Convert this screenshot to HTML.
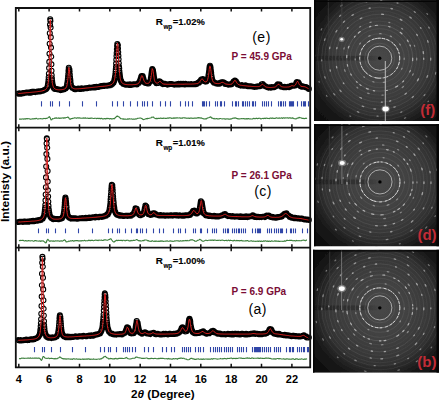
<!DOCTYPE html><html><head><meta charset="utf-8"><style>html,body{margin:0;padding:0;background:#fff;}svg{display:block;}text{font-family:"Liberation Sans",sans-serif;}</style></head><body>
<svg width="440" height="401" viewBox="0 0 440 401">
<rect width="440" height="401" fill="#fff"/>
<path d="M15.8 93.6a2.5 2.5 0 1 0 5.0 0a2.5 2.5 0 1 0 -5.0 0M16.9 93.2a2.5 2.5 0 1 0 5.0 0a2.5 2.5 0 1 0 -5.0 0M18.1 93.7a2.5 2.5 0 1 0 5.0 0a2.5 2.5 0 1 0 -5.0 0M19.2 93.6a2.5 2.5 0 1 0 5.0 0a2.5 2.5 0 1 0 -5.0 0M20.4 93.1a2.5 2.5 0 1 0 5.0 0a2.5 2.5 0 1 0 -5.0 0M21.5 93.1a2.5 2.5 0 1 0 5.0 0a2.5 2.5 0 1 0 -5.0 0M22.6 92.7a2.5 2.5 0 1 0 5.0 0a2.5 2.5 0 1 0 -5.0 0M23.8 92.6a2.5 2.5 0 1 0 5.0 0a2.5 2.5 0 1 0 -5.0 0M24.9 92.5a2.5 2.5 0 1 0 5.0 0a2.5 2.5 0 1 0 -5.0 0M26.1 92.7a2.5 2.5 0 1 0 5.0 0a2.5 2.5 0 1 0 -5.0 0M27.2 92.2a2.5 2.5 0 1 0 5.0 0a2.5 2.5 0 1 0 -5.0 0M28.3 92.7a2.5 2.5 0 1 0 5.0 0a2.5 2.5 0 1 0 -5.0 0M29.5 91.9a2.5 2.5 0 1 0 5.0 0a2.5 2.5 0 1 0 -5.0 0M30.6 91.9a2.5 2.5 0 1 0 5.0 0a2.5 2.5 0 1 0 -5.0 0M31.8 91.7a2.5 2.5 0 1 0 5.0 0a2.5 2.5 0 1 0 -5.0 0M32.9 92.1a2.5 2.5 0 1 0 5.0 0a2.5 2.5 0 1 0 -5.0 0M34.0 91.7a2.5 2.5 0 1 0 5.0 0a2.5 2.5 0 1 0 -5.0 0M35.2 91.6a2.5 2.5 0 1 0 5.0 0a2.5 2.5 0 1 0 -5.0 0M36.3 91.3a2.5 2.5 0 1 0 5.0 0a2.5 2.5 0 1 0 -5.0 0M37.5 91.4a2.5 2.5 0 1 0 5.0 0a2.5 2.5 0 1 0 -5.0 0M38.6 91.1a2.5 2.5 0 1 0 5.0 0a2.5 2.5 0 1 0 -5.0 0M39.7 90.7a2.5 2.5 0 1 0 5.0 0a2.5 2.5 0 1 0 -5.0 0M40.9 90.6a2.5 2.5 0 1 0 5.0 0a2.5 2.5 0 1 0 -5.0 0M41.8 90.1a2.5 2.5 0 1 0 5.0 0a2.5 2.5 0 1 0 -5.0 0M42.8 89.5a2.5 2.5 0 1 0 5.0 0a2.5 2.5 0 1 0 -5.0 0M43.7 89.2a2.5 2.5 0 1 0 5.0 0a2.5 2.5 0 1 0 -5.0 0M44.5 88.0a2.5 2.5 0 1 0 5.0 0a2.5 2.5 0 1 0 -5.0 0M45.1 86.5a2.5 2.5 0 1 0 5.0 0a2.5 2.5 0 1 0 -5.0 0M45.4 85.1a2.5 2.5 0 1 0 5.0 0a2.5 2.5 0 1 0 -5.0 0M45.6 83.5a2.5 2.5 0 1 0 5.0 0a2.5 2.5 0 1 0 -5.0 0M45.8 82.0a2.5 2.5 0 1 0 5.0 0a2.5 2.5 0 1 0 -5.0 0M46.0 80.0a2.5 2.5 0 1 0 5.0 0a2.5 2.5 0 1 0 -5.0 0M46.2 77.3a2.5 2.5 0 1 0 5.0 0a2.5 2.5 0 1 0 -5.0 0M46.4 73.7a2.5 2.5 0 1 0 5.0 0a2.5 2.5 0 1 0 -5.0 0M46.6 68.1a2.5 2.5 0 1 0 5.0 0a2.5 2.5 0 1 0 -5.0 0M46.8 61.9a2.5 2.5 0 1 0 5.0 0a2.5 2.5 0 1 0 -5.0 0M47.0 53.7a2.5 2.5 0 1 0 5.0 0a2.5 2.5 0 1 0 -5.0 0M47.2 43.8a2.5 2.5 0 1 0 5.0 0a2.5 2.5 0 1 0 -5.0 0M47.3 33.2a2.5 2.5 0 1 0 5.0 0a2.5 2.5 0 1 0 -5.0 0M47.5 24.7a2.5 2.5 0 1 0 5.0 0a2.5 2.5 0 1 0 -5.0 0M47.7 19.2a2.5 2.5 0 1 0 5.0 0a2.5 2.5 0 1 0 -5.0 0M47.9 20.9a2.5 2.5 0 1 0 5.0 0a2.5 2.5 0 1 0 -5.0 0M48.1 27.5a2.5 2.5 0 1 0 5.0 0a2.5 2.5 0 1 0 -5.0 0M48.3 37.2a2.5 2.5 0 1 0 5.0 0a2.5 2.5 0 1 0 -5.0 0M48.5 47.6a2.5 2.5 0 1 0 5.0 0a2.5 2.5 0 1 0 -5.0 0M48.7 56.7a2.5 2.5 0 1 0 5.0 0a2.5 2.5 0 1 0 -5.0 0M48.9 64.3a2.5 2.5 0 1 0 5.0 0a2.5 2.5 0 1 0 -5.0 0M49.0 70.7a2.5 2.5 0 1 0 5.0 0a2.5 2.5 0 1 0 -5.0 0M49.2 75.2a2.5 2.5 0 1 0 5.0 0a2.5 2.5 0 1 0 -5.0 0M49.4 78.2a2.5 2.5 0 1 0 5.0 0a2.5 2.5 0 1 0 -5.0 0M49.6 80.8a2.5 2.5 0 1 0 5.0 0a2.5 2.5 0 1 0 -5.0 0M49.8 82.5a2.5 2.5 0 1 0 5.0 0a2.5 2.5 0 1 0 -5.0 0M50.0 83.8a2.5 2.5 0 1 0 5.0 0a2.5 2.5 0 1 0 -5.0 0M50.2 85.1a2.5 2.5 0 1 0 5.0 0a2.5 2.5 0 1 0 -5.0 0M50.6 86.1a2.5 2.5 0 1 0 5.0 0a2.5 2.5 0 1 0 -5.0 0M51.0 87.4a2.5 2.5 0 1 0 5.0 0a2.5 2.5 0 1 0 -5.0 0M51.5 88.2a2.5 2.5 0 1 0 5.0 0a2.5 2.5 0 1 0 -5.0 0M52.3 88.9a2.5 2.5 0 1 0 5.0 0a2.5 2.5 0 1 0 -5.0 0M53.2 88.9a2.5 2.5 0 1 0 5.0 0a2.5 2.5 0 1 0 -5.0 0M54.4 89.3a2.5 2.5 0 1 0 5.0 0a2.5 2.5 0 1 0 -5.0 0M55.5 89.4a2.5 2.5 0 1 0 5.0 0a2.5 2.5 0 1 0 -5.0 0M56.7 89.6a2.5 2.5 0 1 0 5.0 0a2.5 2.5 0 1 0 -5.0 0M57.8 90.1a2.5 2.5 0 1 0 5.0 0a2.5 2.5 0 1 0 -5.0 0M58.9 90.0a2.5 2.5 0 1 0 5.0 0a2.5 2.5 0 1 0 -5.0 0M60.1 89.8a2.5 2.5 0 1 0 5.0 0a2.5 2.5 0 1 0 -5.0 0M61.2 89.0a2.5 2.5 0 1 0 5.0 0a2.5 2.5 0 1 0 -5.0 0M62.2 89.1a2.5 2.5 0 1 0 5.0 0a2.5 2.5 0 1 0 -5.0 0M63.1 88.5a2.5 2.5 0 1 0 5.0 0a2.5 2.5 0 1 0 -5.0 0M63.9 87.5a2.5 2.5 0 1 0 5.0 0a2.5 2.5 0 1 0 -5.0 0M64.2 86.5a2.5 2.5 0 1 0 5.0 0a2.5 2.5 0 1 0 -5.0 0M64.6 84.4a2.5 2.5 0 1 0 5.0 0a2.5 2.5 0 1 0 -5.0 0M64.8 83.3a2.5 2.5 0 1 0 5.0 0a2.5 2.5 0 1 0 -5.0 0M65.0 82.4a2.5 2.5 0 1 0 5.0 0a2.5 2.5 0 1 0 -5.0 0M65.2 80.7a2.5 2.5 0 1 0 5.0 0a2.5 2.5 0 1 0 -5.0 0M65.4 78.9a2.5 2.5 0 1 0 5.0 0a2.5 2.5 0 1 0 -5.0 0M65.6 76.2a2.5 2.5 0 1 0 5.0 0a2.5 2.5 0 1 0 -5.0 0M65.8 74.1a2.5 2.5 0 1 0 5.0 0a2.5 2.5 0 1 0 -5.0 0M66.0 71.0a2.5 2.5 0 1 0 5.0 0a2.5 2.5 0 1 0 -5.0 0M66.2 69.4a2.5 2.5 0 1 0 5.0 0a2.5 2.5 0 1 0 -5.0 0M66.3 67.8a2.5 2.5 0 1 0 5.0 0a2.5 2.5 0 1 0 -5.0 0M66.9 69.5a2.5 2.5 0 1 0 5.0 0a2.5 2.5 0 1 0 -5.0 0M67.1 71.6a2.5 2.5 0 1 0 5.0 0a2.5 2.5 0 1 0 -5.0 0M67.3 74.5a2.5 2.5 0 1 0 5.0 0a2.5 2.5 0 1 0 -5.0 0M67.5 77.1a2.5 2.5 0 1 0 5.0 0a2.5 2.5 0 1 0 -5.0 0M67.7 79.0a2.5 2.5 0 1 0 5.0 0a2.5 2.5 0 1 0 -5.0 0M67.9 80.6a2.5 2.5 0 1 0 5.0 0a2.5 2.5 0 1 0 -5.0 0M68.0 82.3a2.5 2.5 0 1 0 5.0 0a2.5 2.5 0 1 0 -5.0 0M68.2 84.0a2.5 2.5 0 1 0 5.0 0a2.5 2.5 0 1 0 -5.0 0M68.4 84.5a2.5 2.5 0 1 0 5.0 0a2.5 2.5 0 1 0 -5.0 0M68.8 86.5a2.5 2.5 0 1 0 5.0 0a2.5 2.5 0 1 0 -5.0 0M69.4 87.2a2.5 2.5 0 1 0 5.0 0a2.5 2.5 0 1 0 -5.0 0M70.1 87.9a2.5 2.5 0 1 0 5.0 0a2.5 2.5 0 1 0 -5.0 0M71.1 88.2a2.5 2.5 0 1 0 5.0 0a2.5 2.5 0 1 0 -5.0 0M72.2 89.2a2.5 2.5 0 1 0 5.0 0a2.5 2.5 0 1 0 -5.0 0M73.4 89.2a2.5 2.5 0 1 0 5.0 0a2.5 2.5 0 1 0 -5.0 0M74.5 88.7a2.5 2.5 0 1 0 5.0 0a2.5 2.5 0 1 0 -5.0 0M75.7 88.5a2.5 2.5 0 1 0 5.0 0a2.5 2.5 0 1 0 -5.0 0M76.8 88.9a2.5 2.5 0 1 0 5.0 0a2.5 2.5 0 1 0 -5.0 0M77.9 89.0a2.5 2.5 0 1 0 5.0 0a2.5 2.5 0 1 0 -5.0 0M79.1 88.2a2.5 2.5 0 1 0 5.0 0a2.5 2.5 0 1 0 -5.0 0M80.2 88.6a2.5 2.5 0 1 0 5.0 0a2.5 2.5 0 1 0 -5.0 0M81.3 88.6a2.5 2.5 0 1 0 5.0 0a2.5 2.5 0 1 0 -5.0 0M82.5 88.2a2.5 2.5 0 1 0 5.0 0a2.5 2.5 0 1 0 -5.0 0M83.6 88.2a2.5 2.5 0 1 0 5.0 0a2.5 2.5 0 1 0 -5.0 0M84.8 88.2a2.5 2.5 0 1 0 5.0 0a2.5 2.5 0 1 0 -5.0 0M85.9 87.7a2.5 2.5 0 1 0 5.0 0a2.5 2.5 0 1 0 -5.0 0M87.0 87.6a2.5 2.5 0 1 0 5.0 0a2.5 2.5 0 1 0 -5.0 0M88.2 87.8a2.5 2.5 0 1 0 5.0 0a2.5 2.5 0 1 0 -5.0 0M89.3 87.5a2.5 2.5 0 1 0 5.0 0a2.5 2.5 0 1 0 -5.0 0M90.5 87.4a2.5 2.5 0 1 0 5.0 0a2.5 2.5 0 1 0 -5.0 0M91.6 87.1a2.5 2.5 0 1 0 5.0 0a2.5 2.5 0 1 0 -5.0 0M92.8 87.5a2.5 2.5 0 1 0 5.0 0a2.5 2.5 0 1 0 -5.0 0M93.9 86.8a2.5 2.5 0 1 0 5.0 0a2.5 2.5 0 1 0 -5.0 0M95.0 87.0a2.5 2.5 0 1 0 5.0 0a2.5 2.5 0 1 0 -5.0 0M96.2 87.0a2.5 2.5 0 1 0 5.0 0a2.5 2.5 0 1 0 -5.0 0M97.3 86.5a2.5 2.5 0 1 0 5.0 0a2.5 2.5 0 1 0 -5.0 0M98.5 86.1a2.5 2.5 0 1 0 5.0 0a2.5 2.5 0 1 0 -5.0 0M99.6 86.1a2.5 2.5 0 1 0 5.0 0a2.5 2.5 0 1 0 -5.0 0M100.7 85.9a2.5 2.5 0 1 0 5.0 0a2.5 2.5 0 1 0 -5.0 0M101.9 85.9a2.5 2.5 0 1 0 5.0 0a2.5 2.5 0 1 0 -5.0 0M103.0 85.7a2.5 2.5 0 1 0 5.0 0a2.5 2.5 0 1 0 -5.0 0M104.1 85.8a2.5 2.5 0 1 0 5.0 0a2.5 2.5 0 1 0 -5.0 0M105.3 85.6a2.5 2.5 0 1 0 5.0 0a2.5 2.5 0 1 0 -5.0 0M106.4 85.4a2.5 2.5 0 1 0 5.0 0a2.5 2.5 0 1 0 -5.0 0M107.6 85.3a2.5 2.5 0 1 0 5.0 0a2.5 2.5 0 1 0 -5.0 0M108.5 84.9a2.5 2.5 0 1 0 5.0 0a2.5 2.5 0 1 0 -5.0 0M109.5 84.3a2.5 2.5 0 1 0 5.0 0a2.5 2.5 0 1 0 -5.0 0M110.2 83.4a2.5 2.5 0 1 0 5.0 0a2.5 2.5 0 1 0 -5.0 0M111.0 82.7a2.5 2.5 0 1 0 5.0 0a2.5 2.5 0 1 0 -5.0 0M111.6 81.3a2.5 2.5 0 1 0 5.0 0a2.5 2.5 0 1 0 -5.0 0M111.9 79.7a2.5 2.5 0 1 0 5.0 0a2.5 2.5 0 1 0 -5.0 0M112.3 78.3a2.5 2.5 0 1 0 5.0 0a2.5 2.5 0 1 0 -5.0 0M112.5 76.9a2.5 2.5 0 1 0 5.0 0a2.5 2.5 0 1 0 -5.0 0M112.7 75.8a2.5 2.5 0 1 0 5.0 0a2.5 2.5 0 1 0 -5.0 0M112.9 74.1a2.5 2.5 0 1 0 5.0 0a2.5 2.5 0 1 0 -5.0 0M113.1 71.7a2.5 2.5 0 1 0 5.0 0a2.5 2.5 0 1 0 -5.0 0M113.3 69.4a2.5 2.5 0 1 0 5.0 0a2.5 2.5 0 1 0 -5.0 0M113.5 66.7a2.5 2.5 0 1 0 5.0 0a2.5 2.5 0 1 0 -5.0 0M113.6 63.5a2.5 2.5 0 1 0 5.0 0a2.5 2.5 0 1 0 -5.0 0M113.8 59.8a2.5 2.5 0 1 0 5.0 0a2.5 2.5 0 1 0 -5.0 0M114.0 56.1a2.5 2.5 0 1 0 5.0 0a2.5 2.5 0 1 0 -5.0 0M114.2 53.1a2.5 2.5 0 1 0 5.0 0a2.5 2.5 0 1 0 -5.0 0M114.4 49.3a2.5 2.5 0 1 0 5.0 0a2.5 2.5 0 1 0 -5.0 0M114.6 45.9a2.5 2.5 0 1 0 5.0 0a2.5 2.5 0 1 0 -5.0 0M114.8 44.0a2.5 2.5 0 1 0 5.0 0a2.5 2.5 0 1 0 -5.0 0M115.4 45.2a2.5 2.5 0 1 0 5.0 0a2.5 2.5 0 1 0 -5.0 0M115.5 48.5a2.5 2.5 0 1 0 5.0 0a2.5 2.5 0 1 0 -5.0 0M115.7 52.2a2.5 2.5 0 1 0 5.0 0a2.5 2.5 0 1 0 -5.0 0M115.9 55.8a2.5 2.5 0 1 0 5.0 0a2.5 2.5 0 1 0 -5.0 0M116.1 59.3a2.5 2.5 0 1 0 5.0 0a2.5 2.5 0 1 0 -5.0 0M116.3 63.2a2.5 2.5 0 1 0 5.0 0a2.5 2.5 0 1 0 -5.0 0M116.5 66.3a2.5 2.5 0 1 0 5.0 0a2.5 2.5 0 1 0 -5.0 0M116.7 68.4a2.5 2.5 0 1 0 5.0 0a2.5 2.5 0 1 0 -5.0 0M116.9 71.1a2.5 2.5 0 1 0 5.0 0a2.5 2.5 0 1 0 -5.0 0M117.1 73.2a2.5 2.5 0 1 0 5.0 0a2.5 2.5 0 1 0 -5.0 0M117.3 74.9a2.5 2.5 0 1 0 5.0 0a2.5 2.5 0 1 0 -5.0 0M117.5 76.6a2.5 2.5 0 1 0 5.0 0a2.5 2.5 0 1 0 -5.0 0M117.6 77.4a2.5 2.5 0 1 0 5.0 0a2.5 2.5 0 1 0 -5.0 0M117.8 78.9a2.5 2.5 0 1 0 5.0 0a2.5 2.5 0 1 0 -5.0 0M118.2 80.5a2.5 2.5 0 1 0 5.0 0a2.5 2.5 0 1 0 -5.0 0M118.6 80.9a2.5 2.5 0 1 0 5.0 0a2.5 2.5 0 1 0 -5.0 0M119.2 82.5a2.5 2.5 0 1 0 5.0 0a2.5 2.5 0 1 0 -5.0 0M119.9 83.0a2.5 2.5 0 1 0 5.0 0a2.5 2.5 0 1 0 -5.0 0M120.9 83.9a2.5 2.5 0 1 0 5.0 0a2.5 2.5 0 1 0 -5.0 0M121.8 84.3a2.5 2.5 0 1 0 5.0 0a2.5 2.5 0 1 0 -5.0 0M123.0 84.8a2.5 2.5 0 1 0 5.0 0a2.5 2.5 0 1 0 -5.0 0M124.1 84.8a2.5 2.5 0 1 0 5.0 0a2.5 2.5 0 1 0 -5.0 0M125.2 84.5a2.5 2.5 0 1 0 5.0 0a2.5 2.5 0 1 0 -5.0 0M126.4 84.9a2.5 2.5 0 1 0 5.0 0a2.5 2.5 0 1 0 -5.0 0M127.5 84.4a2.5 2.5 0 1 0 5.0 0a2.5 2.5 0 1 0 -5.0 0M128.7 84.9a2.5 2.5 0 1 0 5.0 0a2.5 2.5 0 1 0 -5.0 0M129.8 84.6a2.5 2.5 0 1 0 5.0 0a2.5 2.5 0 1 0 -5.0 0M130.9 84.4a2.5 2.5 0 1 0 5.0 0a2.5 2.5 0 1 0 -5.0 0M132.1 84.3a2.5 2.5 0 1 0 5.0 0a2.5 2.5 0 1 0 -5.0 0M133.2 84.2a2.5 2.5 0 1 0 5.0 0a2.5 2.5 0 1 0 -5.0 0M134.4 84.4a2.5 2.5 0 1 0 5.0 0a2.5 2.5 0 1 0 -5.0 0M135.3 83.5a2.5 2.5 0 1 0 5.0 0a2.5 2.5 0 1 0 -5.0 0M136.3 82.9a2.5 2.5 0 1 0 5.0 0a2.5 2.5 0 1 0 -5.0 0M137.0 81.8a2.5 2.5 0 1 0 5.0 0a2.5 2.5 0 1 0 -5.0 0M137.6 80.4a2.5 2.5 0 1 0 5.0 0a2.5 2.5 0 1 0 -5.0 0M138.0 79.7a2.5 2.5 0 1 0 5.0 0a2.5 2.5 0 1 0 -5.0 0M138.3 78.2a2.5 2.5 0 1 0 5.0 0a2.5 2.5 0 1 0 -5.0 0M138.7 76.9a2.5 2.5 0 1 0 5.0 0a2.5 2.5 0 1 0 -5.0 0M139.1 76.0a2.5 2.5 0 1 0 5.0 0a2.5 2.5 0 1 0 -5.0 0M140.1 76.0a2.5 2.5 0 1 0 5.0 0a2.5 2.5 0 1 0 -5.0 0M140.4 76.9a2.5 2.5 0 1 0 5.0 0a2.5 2.5 0 1 0 -5.0 0M140.8 78.4a2.5 2.5 0 1 0 5.0 0a2.5 2.5 0 1 0 -5.0 0M141.2 79.9a2.5 2.5 0 1 0 5.0 0a2.5 2.5 0 1 0 -5.0 0M141.6 81.1a2.5 2.5 0 1 0 5.0 0a2.5 2.5 0 1 0 -5.0 0M142.2 82.4a2.5 2.5 0 1 0 5.0 0a2.5 2.5 0 1 0 -5.0 0M142.9 82.9a2.5 2.5 0 1 0 5.0 0a2.5 2.5 0 1 0 -5.0 0M143.9 83.1a2.5 2.5 0 1 0 5.0 0a2.5 2.5 0 1 0 -5.0 0M145.0 83.5a2.5 2.5 0 1 0 5.0 0a2.5 2.5 0 1 0 -5.0 0M146.1 83.4a2.5 2.5 0 1 0 5.0 0a2.5 2.5 0 1 0 -5.0 0M147.1 82.1a2.5 2.5 0 1 0 5.0 0a2.5 2.5 0 1 0 -5.0 0M147.7 81.5a2.5 2.5 0 1 0 5.0 0a2.5 2.5 0 1 0 -5.0 0M148.0 80.2a2.5 2.5 0 1 0 5.0 0a2.5 2.5 0 1 0 -5.0 0M148.4 78.1a2.5 2.5 0 1 0 5.0 0a2.5 2.5 0 1 0 -5.0 0M148.6 76.9a2.5 2.5 0 1 0 5.0 0a2.5 2.5 0 1 0 -5.0 0M148.8 75.3a2.5 2.5 0 1 0 5.0 0a2.5 2.5 0 1 0 -5.0 0M149.0 73.8a2.5 2.5 0 1 0 5.0 0a2.5 2.5 0 1 0 -5.0 0M149.2 72.2a2.5 2.5 0 1 0 5.0 0a2.5 2.5 0 1 0 -5.0 0M149.4 71.1a2.5 2.5 0 1 0 5.0 0a2.5 2.5 0 1 0 -5.0 0M149.6 69.9a2.5 2.5 0 1 0 5.0 0a2.5 2.5 0 1 0 -5.0 0M149.8 69.0a2.5 2.5 0 1 0 5.0 0a2.5 2.5 0 1 0 -5.0 0M150.5 70.2a2.5 2.5 0 1 0 5.0 0a2.5 2.5 0 1 0 -5.0 0M150.7 72.0a2.5 2.5 0 1 0 5.0 0a2.5 2.5 0 1 0 -5.0 0M150.9 73.1a2.5 2.5 0 1 0 5.0 0a2.5 2.5 0 1 0 -5.0 0M151.1 74.4a2.5 2.5 0 1 0 5.0 0a2.5 2.5 0 1 0 -5.0 0M151.3 75.7a2.5 2.5 0 1 0 5.0 0a2.5 2.5 0 1 0 -5.0 0M151.5 77.2a2.5 2.5 0 1 0 5.0 0a2.5 2.5 0 1 0 -5.0 0M151.7 78.4a2.5 2.5 0 1 0 5.0 0a2.5 2.5 0 1 0 -5.0 0M152.0 80.5a2.5 2.5 0 1 0 5.0 0a2.5 2.5 0 1 0 -5.0 0M152.4 81.1a2.5 2.5 0 1 0 5.0 0a2.5 2.5 0 1 0 -5.0 0M153.0 82.1a2.5 2.5 0 1 0 5.0 0a2.5 2.5 0 1 0 -5.0 0M153.9 83.2a2.5 2.5 0 1 0 5.0 0a2.5 2.5 0 1 0 -5.0 0M155.1 83.0a2.5 2.5 0 1 0 5.0 0a2.5 2.5 0 1 0 -5.0 0M156.0 82.6a2.5 2.5 0 1 0 5.0 0a2.5 2.5 0 1 0 -5.0 0M156.8 81.4a2.5 2.5 0 1 0 5.0 0a2.5 2.5 0 1 0 -5.0 0M157.7 81.6a2.5 2.5 0 1 0 5.0 0a2.5 2.5 0 1 0 -5.0 0M158.5 82.5a2.5 2.5 0 1 0 5.0 0a2.5 2.5 0 1 0 -5.0 0M159.2 83.3a2.5 2.5 0 1 0 5.0 0a2.5 2.5 0 1 0 -5.0 0M160.2 84.1a2.5 2.5 0 1 0 5.0 0a2.5 2.5 0 1 0 -5.0 0M161.3 83.9a2.5 2.5 0 1 0 5.0 0a2.5 2.5 0 1 0 -5.0 0M162.5 83.8a2.5 2.5 0 1 0 5.0 0a2.5 2.5 0 1 0 -5.0 0M163.6 84.1a2.5 2.5 0 1 0 5.0 0a2.5 2.5 0 1 0 -5.0 0M164.8 84.6a2.5 2.5 0 1 0 5.0 0a2.5 2.5 0 1 0 -5.0 0M165.9 84.3a2.5 2.5 0 1 0 5.0 0a2.5 2.5 0 1 0 -5.0 0M167.0 84.1a2.5 2.5 0 1 0 5.0 0a2.5 2.5 0 1 0 -5.0 0M168.2 84.0a2.5 2.5 0 1 0 5.0 0a2.5 2.5 0 1 0 -5.0 0M169.3 84.0a2.5 2.5 0 1 0 5.0 0a2.5 2.5 0 1 0 -5.0 0M170.5 84.2a2.5 2.5 0 1 0 5.0 0a2.5 2.5 0 1 0 -5.0 0M171.6 84.6a2.5 2.5 0 1 0 5.0 0a2.5 2.5 0 1 0 -5.0 0M172.7 84.5a2.5 2.5 0 1 0 5.0 0a2.5 2.5 0 1 0 -5.0 0M173.9 84.4a2.5 2.5 0 1 0 5.0 0a2.5 2.5 0 1 0 -5.0 0M175.0 84.4a2.5 2.5 0 1 0 5.0 0a2.5 2.5 0 1 0 -5.0 0M176.2 83.9a2.5 2.5 0 1 0 5.0 0a2.5 2.5 0 1 0 -5.0 0M177.3 84.4a2.5 2.5 0 1 0 5.0 0a2.5 2.5 0 1 0 -5.0 0M178.4 83.9a2.5 2.5 0 1 0 5.0 0a2.5 2.5 0 1 0 -5.0 0M179.6 84.2a2.5 2.5 0 1 0 5.0 0a2.5 2.5 0 1 0 -5.0 0M180.7 83.8a2.5 2.5 0 1 0 5.0 0a2.5 2.5 0 1 0 -5.0 0M181.9 84.5a2.5 2.5 0 1 0 5.0 0a2.5 2.5 0 1 0 -5.0 0M183.0 83.8a2.5 2.5 0 1 0 5.0 0a2.5 2.5 0 1 0 -5.0 0M184.1 84.2a2.5 2.5 0 1 0 5.0 0a2.5 2.5 0 1 0 -5.0 0M185.3 84.3a2.5 2.5 0 1 0 5.0 0a2.5 2.5 0 1 0 -5.0 0M186.4 84.2a2.5 2.5 0 1 0 5.0 0a2.5 2.5 0 1 0 -5.0 0M187.6 84.2a2.5 2.5 0 1 0 5.0 0a2.5 2.5 0 1 0 -5.0 0M188.7 84.0a2.5 2.5 0 1 0 5.0 0a2.5 2.5 0 1 0 -5.0 0M189.8 84.3a2.5 2.5 0 1 0 5.0 0a2.5 2.5 0 1 0 -5.0 0M191.0 84.3a2.5 2.5 0 1 0 5.0 0a2.5 2.5 0 1 0 -5.0 0M192.1 84.0a2.5 2.5 0 1 0 5.0 0a2.5 2.5 0 1 0 -5.0 0M193.3 84.2a2.5 2.5 0 1 0 5.0 0a2.5 2.5 0 1 0 -5.0 0M194.4 83.9a2.5 2.5 0 1 0 5.0 0a2.5 2.5 0 1 0 -5.0 0M195.5 82.9a2.5 2.5 0 1 0 5.0 0a2.5 2.5 0 1 0 -5.0 0M196.5 82.8a2.5 2.5 0 1 0 5.0 0a2.5 2.5 0 1 0 -5.0 0M197.2 81.5a2.5 2.5 0 1 0 5.0 0a2.5 2.5 0 1 0 -5.0 0M198.0 80.9a2.5 2.5 0 1 0 5.0 0a2.5 2.5 0 1 0 -5.0 0M198.6 79.7a2.5 2.5 0 1 0 5.0 0a2.5 2.5 0 1 0 -5.0 0M199.3 79.2a2.5 2.5 0 1 0 5.0 0a2.5 2.5 0 1 0 -5.0 0M200.3 79.1a2.5 2.5 0 1 0 5.0 0a2.5 2.5 0 1 0 -5.0 0M201.1 80.9a2.5 2.5 0 1 0 5.0 0a2.5 2.5 0 1 0 -5.0 0M201.8 81.0a2.5 2.5 0 1 0 5.0 0a2.5 2.5 0 1 0 -5.0 0M202.8 81.6a2.5 2.5 0 1 0 5.0 0a2.5 2.5 0 1 0 -5.0 0M203.9 81.4a2.5 2.5 0 1 0 5.0 0a2.5 2.5 0 1 0 -5.0 0M204.7 80.5a2.5 2.5 0 1 0 5.0 0a2.5 2.5 0 1 0 -5.0 0M205.2 79.7a2.5 2.5 0 1 0 5.0 0a2.5 2.5 0 1 0 -5.0 0M205.6 78.0a2.5 2.5 0 1 0 5.0 0a2.5 2.5 0 1 0 -5.0 0M205.8 77.0a2.5 2.5 0 1 0 5.0 0a2.5 2.5 0 1 0 -5.0 0M206.0 75.3a2.5 2.5 0 1 0 5.0 0a2.5 2.5 0 1 0 -5.0 0M206.2 74.3a2.5 2.5 0 1 0 5.0 0a2.5 2.5 0 1 0 -5.0 0M206.4 72.9a2.5 2.5 0 1 0 5.0 0a2.5 2.5 0 1 0 -5.0 0M206.6 71.3a2.5 2.5 0 1 0 5.0 0a2.5 2.5 0 1 0 -5.0 0M206.8 69.3a2.5 2.5 0 1 0 5.0 0a2.5 2.5 0 1 0 -5.0 0M206.9 68.4a2.5 2.5 0 1 0 5.0 0a2.5 2.5 0 1 0 -5.0 0M207.1 66.9a2.5 2.5 0 1 0 5.0 0a2.5 2.5 0 1 0 -5.0 0M207.5 65.8a2.5 2.5 0 1 0 5.0 0a2.5 2.5 0 1 0 -5.0 0M207.9 66.7a2.5 2.5 0 1 0 5.0 0a2.5 2.5 0 1 0 -5.0 0M208.1 68.1a2.5 2.5 0 1 0 5.0 0a2.5 2.5 0 1 0 -5.0 0M208.3 70.0a2.5 2.5 0 1 0 5.0 0a2.5 2.5 0 1 0 -5.0 0M208.5 71.4a2.5 2.5 0 1 0 5.0 0a2.5 2.5 0 1 0 -5.0 0M208.7 73.0a2.5 2.5 0 1 0 5.0 0a2.5 2.5 0 1 0 -5.0 0M208.8 74.8a2.5 2.5 0 1 0 5.0 0a2.5 2.5 0 1 0 -5.0 0M209.0 75.7a2.5 2.5 0 1 0 5.0 0a2.5 2.5 0 1 0 -5.0 0M209.2 77.3a2.5 2.5 0 1 0 5.0 0a2.5 2.5 0 1 0 -5.0 0M209.4 77.7a2.5 2.5 0 1 0 5.0 0a2.5 2.5 0 1 0 -5.0 0M209.8 79.7a2.5 2.5 0 1 0 5.0 0a2.5 2.5 0 1 0 -5.0 0M210.2 81.0a2.5 2.5 0 1 0 5.0 0a2.5 2.5 0 1 0 -5.0 0M210.7 81.5a2.5 2.5 0 1 0 5.0 0a2.5 2.5 0 1 0 -5.0 0M211.5 82.8a2.5 2.5 0 1 0 5.0 0a2.5 2.5 0 1 0 -5.0 0M212.5 82.9a2.5 2.5 0 1 0 5.0 0a2.5 2.5 0 1 0 -5.0 0M213.6 83.5a2.5 2.5 0 1 0 5.0 0a2.5 2.5 0 1 0 -5.0 0M214.7 83.7a2.5 2.5 0 1 0 5.0 0a2.5 2.5 0 1 0 -5.0 0M215.9 83.3a2.5 2.5 0 1 0 5.0 0a2.5 2.5 0 1 0 -5.0 0M217.0 83.8a2.5 2.5 0 1 0 5.0 0a2.5 2.5 0 1 0 -5.0 0M218.0 82.9a2.5 2.5 0 1 0 5.0 0a2.5 2.5 0 1 0 -5.0 0M218.9 82.3a2.5 2.5 0 1 0 5.0 0a2.5 2.5 0 1 0 -5.0 0M219.9 82.2a2.5 2.5 0 1 0 5.0 0a2.5 2.5 0 1 0 -5.0 0M220.8 82.2a2.5 2.5 0 1 0 5.0 0a2.5 2.5 0 1 0 -5.0 0M221.8 82.9a2.5 2.5 0 1 0 5.0 0a2.5 2.5 0 1 0 -5.0 0M222.7 84.0a2.5 2.5 0 1 0 5.0 0a2.5 2.5 0 1 0 -5.0 0M223.7 83.7a2.5 2.5 0 1 0 5.0 0a2.5 2.5 0 1 0 -5.0 0M224.8 84.3a2.5 2.5 0 1 0 5.0 0a2.5 2.5 0 1 0 -5.0 0M225.9 84.7a2.5 2.5 0 1 0 5.0 0a2.5 2.5 0 1 0 -5.0 0M227.1 84.3a2.5 2.5 0 1 0 5.0 0a2.5 2.5 0 1 0 -5.0 0M228.2 84.5a2.5 2.5 0 1 0 5.0 0a2.5 2.5 0 1 0 -5.0 0M229.4 84.1a2.5 2.5 0 1 0 5.0 0a2.5 2.5 0 1 0 -5.0 0M230.3 82.8a2.5 2.5 0 1 0 5.0 0a2.5 2.5 0 1 0 -5.0 0M231.1 81.6a2.5 2.5 0 1 0 5.0 0a2.5 2.5 0 1 0 -5.0 0M231.6 81.2a2.5 2.5 0 1 0 5.0 0a2.5 2.5 0 1 0 -5.0 0M232.4 80.5a2.5 2.5 0 1 0 5.0 0a2.5 2.5 0 1 0 -5.0 0M233.4 81.4a2.5 2.5 0 1 0 5.0 0a2.5 2.5 0 1 0 -5.0 0M233.9 82.3a2.5 2.5 0 1 0 5.0 0a2.5 2.5 0 1 0 -5.0 0M234.5 83.1a2.5 2.5 0 1 0 5.0 0a2.5 2.5 0 1 0 -5.0 0M235.2 84.4a2.5 2.5 0 1 0 5.0 0a2.5 2.5 0 1 0 -5.0 0M236.2 84.8a2.5 2.5 0 1 0 5.0 0a2.5 2.5 0 1 0 -5.0 0M237.2 85.2a2.5 2.5 0 1 0 5.0 0a2.5 2.5 0 1 0 -5.0 0M238.3 85.6a2.5 2.5 0 1 0 5.0 0a2.5 2.5 0 1 0 -5.0 0M239.4 85.1a2.5 2.5 0 1 0 5.0 0a2.5 2.5 0 1 0 -5.0 0M240.6 85.8a2.5 2.5 0 1 0 5.0 0a2.5 2.5 0 1 0 -5.0 0M241.7 85.8a2.5 2.5 0 1 0 5.0 0a2.5 2.5 0 1 0 -5.0 0M242.9 85.4a2.5 2.5 0 1 0 5.0 0a2.5 2.5 0 1 0 -5.0 0M244.0 85.7a2.5 2.5 0 1 0 5.0 0a2.5 2.5 0 1 0 -5.0 0M245.1 86.2a2.5 2.5 0 1 0 5.0 0a2.5 2.5 0 1 0 -5.0 0M246.3 86.2a2.5 2.5 0 1 0 5.0 0a2.5 2.5 0 1 0 -5.0 0M247.4 86.3a2.5 2.5 0 1 0 5.0 0a2.5 2.5 0 1 0 -5.0 0M248.6 86.2a2.5 2.5 0 1 0 5.0 0a2.5 2.5 0 1 0 -5.0 0M249.7 86.5a2.5 2.5 0 1 0 5.0 0a2.5 2.5 0 1 0 -5.0 0M250.8 86.8a2.5 2.5 0 1 0 5.0 0a2.5 2.5 0 1 0 -5.0 0M252.0 87.0a2.5 2.5 0 1 0 5.0 0a2.5 2.5 0 1 0 -5.0 0M253.1 86.7a2.5 2.5 0 1 0 5.0 0a2.5 2.5 0 1 0 -5.0 0M254.2 86.8a2.5 2.5 0 1 0 5.0 0a2.5 2.5 0 1 0 -5.0 0M255.4 86.3a2.5 2.5 0 1 0 5.0 0a2.5 2.5 0 1 0 -5.0 0M256.5 86.2a2.5 2.5 0 1 0 5.0 0a2.5 2.5 0 1 0 -5.0 0M257.5 86.2a2.5 2.5 0 1 0 5.0 0a2.5 2.5 0 1 0 -5.0 0M258.4 85.7a2.5 2.5 0 1 0 5.0 0a2.5 2.5 0 1 0 -5.0 0M259.2 84.4a2.5 2.5 0 1 0 5.0 0a2.5 2.5 0 1 0 -5.0 0M260.1 84.0a2.5 2.5 0 1 0 5.0 0a2.5 2.5 0 1 0 -5.0 0M261.1 85.1a2.5 2.5 0 1 0 5.0 0a2.5 2.5 0 1 0 -5.0 0M261.9 85.8a2.5 2.5 0 1 0 5.0 0a2.5 2.5 0 1 0 -5.0 0M262.8 86.3a2.5 2.5 0 1 0 5.0 0a2.5 2.5 0 1 0 -5.0 0M263.8 86.7a2.5 2.5 0 1 0 5.0 0a2.5 2.5 0 1 0 -5.0 0M264.9 87.2a2.5 2.5 0 1 0 5.0 0a2.5 2.5 0 1 0 -5.0 0M266.0 87.6a2.5 2.5 0 1 0 5.0 0a2.5 2.5 0 1 0 -5.0 0M267.2 87.2a2.5 2.5 0 1 0 5.0 0a2.5 2.5 0 1 0 -5.0 0M268.3 87.8a2.5 2.5 0 1 0 5.0 0a2.5 2.5 0 1 0 -5.0 0M269.4 87.1a2.5 2.5 0 1 0 5.0 0a2.5 2.5 0 1 0 -5.0 0M270.6 87.2a2.5 2.5 0 1 0 5.0 0a2.5 2.5 0 1 0 -5.0 0M271.7 87.3a2.5 2.5 0 1 0 5.0 0a2.5 2.5 0 1 0 -5.0 0M272.9 86.5a2.5 2.5 0 1 0 5.0 0a2.5 2.5 0 1 0 -5.0 0M273.8 86.1a2.5 2.5 0 1 0 5.0 0a2.5 2.5 0 1 0 -5.0 0M274.6 85.2a2.5 2.5 0 1 0 5.0 0a2.5 2.5 0 1 0 -5.0 0M275.3 84.3a2.5 2.5 0 1 0 5.0 0a2.5 2.5 0 1 0 -5.0 0M276.3 84.5a2.5 2.5 0 1 0 5.0 0a2.5 2.5 0 1 0 -5.0 0M277.1 84.6a2.5 2.5 0 1 0 5.0 0a2.5 2.5 0 1 0 -5.0 0M277.8 86.0a2.5 2.5 0 1 0 5.0 0a2.5 2.5 0 1 0 -5.0 0M278.8 86.8a2.5 2.5 0 1 0 5.0 0a2.5 2.5 0 1 0 -5.0 0M279.7 86.7a2.5 2.5 0 1 0 5.0 0a2.5 2.5 0 1 0 -5.0 0M280.9 87.3a2.5 2.5 0 1 0 5.0 0a2.5 2.5 0 1 0 -5.0 0M282.0 86.9a2.5 2.5 0 1 0 5.0 0a2.5 2.5 0 1 0 -5.0 0M283.1 87.3a2.5 2.5 0 1 0 5.0 0a2.5 2.5 0 1 0 -5.0 0M284.3 87.1a2.5 2.5 0 1 0 5.0 0a2.5 2.5 0 1 0 -5.0 0M285.4 86.9a2.5 2.5 0 1 0 5.0 0a2.5 2.5 0 1 0 -5.0 0M286.6 87.2a2.5 2.5 0 1 0 5.0 0a2.5 2.5 0 1 0 -5.0 0M287.7 86.7a2.5 2.5 0 1 0 5.0 0a2.5 2.5 0 1 0 -5.0 0M288.6 85.9a2.5 2.5 0 1 0 5.0 0a2.5 2.5 0 1 0 -5.0 0M289.6 85.7a2.5 2.5 0 1 0 5.0 0a2.5 2.5 0 1 0 -5.0 0M290.7 85.7a2.5 2.5 0 1 0 5.0 0a2.5 2.5 0 1 0 -5.0 0M291.9 85.7a2.5 2.5 0 1 0 5.0 0a2.5 2.5 0 1 0 -5.0 0M292.8 85.4a2.5 2.5 0 1 0 5.0 0a2.5 2.5 0 1 0 -5.0 0M293.4 84.5a2.5 2.5 0 1 0 5.0 0a2.5 2.5 0 1 0 -5.0 0M294.0 82.6a2.5 2.5 0 1 0 5.0 0a2.5 2.5 0 1 0 -5.0 0M294.5 82.0a2.5 2.5 0 1 0 5.0 0a2.5 2.5 0 1 0 -5.0 0M295.7 82.2a2.5 2.5 0 1 0 5.0 0a2.5 2.5 0 1 0 -5.0 0M296.2 83.0a2.5 2.5 0 1 0 5.0 0a2.5 2.5 0 1 0 -5.0 0M296.8 84.2a2.5 2.5 0 1 0 5.0 0a2.5 2.5 0 1 0 -5.0 0M297.4 85.3a2.5 2.5 0 1 0 5.0 0a2.5 2.5 0 1 0 -5.0 0M298.1 86.3a2.5 2.5 0 1 0 5.0 0a2.5 2.5 0 1 0 -5.0 0M299.1 86.7a2.5 2.5 0 1 0 5.0 0a2.5 2.5 0 1 0 -5.0 0M300.2 86.4a2.5 2.5 0 1 0 5.0 0a2.5 2.5 0 1 0 -5.0 0M301.4 86.7a2.5 2.5 0 1 0 5.0 0a2.5 2.5 0 1 0 -5.0 0M302.5 87.1a2.5 2.5 0 1 0 5.0 0a2.5 2.5 0 1 0 -5.0 0M303.5 87.1a2.5 2.5 0 1 0 5.0 0a2.5 2.5 0 1 0 -5.0 0M304.4 87.5a2.5 2.5 0 1 0 5.0 0a2.5 2.5 0 1 0 -5.0 0M305.4 88.2a2.5 2.5 0 1 0 5.0 0a2.5 2.5 0 1 0 -5.0 0M306.3 88.9a2.5 2.5 0 1 0 5.0 0a2.5 2.5 0 1 0 -5.0 0" fill="none" stroke="#000" stroke-width="1.1"/>
<polyline points="18.3,93.5 19.2,93.4 20.2,93.4 21.2,93.3 22.1,93.2 23.1,93.1 24.0,93.0 25.0,92.9 25.9,92.8 26.9,92.7 27.8,92.7 28.8,92.6 29.7,92.5 30.6,92.4 31.6,92.3 32.5,92.2 33.5,92.1 34.5,92.0 35.4,91.9 36.4,91.8 37.3,91.7 38.2,91.5 39.2,91.4 40.2,91.3 41.1,91.1 42.0,91.0 43.0,90.7 44.0,90.4 44.7,90.1 45.5,89.7 46.2,89.0 46.8,88.2 47.2,87.4 47.6,86.4 47.9,84.8 48.1,83.6 48.3,82.1 48.5,80.1 48.7,77.3 48.9,73.6 49.1,68.5 49.3,61.9 49.5,53.6 49.7,43.9 49.8,33.6 50.0,24.5 50.2,19.6 50.4,20.9 50.6,27.8 50.8,37.6 51.0,47.8 51.2,57.0 51.4,64.6 51.5,70.5 51.7,75.0 51.9,78.3 52.1,80.7 52.3,82.5 52.5,83.8 52.7,84.8 52.9,85.6 53.3,86.7 53.6,87.5 54.2,88.3 55.0,88.9 55.7,89.3 56.7,89.6 57.6,89.7 58.6,89.8 59.5,89.8 60.5,89.7 61.4,89.7 62.4,89.5 63.3,89.4 64.3,89.1 65.0,88.7 65.8,88.1 66.4,87.2 66.8,86.2 67.1,84.7 67.3,83.6 67.5,82.2 67.7,80.5 67.9,78.6 68.1,76.3 68.3,73.8 68.5,71.3 68.7,69.0 68.8,67.5 69.4,69.6 69.6,72.0 69.8,74.5 70.0,76.9 70.2,79.1 70.4,81.0 70.5,82.5 70.7,83.8 70.9,84.8 71.1,85.6 71.5,86.7 72.1,87.6 72.8,88.2 73.6,88.5 74.5,88.8 75.5,88.9 76.4,88.9 77.4,88.8 78.3,88.8 79.3,88.7 80.2,88.7 81.2,88.6 82.1,88.5 83.1,88.4 84.0,88.3 85.0,88.2 85.9,88.1 86.9,88.0 87.8,87.9 88.8,87.8 89.7,87.7 90.7,87.6 91.6,87.5 92.6,87.4 93.5,87.3 94.5,87.2 95.4,87.1 96.4,87.0 97.3,86.9 98.3,86.7 99.2,86.6 100.2,86.5 101.1,86.4 102.1,86.4 103.0,86.3 104.0,86.2 104.9,86.1 105.9,86.0 106.8,85.9 107.8,85.7 108.7,85.5 109.7,85.3 110.5,85.0 111.2,84.7 112.0,84.2 112.7,83.5 113.3,82.8 113.9,81.8 114.2,80.7 114.6,79.2 114.8,78.2 115.0,77.1 115.2,75.6 115.4,73.9 115.6,71.9 115.8,69.5 116.0,66.7 116.1,63.6 116.3,60.2 116.5,56.5 116.7,52.7 116.9,49.1 117.1,46.0 117.3,43.8 117.5,43.0 117.9,45.4 118.0,48.3 118.2,51.8 118.4,55.6 118.6,59.3 118.8,62.8 119.0,65.9 119.2,68.8 119.4,71.2 119.6,73.3 119.8,75.0 120.0,76.5 120.1,77.7 120.3,78.7 120.5,79.6 120.9,80.8 121.3,81.7 121.8,82.6 122.4,83.2 123.2,83.7 123.9,84.0 124.9,84.3 125.8,84.5 126.8,84.6 127.7,84.7 128.7,84.7 129.6,84.7 130.6,84.7 131.5,84.7 132.5,84.7 133.4,84.6 134.4,84.6 135.3,84.5 136.3,84.3 137.2,84.1 138.0,83.7 138.8,83.1 139.3,82.3 139.7,81.6 140.1,80.7 140.5,79.5 140.8,78.2 141.2,76.8 141.6,75.7 142.6,76.1 142.9,77.3 143.3,78.6 143.7,79.9 144.1,80.9 144.5,81.7 145.0,82.5 145.8,83.1 146.6,83.4 147.5,83.4 148.5,83.2 149.2,82.7 149.8,82.0 150.2,81.1 150.5,79.9 150.7,79.0 150.9,78.1 151.1,76.9 151.3,75.6 151.5,74.1 151.7,72.6 151.9,71.1 152.1,69.7 152.2,68.6 153.0,70.2 153.2,71.6 153.4,73.2 153.6,74.7 153.8,76.1 154.0,77.3 154.2,78.4 154.3,79.3 154.7,80.8 155.1,81.7 155.7,82.5 156.4,83.0 157.4,83.1 158.1,82.8 158.9,82.1 159.5,81.5 160.4,81.4 161.0,82.2 161.6,82.9 162.3,83.5 163.1,83.9 164.0,84.1 165.0,84.2 165.9,84.2 166.9,84.3 167.8,84.3 168.8,84.3 169.7,84.3 170.7,84.3 171.6,84.3 172.6,84.3 173.5,84.3 174.5,84.3 175.4,84.2 176.4,84.2 177.3,84.2 178.3,84.2 179.2,84.2 180.2,84.2 181.1,84.2 182.1,84.2 183.0,84.2 184.0,84.2 184.9,84.1 185.9,84.1 186.8,84.1 187.8,84.1 188.7,84.1 189.7,84.1 190.6,84.1 191.6,84.1 192.5,84.0 193.5,84.0 194.4,83.9 195.4,83.8 196.3,83.7 197.3,83.5 198.0,83.3 198.8,82.8 199.6,82.1 200.1,81.3 200.7,80.4 201.3,79.5 201.8,78.9 202.6,79.2 203.2,80.0 203.7,80.8 204.3,81.4 205.1,81.9 206.0,81.9 206.8,81.4 207.4,80.4 207.7,79.3 208.1,77.7 208.3,76.7 208.5,75.5 208.7,74.2 208.9,72.7 209.1,71.1 209.2,69.5 209.4,68.0 209.6,66.7 209.8,65.9 210.4,66.9 210.6,68.2 210.8,69.7 211.0,71.4 211.2,73.0 211.3,74.5 211.5,75.8 211.7,77.0 211.9,78.0 212.1,78.9 212.5,80.3 212.9,81.2 213.4,82.1 214.2,82.8 215.0,83.1 215.9,83.4 216.9,83.5 217.8,83.6 218.8,83.6 219.7,83.4 220.5,83.1 221.2,82.7 222.0,82.3 222.9,82.4 223.7,82.8 224.5,83.3 225.2,83.8 226.0,84.0 226.9,84.2 227.9,84.3 228.8,84.4 229.8,84.4 230.7,84.3 231.7,84.0 232.4,83.5 233.0,82.8 233.6,82.0 234.1,81.0 234.7,80.3 235.7,80.8 236.2,81.8 236.8,82.8 237.4,83.6 237.9,84.2 238.7,84.6 239.5,84.9 240.4,85.2 241.4,85.3 242.3,85.5 243.3,85.6 244.2,85.7 245.2,85.8 246.1,85.9 247.1,86.0 248.0,86.1 249.0,86.2 249.9,86.2 250.9,86.3 251.8,86.4 252.8,86.5 253.7,86.5 254.7,86.6 255.6,86.6 256.6,86.6 257.5,86.6 258.5,86.6 259.4,86.4 260.2,86.0 260.9,85.4 261.5,84.9 262.3,84.3 263.2,84.7 263.8,85.3 264.4,85.9 265.1,86.5 265.9,86.9 266.8,87.2 267.8,87.3 268.7,87.4 269.7,87.5 270.6,87.5 271.6,87.5 272.5,87.4 273.5,87.3 274.4,87.2 275.4,86.9 276.1,86.4 276.9,85.7 277.5,85.0 278.0,84.3 279.0,84.3 279.6,84.9 280.1,85.6 280.9,86.3 281.6,86.7 282.6,86.9 283.5,87.0 284.5,87.1 285.4,87.1 286.4,87.1 287.3,87.0 288.3,87.0 289.2,86.8 290.2,86.5 290.9,86.1 291.7,85.7 292.7,85.7 293.6,86.0 294.6,85.7 295.3,85.1 295.9,84.1 296.3,83.3 296.7,82.4 297.0,81.7 297.8,81.4 298.4,82.5 298.7,83.4 299.1,84.2 299.7,85.1 300.3,85.7 301.0,86.2 302.0,86.5 302.9,86.6 303.9,86.7 304.8,86.8 305.6,87.1 306.3,87.5 307.1,87.9 307.9,88.3 308.6,88.7" fill="none" stroke="#d8201f" stroke-width="1.0" stroke-linejoin="round"/>
<path d="M41.5 101.3V106.5M50.5 101.3V106.5M52.5 101.3V106.5M59.5 101.3V106.5M69.5 101.3V106.5M82.5 101.3V106.5M96.5 101.3V106.5M112.5 101.3V106.5M117.5 101.3V106.5M123.5 101.3V106.5M130.5 101.3V106.5M137.5 101.3V106.5M142.5 101.3V106.5M144.5 101.3V106.5M147.5 101.3V106.5M152.5 101.3V106.5M160.5 101.3V106.5M165.5 101.3V106.5M170.5 101.3V106.5M180.5 101.3V106.5M185.5 101.3V106.5M188.5 101.3V106.5M192.5 101.3V106.5M202.5 101.3V106.5M203.5 101.3V106.5M204.5 101.3V106.5M206.5 101.3V106.5M209.5 101.3V106.5M215.5 101.3V106.5M217.5 101.3V106.5M220.5 101.3V106.5M221.5 101.3V106.5M224.5 101.3V106.5M232.5 101.3V106.5M235.5 101.3V106.5M236.5 101.3V106.5M238.5 101.3V106.5M242.5 101.3V106.5M243.5 101.3V106.5M245.5 101.3V106.5M247.5 101.3V106.5M249.5 101.3V106.5M252.5 101.3V106.5M253.5 101.3V106.5M255.5 101.3V106.5M262.5 101.3V106.5M264.5 101.3V106.5M266.5 101.3V106.5M268.5 101.3V106.5M271.5 101.3V106.5M278.5 101.3V106.5M280.5 101.3V106.5M281.5 101.3V106.5M283.5 101.3V106.5M285.5 101.3V106.5M289.5 101.3V106.5M290.5 101.3V106.5M291.5 101.3V106.5M292.5 101.3V106.5M293.5 101.3V106.5M297.5 101.3V106.5M301.5 101.3V106.5M303.5 101.3V106.5M304.5 101.3V106.5M305.5 101.3V106.5M308.5 101.3V106.5" stroke="#3046a8" stroke-width="1.1"/>
<polyline points="19.0,119.1 19.8,119.1 20.6,119.0 21.4,119.1 22.2,119.0 23.0,118.9 23.8,119.2 24.6,118.8 25.4,119.1 26.2,118.6 27.0,119.0 27.8,118.5 28.6,118.7 29.4,118.7 30.2,119.2 31.0,119.1 31.8,119.0 32.6,118.7 33.4,119.0 34.2,118.6 35.0,119.0 35.8,118.4 36.6,118.4 37.4,119.0 38.2,118.9 39.0,118.7 39.8,118.7 40.6,118.6 41.4,118.7 42.2,118.9 43.0,118.8 43.8,118.4 44.6,118.5 45.4,118.6 46.2,118.3 47.0,118.3 47.8,117.9 48.6,117.3 49.4,116.7 50.2,117.8 51.0,119.9 51.8,119.8 52.6,118.5 53.4,118.7 54.2,118.5 55.0,117.9 55.8,118.2 56.6,117.9 57.4,118.2 58.2,118.1 59.0,117.9 59.8,118.4 60.6,118.0 61.4,118.1 62.2,118.0 63.0,117.8 63.8,118.3 64.6,117.7 65.4,117.9 66.2,117.5 67.0,117.5 67.8,117.0 68.6,117.5 69.4,118.9 70.2,119.3 71.0,118.6 71.8,118.6 72.6,118.4 73.4,118.3 74.2,117.9 75.0,117.9 75.8,118.0 76.6,118.3 77.4,117.8 78.2,117.8 79.0,118.1 79.8,117.8 80.6,118.2 81.4,118.2 82.2,118.0 83.0,118.2 83.8,117.9 84.6,118.2 85.4,117.9 86.2,118.2 87.0,118.3 87.8,118.1 88.6,118.5 89.4,118.2 90.2,118.4 91.0,118.0 91.8,118.1 92.6,118.3 93.4,118.5 94.2,118.4 95.0,118.2 95.8,118.3 96.6,118.6 97.4,118.3 98.2,118.3 99.0,118.6 99.8,118.3 100.6,118.8 101.4,118.3 102.2,118.8 103.0,118.8 103.8,118.8 104.6,118.5 105.4,119.0 106.2,118.4 107.0,118.7 107.8,118.4 108.6,118.5 109.4,118.9 110.2,118.6 111.0,118.5 111.8,119.1 112.6,118.8 113.4,118.5 114.2,118.8 115.0,118.0 115.8,117.3 116.6,116.4 117.4,116.1 118.2,116.6 119.0,116.8 119.8,117.7 120.6,118.7 121.4,118.7 122.2,118.8 123.0,119.1 123.8,118.9 124.6,119.2 125.4,119.0 126.2,119.2 127.0,119.2 127.8,118.9 128.6,119.1 129.4,118.7 130.2,119.0 131.0,119.0 131.8,118.9 132.6,119.3 133.4,119.1 134.2,119.1 135.0,119.2 135.8,118.8 136.6,119.0 137.4,118.4 138.2,118.3 139.0,118.2 139.8,118.0 140.6,118.0 141.4,118.4 142.2,118.7 143.0,119.5 143.8,119.6 144.6,119.2 145.4,119.0 146.2,118.6 147.0,119.0 147.8,118.3 148.6,118.5 149.4,118.2 150.2,118.0 151.0,118.0 151.8,117.0 152.6,117.2 153.4,117.0 154.2,117.9 155.0,118.3 155.8,118.6 156.6,118.4 157.4,118.6 158.2,118.3 159.0,118.3 159.8,118.5 160.6,118.0 161.4,118.3 162.2,118.3 163.0,118.4 163.8,118.1 164.6,118.2 165.4,118.4 166.2,118.4 167.0,118.3 167.8,117.9 168.6,118.2 169.4,117.8 170.2,117.9 171.0,118.0 171.8,118.4 172.6,118.2 173.4,117.9 174.2,118.4 175.0,117.8 175.8,118.2 176.6,117.9 177.4,117.8 178.2,118.0 179.0,118.0 179.8,117.8 180.6,118.3 181.4,118.1 182.2,118.3 183.0,117.7 183.8,117.8 184.6,117.8 185.4,117.9 186.2,118.3 187.0,118.1 187.8,118.3 188.6,118.1 189.4,118.4 190.2,118.0 191.0,118.1 191.8,118.1 192.6,118.3 193.4,118.3 194.2,118.1 195.0,118.0 195.8,118.1 196.6,118.1 197.4,117.9 198.2,117.6 199.0,117.9 199.8,117.7 200.6,118.1 201.4,117.9 202.2,118.3 203.0,118.6 203.8,119.0 204.6,118.9 205.4,118.7 206.2,119.0 207.0,118.3 207.8,117.9 208.6,117.8 209.4,117.5 210.2,116.9 211.0,117.1 211.8,118.2 212.6,118.1 213.4,118.7 214.2,118.4 215.0,118.9 215.8,118.7 216.6,118.5 217.4,118.9 218.2,118.8 219.0,119.0 219.8,118.5 220.6,118.5 221.4,118.8 222.2,119.0 223.0,118.7 223.8,118.8 224.6,118.8 225.4,119.2 226.2,118.9 227.0,119.0 227.8,118.8 228.6,119.1 229.4,119.0 230.2,119.2 231.0,118.7 231.8,118.9 232.6,118.3 233.4,118.1 234.2,118.3 235.0,117.8 235.8,118.1 236.6,118.4 237.4,118.6 238.2,118.9 239.0,118.7 239.8,119.0 240.6,118.7 241.4,118.6 242.2,118.7 243.0,118.6 243.8,118.5 244.6,118.9 245.4,118.8 246.2,118.9 247.0,118.6 247.8,119.0 248.6,118.6 249.4,119.0 250.2,118.9 251.0,119.0 251.8,119.0 252.6,118.9 253.4,118.4 254.2,118.4 255.0,118.8 255.8,118.4 256.6,118.2 257.4,118.7 258.2,118.3 259.0,118.3 259.8,118.2 260.6,118.8 261.4,118.8 262.2,118.5 263.0,118.4 263.8,118.6 264.6,118.2 265.4,118.6 266.2,118.1 267.0,118.3 267.8,118.3 268.6,118.5 269.4,118.6 270.2,118.1 271.0,118.0 271.8,118.4 272.6,117.9 273.4,118.3 274.2,118.3 275.0,118.5 275.8,118.1 276.6,117.8 277.4,118.1 278.2,118.3 279.0,117.9 279.8,118.1 280.6,118.2 281.4,117.8 282.2,118.4 283.0,117.9 283.8,117.9 284.6,118.1 285.4,117.9 286.2,118.0 287.0,117.9 287.8,117.9 288.6,118.2 289.4,117.8 290.2,117.8 291.0,118.3 291.8,118.1 292.6,117.9 293.4,118.2 294.2,118.7 295.0,118.7 295.8,118.9 296.6,118.6 297.4,118.1 298.2,118.1 299.0,117.3 299.8,117.8 300.6,117.7 301.4,118.0 302.2,118.5 303.0,118.2 303.8,118.6 304.6,118.6 305.4,118.2 306.2,118.5 307.0,118.0" fill="none" stroke="#3d803d" stroke-width="1.15" stroke-linejoin="round"/>
<path d="M15.8 222.0a2.5 2.5 0 1 0 5.0 0a2.5 2.5 0 1 0 -5.0 0M16.9 221.8a2.5 2.5 0 1 0 5.0 0a2.5 2.5 0 1 0 -5.0 0M18.1 221.7a2.5 2.5 0 1 0 5.0 0a2.5 2.5 0 1 0 -5.0 0M19.2 221.7a2.5 2.5 0 1 0 5.0 0a2.5 2.5 0 1 0 -5.0 0M20.4 222.0a2.5 2.5 0 1 0 5.0 0a2.5 2.5 0 1 0 -5.0 0M21.5 221.5a2.5 2.5 0 1 0 5.0 0a2.5 2.5 0 1 0 -5.0 0M22.6 221.6a2.5 2.5 0 1 0 5.0 0a2.5 2.5 0 1 0 -5.0 0M23.8 221.7a2.5 2.5 0 1 0 5.0 0a2.5 2.5 0 1 0 -5.0 0M24.9 221.5a2.5 2.5 0 1 0 5.0 0a2.5 2.5 0 1 0 -5.0 0M26.1 221.8a2.5 2.5 0 1 0 5.0 0a2.5 2.5 0 1 0 -5.0 0M27.2 221.3a2.5 2.5 0 1 0 5.0 0a2.5 2.5 0 1 0 -5.0 0M28.3 221.2a2.5 2.5 0 1 0 5.0 0a2.5 2.5 0 1 0 -5.0 0M29.5 221.3a2.5 2.5 0 1 0 5.0 0a2.5 2.5 0 1 0 -5.0 0M30.6 220.9a2.5 2.5 0 1 0 5.0 0a2.5 2.5 0 1 0 -5.0 0M31.8 221.3a2.5 2.5 0 1 0 5.0 0a2.5 2.5 0 1 0 -5.0 0M32.9 220.8a2.5 2.5 0 1 0 5.0 0a2.5 2.5 0 1 0 -5.0 0M34.0 220.6a2.5 2.5 0 1 0 5.0 0a2.5 2.5 0 1 0 -5.0 0M35.2 220.7a2.5 2.5 0 1 0 5.0 0a2.5 2.5 0 1 0 -5.0 0M36.3 220.1a2.5 2.5 0 1 0 5.0 0a2.5 2.5 0 1 0 -5.0 0M37.5 220.2a2.5 2.5 0 1 0 5.0 0a2.5 2.5 0 1 0 -5.0 0M38.4 219.9a2.5 2.5 0 1 0 5.0 0a2.5 2.5 0 1 0 -5.0 0M39.4 219.0a2.5 2.5 0 1 0 5.0 0a2.5 2.5 0 1 0 -5.0 0M40.1 218.7a2.5 2.5 0 1 0 5.0 0a2.5 2.5 0 1 0 -5.0 0M40.9 217.3a2.5 2.5 0 1 0 5.0 0a2.5 2.5 0 1 0 -5.0 0M41.5 216.0a2.5 2.5 0 1 0 5.0 0a2.5 2.5 0 1 0 -5.0 0M41.8 214.3a2.5 2.5 0 1 0 5.0 0a2.5 2.5 0 1 0 -5.0 0M42.0 213.2a2.5 2.5 0 1 0 5.0 0a2.5 2.5 0 1 0 -5.0 0M42.2 211.8a2.5 2.5 0 1 0 5.0 0a2.5 2.5 0 1 0 -5.0 0M42.4 209.9a2.5 2.5 0 1 0 5.0 0a2.5 2.5 0 1 0 -5.0 0M42.6 207.7a2.5 2.5 0 1 0 5.0 0a2.5 2.5 0 1 0 -5.0 0M42.8 205.1a2.5 2.5 0 1 0 5.0 0a2.5 2.5 0 1 0 -5.0 0M43.0 200.4a2.5 2.5 0 1 0 5.0 0a2.5 2.5 0 1 0 -5.0 0M43.2 194.5a2.5 2.5 0 1 0 5.0 0a2.5 2.5 0 1 0 -5.0 0M43.4 187.2a2.5 2.5 0 1 0 5.0 0a2.5 2.5 0 1 0 -5.0 0M43.5 177.4a2.5 2.5 0 1 0 5.0 0a2.5 2.5 0 1 0 -5.0 0M43.7 166.5a2.5 2.5 0 1 0 5.0 0a2.5 2.5 0 1 0 -5.0 0M43.9 154.1a2.5 2.5 0 1 0 5.0 0a2.5 2.5 0 1 0 -5.0 0M44.1 143.5a2.5 2.5 0 1 0 5.0 0a2.5 2.5 0 1 0 -5.0 0M44.3 138.4a2.5 2.5 0 1 0 5.0 0a2.5 2.5 0 1 0 -5.0 0M44.5 139.2a2.5 2.5 0 1 0 5.0 0a2.5 2.5 0 1 0 -5.0 0M44.7 147.7a2.5 2.5 0 1 0 5.0 0a2.5 2.5 0 1 0 -5.0 0M44.9 158.9a2.5 2.5 0 1 0 5.0 0a2.5 2.5 0 1 0 -5.0 0M45.1 171.1a2.5 2.5 0 1 0 5.0 0a2.5 2.5 0 1 0 -5.0 0M45.2 181.6a2.5 2.5 0 1 0 5.0 0a2.5 2.5 0 1 0 -5.0 0M45.4 190.2a2.5 2.5 0 1 0 5.0 0a2.5 2.5 0 1 0 -5.0 0M45.6 196.5a2.5 2.5 0 1 0 5.0 0a2.5 2.5 0 1 0 -5.0 0M45.8 201.7a2.5 2.5 0 1 0 5.0 0a2.5 2.5 0 1 0 -5.0 0M46.0 205.9a2.5 2.5 0 1 0 5.0 0a2.5 2.5 0 1 0 -5.0 0M46.2 208.9a2.5 2.5 0 1 0 5.0 0a2.5 2.5 0 1 0 -5.0 0M46.4 210.4a2.5 2.5 0 1 0 5.0 0a2.5 2.5 0 1 0 -5.0 0M46.6 212.2a2.5 2.5 0 1 0 5.0 0a2.5 2.5 0 1 0 -5.0 0M46.8 213.1a2.5 2.5 0 1 0 5.0 0a2.5 2.5 0 1 0 -5.0 0M47.2 214.9a2.5 2.5 0 1 0 5.0 0a2.5 2.5 0 1 0 -5.0 0M47.5 215.7a2.5 2.5 0 1 0 5.0 0a2.5 2.5 0 1 0 -5.0 0M48.1 217.0a2.5 2.5 0 1 0 5.0 0a2.5 2.5 0 1 0 -5.0 0M48.9 218.1a2.5 2.5 0 1 0 5.0 0a2.5 2.5 0 1 0 -5.0 0M49.8 218.4a2.5 2.5 0 1 0 5.0 0a2.5 2.5 0 1 0 -5.0 0M50.8 219.2a2.5 2.5 0 1 0 5.0 0a2.5 2.5 0 1 0 -5.0 0M51.9 218.8a2.5 2.5 0 1 0 5.0 0a2.5 2.5 0 1 0 -5.0 0M53.0 219.0a2.5 2.5 0 1 0 5.0 0a2.5 2.5 0 1 0 -5.0 0M54.2 219.0a2.5 2.5 0 1 0 5.0 0a2.5 2.5 0 1 0 -5.0 0M55.3 219.1a2.5 2.5 0 1 0 5.0 0a2.5 2.5 0 1 0 -5.0 0M56.5 219.3a2.5 2.5 0 1 0 5.0 0a2.5 2.5 0 1 0 -5.0 0M57.6 218.7a2.5 2.5 0 1 0 5.0 0a2.5 2.5 0 1 0 -5.0 0M58.5 218.7a2.5 2.5 0 1 0 5.0 0a2.5 2.5 0 1 0 -5.0 0M59.5 218.3a2.5 2.5 0 1 0 5.0 0a2.5 2.5 0 1 0 -5.0 0M60.3 216.8a2.5 2.5 0 1 0 5.0 0a2.5 2.5 0 1 0 -5.0 0M60.8 216.0a2.5 2.5 0 1 0 5.0 0a2.5 2.5 0 1 0 -5.0 0M61.2 214.1a2.5 2.5 0 1 0 5.0 0a2.5 2.5 0 1 0 -5.0 0M61.4 213.1a2.5 2.5 0 1 0 5.0 0a2.5 2.5 0 1 0 -5.0 0M61.6 211.5a2.5 2.5 0 1 0 5.0 0a2.5 2.5 0 1 0 -5.0 0M61.8 209.7a2.5 2.5 0 1 0 5.0 0a2.5 2.5 0 1 0 -5.0 0M62.0 207.4a2.5 2.5 0 1 0 5.0 0a2.5 2.5 0 1 0 -5.0 0M62.2 205.2a2.5 2.5 0 1 0 5.0 0a2.5 2.5 0 1 0 -5.0 0M62.3 202.8a2.5 2.5 0 1 0 5.0 0a2.5 2.5 0 1 0 -5.0 0M62.5 200.4a2.5 2.5 0 1 0 5.0 0a2.5 2.5 0 1 0 -5.0 0M62.7 198.5a2.5 2.5 0 1 0 5.0 0a2.5 2.5 0 1 0 -5.0 0M62.9 197.5a2.5 2.5 0 1 0 5.0 0a2.5 2.5 0 1 0 -5.0 0M63.3 199.1a2.5 2.5 0 1 0 5.0 0a2.5 2.5 0 1 0 -5.0 0M63.5 201.2a2.5 2.5 0 1 0 5.0 0a2.5 2.5 0 1 0 -5.0 0M63.7 203.6a2.5 2.5 0 1 0 5.0 0a2.5 2.5 0 1 0 -5.0 0M63.9 206.0a2.5 2.5 0 1 0 5.0 0a2.5 2.5 0 1 0 -5.0 0M64.1 207.6a2.5 2.5 0 1 0 5.0 0a2.5 2.5 0 1 0 -5.0 0M64.2 210.2a2.5 2.5 0 1 0 5.0 0a2.5 2.5 0 1 0 -5.0 0M64.4 211.3a2.5 2.5 0 1 0 5.0 0a2.5 2.5 0 1 0 -5.0 0M64.6 212.6a2.5 2.5 0 1 0 5.0 0a2.5 2.5 0 1 0 -5.0 0M64.8 213.8a2.5 2.5 0 1 0 5.0 0a2.5 2.5 0 1 0 -5.0 0M65.2 215.6a2.5 2.5 0 1 0 5.0 0a2.5 2.5 0 1 0 -5.0 0M65.6 216.1a2.5 2.5 0 1 0 5.0 0a2.5 2.5 0 1 0 -5.0 0M66.3 217.2a2.5 2.5 0 1 0 5.0 0a2.5 2.5 0 1 0 -5.0 0M67.3 217.9a2.5 2.5 0 1 0 5.0 0a2.5 2.5 0 1 0 -5.0 0M68.4 218.6a2.5 2.5 0 1 0 5.0 0a2.5 2.5 0 1 0 -5.0 0M69.6 218.4a2.5 2.5 0 1 0 5.0 0a2.5 2.5 0 1 0 -5.0 0M70.7 218.4a2.5 2.5 0 1 0 5.0 0a2.5 2.5 0 1 0 -5.0 0M71.8 218.4a2.5 2.5 0 1 0 5.0 0a2.5 2.5 0 1 0 -5.0 0M73.0 218.2a2.5 2.5 0 1 0 5.0 0a2.5 2.5 0 1 0 -5.0 0M74.1 218.8a2.5 2.5 0 1 0 5.0 0a2.5 2.5 0 1 0 -5.0 0M75.3 218.7a2.5 2.5 0 1 0 5.0 0a2.5 2.5 0 1 0 -5.0 0M76.4 218.5a2.5 2.5 0 1 0 5.0 0a2.5 2.5 0 1 0 -5.0 0M77.5 218.2a2.5 2.5 0 1 0 5.0 0a2.5 2.5 0 1 0 -5.0 0M78.7 218.2a2.5 2.5 0 1 0 5.0 0a2.5 2.5 0 1 0 -5.0 0M79.8 218.0a2.5 2.5 0 1 0 5.0 0a2.5 2.5 0 1 0 -5.0 0M81.0 218.2a2.5 2.5 0 1 0 5.0 0a2.5 2.5 0 1 0 -5.0 0M82.1 218.2a2.5 2.5 0 1 0 5.0 0a2.5 2.5 0 1 0 -5.0 0M83.2 217.8a2.5 2.5 0 1 0 5.0 0a2.5 2.5 0 1 0 -5.0 0M84.4 218.2a2.5 2.5 0 1 0 5.0 0a2.5 2.5 0 1 0 -5.0 0M85.5 218.0a2.5 2.5 0 1 0 5.0 0a2.5 2.5 0 1 0 -5.0 0M86.7 217.5a2.5 2.5 0 1 0 5.0 0a2.5 2.5 0 1 0 -5.0 0M87.8 217.9a2.5 2.5 0 1 0 5.0 0a2.5 2.5 0 1 0 -5.0 0M89.0 217.7a2.5 2.5 0 1 0 5.0 0a2.5 2.5 0 1 0 -5.0 0M90.1 217.3a2.5 2.5 0 1 0 5.0 0a2.5 2.5 0 1 0 -5.0 0M91.2 217.2a2.5 2.5 0 1 0 5.0 0a2.5 2.5 0 1 0 -5.0 0M92.4 217.5a2.5 2.5 0 1 0 5.0 0a2.5 2.5 0 1 0 -5.0 0M93.5 216.8a2.5 2.5 0 1 0 5.0 0a2.5 2.5 0 1 0 -5.0 0M94.6 217.0a2.5 2.5 0 1 0 5.0 0a2.5 2.5 0 1 0 -5.0 0M95.8 217.3a2.5 2.5 0 1 0 5.0 0a2.5 2.5 0 1 0 -5.0 0M96.9 216.7a2.5 2.5 0 1 0 5.0 0a2.5 2.5 0 1 0 -5.0 0M98.1 216.7a2.5 2.5 0 1 0 5.0 0a2.5 2.5 0 1 0 -5.0 0M99.2 216.9a2.5 2.5 0 1 0 5.0 0a2.5 2.5 0 1 0 -5.0 0M100.3 216.7a2.5 2.5 0 1 0 5.0 0a2.5 2.5 0 1 0 -5.0 0M101.5 216.3a2.5 2.5 0 1 0 5.0 0a2.5 2.5 0 1 0 -5.0 0M102.6 215.8a2.5 2.5 0 1 0 5.0 0a2.5 2.5 0 1 0 -5.0 0M103.6 215.7a2.5 2.5 0 1 0 5.0 0a2.5 2.5 0 1 0 -5.0 0M104.5 214.6a2.5 2.5 0 1 0 5.0 0a2.5 2.5 0 1 0 -5.0 0M105.3 214.4a2.5 2.5 0 1 0 5.0 0a2.5 2.5 0 1 0 -5.0 0M106.0 212.9a2.5 2.5 0 1 0 5.0 0a2.5 2.5 0 1 0 -5.0 0M106.4 212.1a2.5 2.5 0 1 0 5.0 0a2.5 2.5 0 1 0 -5.0 0M106.8 210.7a2.5 2.5 0 1 0 5.0 0a2.5 2.5 0 1 0 -5.0 0M107.2 208.5a2.5 2.5 0 1 0 5.0 0a2.5 2.5 0 1 0 -5.0 0M107.4 207.5a2.5 2.5 0 1 0 5.0 0a2.5 2.5 0 1 0 -5.0 0M107.6 205.9a2.5 2.5 0 1 0 5.0 0a2.5 2.5 0 1 0 -5.0 0M107.8 204.4a2.5 2.5 0 1 0 5.0 0a2.5 2.5 0 1 0 -5.0 0M108.0 202.0a2.5 2.5 0 1 0 5.0 0a2.5 2.5 0 1 0 -5.0 0M108.1 199.5a2.5 2.5 0 1 0 5.0 0a2.5 2.5 0 1 0 -5.0 0M108.3 196.8a2.5 2.5 0 1 0 5.0 0a2.5 2.5 0 1 0 -5.0 0M108.5 194.4a2.5 2.5 0 1 0 5.0 0a2.5 2.5 0 1 0 -5.0 0M108.7 191.1a2.5 2.5 0 1 0 5.0 0a2.5 2.5 0 1 0 -5.0 0M108.9 188.6a2.5 2.5 0 1 0 5.0 0a2.5 2.5 0 1 0 -5.0 0M109.1 186.3a2.5 2.5 0 1 0 5.0 0a2.5 2.5 0 1 0 -5.0 0M109.3 184.8a2.5 2.5 0 1 0 5.0 0a2.5 2.5 0 1 0 -5.0 0M109.8 185.2a2.5 2.5 0 1 0 5.0 0a2.5 2.5 0 1 0 -5.0 0M110.0 187.8a2.5 2.5 0 1 0 5.0 0a2.5 2.5 0 1 0 -5.0 0M110.2 190.1a2.5 2.5 0 1 0 5.0 0a2.5 2.5 0 1 0 -5.0 0M110.4 193.3a2.5 2.5 0 1 0 5.0 0a2.5 2.5 0 1 0 -5.0 0M110.6 196.2a2.5 2.5 0 1 0 5.0 0a2.5 2.5 0 1 0 -5.0 0M110.8 198.9a2.5 2.5 0 1 0 5.0 0a2.5 2.5 0 1 0 -5.0 0M111.0 201.4a2.5 2.5 0 1 0 5.0 0a2.5 2.5 0 1 0 -5.0 0M111.2 203.1a2.5 2.5 0 1 0 5.0 0a2.5 2.5 0 1 0 -5.0 0M111.4 205.5a2.5 2.5 0 1 0 5.0 0a2.5 2.5 0 1 0 -5.0 0M111.6 206.7a2.5 2.5 0 1 0 5.0 0a2.5 2.5 0 1 0 -5.0 0M111.8 208.1a2.5 2.5 0 1 0 5.0 0a2.5 2.5 0 1 0 -5.0 0M111.9 209.0a2.5 2.5 0 1 0 5.0 0a2.5 2.5 0 1 0 -5.0 0M112.3 211.0a2.5 2.5 0 1 0 5.0 0a2.5 2.5 0 1 0 -5.0 0M112.7 211.8a2.5 2.5 0 1 0 5.0 0a2.5 2.5 0 1 0 -5.0 0M113.3 213.2a2.5 2.5 0 1 0 5.0 0a2.5 2.5 0 1 0 -5.0 0M114.0 214.3a2.5 2.5 0 1 0 5.0 0a2.5 2.5 0 1 0 -5.0 0M115.0 215.0a2.5 2.5 0 1 0 5.0 0a2.5 2.5 0 1 0 -5.0 0M115.9 214.9a2.5 2.5 0 1 0 5.0 0a2.5 2.5 0 1 0 -5.0 0M117.1 215.7a2.5 2.5 0 1 0 5.0 0a2.5 2.5 0 1 0 -5.0 0M118.2 215.6a2.5 2.5 0 1 0 5.0 0a2.5 2.5 0 1 0 -5.0 0M119.3 215.5a2.5 2.5 0 1 0 5.0 0a2.5 2.5 0 1 0 -5.0 0M120.5 216.0a2.5 2.5 0 1 0 5.0 0a2.5 2.5 0 1 0 -5.0 0M121.6 216.0a2.5 2.5 0 1 0 5.0 0a2.5 2.5 0 1 0 -5.0 0M122.8 215.8a2.5 2.5 0 1 0 5.0 0a2.5 2.5 0 1 0 -5.0 0M123.9 215.8a2.5 2.5 0 1 0 5.0 0a2.5 2.5 0 1 0 -5.0 0M125.0 215.9a2.5 2.5 0 1 0 5.0 0a2.5 2.5 0 1 0 -5.0 0M126.2 215.8a2.5 2.5 0 1 0 5.0 0a2.5 2.5 0 1 0 -5.0 0M127.3 215.8a2.5 2.5 0 1 0 5.0 0a2.5 2.5 0 1 0 -5.0 0M128.5 215.7a2.5 2.5 0 1 0 5.0 0a2.5 2.5 0 1 0 -5.0 0M129.6 214.9a2.5 2.5 0 1 0 5.0 0a2.5 2.5 0 1 0 -5.0 0M130.6 214.2a2.5 2.5 0 1 0 5.0 0a2.5 2.5 0 1 0 -5.0 0M131.3 213.2a2.5 2.5 0 1 0 5.0 0a2.5 2.5 0 1 0 -5.0 0M131.9 212.0a2.5 2.5 0 1 0 5.0 0a2.5 2.5 0 1 0 -5.0 0M132.3 211.1a2.5 2.5 0 1 0 5.0 0a2.5 2.5 0 1 0 -5.0 0M132.7 210.0a2.5 2.5 0 1 0 5.0 0a2.5 2.5 0 1 0 -5.0 0M133.0 208.4a2.5 2.5 0 1 0 5.0 0a2.5 2.5 0 1 0 -5.0 0M134.2 208.9a2.5 2.5 0 1 0 5.0 0a2.5 2.5 0 1 0 -5.0 0M134.6 210.3a2.5 2.5 0 1 0 5.0 0a2.5 2.5 0 1 0 -5.0 0M134.9 211.9a2.5 2.5 0 1 0 5.0 0a2.5 2.5 0 1 0 -5.0 0M135.3 212.6a2.5 2.5 0 1 0 5.0 0a2.5 2.5 0 1 0 -5.0 0M135.9 213.5a2.5 2.5 0 1 0 5.0 0a2.5 2.5 0 1 0 -5.0 0M136.6 214.6a2.5 2.5 0 1 0 5.0 0a2.5 2.5 0 1 0 -5.0 0M137.6 215.2a2.5 2.5 0 1 0 5.0 0a2.5 2.5 0 1 0 -5.0 0M138.7 215.1a2.5 2.5 0 1 0 5.0 0a2.5 2.5 0 1 0 -5.0 0M139.9 214.4a2.5 2.5 0 1 0 5.0 0a2.5 2.5 0 1 0 -5.0 0M140.8 213.3a2.5 2.5 0 1 0 5.0 0a2.5 2.5 0 1 0 -5.0 0M141.4 212.3a2.5 2.5 0 1 0 5.0 0a2.5 2.5 0 1 0 -5.0 0M141.8 210.7a2.5 2.5 0 1 0 5.0 0a2.5 2.5 0 1 0 -5.0 0M142.2 209.0a2.5 2.5 0 1 0 5.0 0a2.5 2.5 0 1 0 -5.0 0M142.3 208.2a2.5 2.5 0 1 0 5.0 0a2.5 2.5 0 1 0 -5.0 0M142.5 207.5a2.5 2.5 0 1 0 5.0 0a2.5 2.5 0 1 0 -5.0 0M142.9 205.6a2.5 2.5 0 1 0 5.0 0a2.5 2.5 0 1 0 -5.0 0M143.9 206.6a2.5 2.5 0 1 0 5.0 0a2.5 2.5 0 1 0 -5.0 0M144.1 208.1a2.5 2.5 0 1 0 5.0 0a2.5 2.5 0 1 0 -5.0 0M144.2 208.5a2.5 2.5 0 1 0 5.0 0a2.5 2.5 0 1 0 -5.0 0M144.6 210.4a2.5 2.5 0 1 0 5.0 0a2.5 2.5 0 1 0 -5.0 0M145.0 211.8a2.5 2.5 0 1 0 5.0 0a2.5 2.5 0 1 0 -5.0 0M145.4 213.1a2.5 2.5 0 1 0 5.0 0a2.5 2.5 0 1 0 -5.0 0M146.0 214.3a2.5 2.5 0 1 0 5.0 0a2.5 2.5 0 1 0 -5.0 0M146.9 214.5a2.5 2.5 0 1 0 5.0 0a2.5 2.5 0 1 0 -5.0 0M148.0 215.0a2.5 2.5 0 1 0 5.0 0a2.5 2.5 0 1 0 -5.0 0M149.2 214.8a2.5 2.5 0 1 0 5.0 0a2.5 2.5 0 1 0 -5.0 0M149.9 213.7a2.5 2.5 0 1 0 5.0 0a2.5 2.5 0 1 0 -5.0 0M150.7 213.2a2.5 2.5 0 1 0 5.0 0a2.5 2.5 0 1 0 -5.0 0M151.8 213.2a2.5 2.5 0 1 0 5.0 0a2.5 2.5 0 1 0 -5.0 0M152.6 213.9a2.5 2.5 0 1 0 5.0 0a2.5 2.5 0 1 0 -5.0 0M153.4 214.4a2.5 2.5 0 1 0 5.0 0a2.5 2.5 0 1 0 -5.0 0M154.3 214.8a2.5 2.5 0 1 0 5.0 0a2.5 2.5 0 1 0 -5.0 0M155.5 215.1a2.5 2.5 0 1 0 5.0 0a2.5 2.5 0 1 0 -5.0 0M156.6 215.4a2.5 2.5 0 1 0 5.0 0a2.5 2.5 0 1 0 -5.0 0M157.7 215.1a2.5 2.5 0 1 0 5.0 0a2.5 2.5 0 1 0 -5.0 0M158.9 215.4a2.5 2.5 0 1 0 5.0 0a2.5 2.5 0 1 0 -5.0 0M160.0 215.5a2.5 2.5 0 1 0 5.0 0a2.5 2.5 0 1 0 -5.0 0M161.2 215.4a2.5 2.5 0 1 0 5.0 0a2.5 2.5 0 1 0 -5.0 0M162.3 215.7a2.5 2.5 0 1 0 5.0 0a2.5 2.5 0 1 0 -5.0 0M163.4 215.6a2.5 2.5 0 1 0 5.0 0a2.5 2.5 0 1 0 -5.0 0M164.6 215.5a2.5 2.5 0 1 0 5.0 0a2.5 2.5 0 1 0 -5.0 0M165.7 215.6a2.5 2.5 0 1 0 5.0 0a2.5 2.5 0 1 0 -5.0 0M166.9 215.5a2.5 2.5 0 1 0 5.0 0a2.5 2.5 0 1 0 -5.0 0M168.0 215.4a2.5 2.5 0 1 0 5.0 0a2.5 2.5 0 1 0 -5.0 0M169.1 215.2a2.5 2.5 0 1 0 5.0 0a2.5 2.5 0 1 0 -5.0 0M170.3 215.6a2.5 2.5 0 1 0 5.0 0a2.5 2.5 0 1 0 -5.0 0M171.4 215.2a2.5 2.5 0 1 0 5.0 0a2.5 2.5 0 1 0 -5.0 0M172.6 215.2a2.5 2.5 0 1 0 5.0 0a2.5 2.5 0 1 0 -5.0 0M173.7 215.4a2.5 2.5 0 1 0 5.0 0a2.5 2.5 0 1 0 -5.0 0M174.8 215.4a2.5 2.5 0 1 0 5.0 0a2.5 2.5 0 1 0 -5.0 0M176.0 215.8a2.5 2.5 0 1 0 5.0 0a2.5 2.5 0 1 0 -5.0 0M177.1 215.3a2.5 2.5 0 1 0 5.0 0a2.5 2.5 0 1 0 -5.0 0M178.2 215.5a2.5 2.5 0 1 0 5.0 0a2.5 2.5 0 1 0 -5.0 0M179.4 215.7a2.5 2.5 0 1 0 5.0 0a2.5 2.5 0 1 0 -5.0 0M180.5 215.5a2.5 2.5 0 1 0 5.0 0a2.5 2.5 0 1 0 -5.0 0M181.7 215.8a2.5 2.5 0 1 0 5.0 0a2.5 2.5 0 1 0 -5.0 0M182.8 215.2a2.5 2.5 0 1 0 5.0 0a2.5 2.5 0 1 0 -5.0 0M184.0 215.2a2.5 2.5 0 1 0 5.0 0a2.5 2.5 0 1 0 -5.0 0M185.1 215.2a2.5 2.5 0 1 0 5.0 0a2.5 2.5 0 1 0 -5.0 0M186.2 215.1a2.5 2.5 0 1 0 5.0 0a2.5 2.5 0 1 0 -5.0 0M187.4 214.9a2.5 2.5 0 1 0 5.0 0a2.5 2.5 0 1 0 -5.0 0M188.3 213.9a2.5 2.5 0 1 0 5.0 0a2.5 2.5 0 1 0 -5.0 0M189.1 213.4a2.5 2.5 0 1 0 5.0 0a2.5 2.5 0 1 0 -5.0 0M189.7 212.6a2.5 2.5 0 1 0 5.0 0a2.5 2.5 0 1 0 -5.0 0M190.2 211.6a2.5 2.5 0 1 0 5.0 0a2.5 2.5 0 1 0 -5.0 0M190.8 210.9a2.5 2.5 0 1 0 5.0 0a2.5 2.5 0 1 0 -5.0 0M191.9 210.5a2.5 2.5 0 1 0 5.0 0a2.5 2.5 0 1 0 -5.0 0M192.5 211.8a2.5 2.5 0 1 0 5.0 0a2.5 2.5 0 1 0 -5.0 0M193.1 212.7a2.5 2.5 0 1 0 5.0 0a2.5 2.5 0 1 0 -5.0 0M193.8 213.5a2.5 2.5 0 1 0 5.0 0a2.5 2.5 0 1 0 -5.0 0M194.8 213.4a2.5 2.5 0 1 0 5.0 0a2.5 2.5 0 1 0 -5.0 0M195.7 212.8a2.5 2.5 0 1 0 5.0 0a2.5 2.5 0 1 0 -5.0 0M196.3 212.4a2.5 2.5 0 1 0 5.0 0a2.5 2.5 0 1 0 -5.0 0M196.7 211.3a2.5 2.5 0 1 0 5.0 0a2.5 2.5 0 1 0 -5.0 0M197.1 209.3a2.5 2.5 0 1 0 5.0 0a2.5 2.5 0 1 0 -5.0 0M197.4 207.8a2.5 2.5 0 1 0 5.0 0a2.5 2.5 0 1 0 -5.0 0M197.6 206.5a2.5 2.5 0 1 0 5.0 0a2.5 2.5 0 1 0 -5.0 0M197.8 205.1a2.5 2.5 0 1 0 5.0 0a2.5 2.5 0 1 0 -5.0 0M198.0 203.9a2.5 2.5 0 1 0 5.0 0a2.5 2.5 0 1 0 -5.0 0M198.2 202.6a2.5 2.5 0 1 0 5.0 0a2.5 2.5 0 1 0 -5.0 0M198.4 201.3a2.5 2.5 0 1 0 5.0 0a2.5 2.5 0 1 0 -5.0 0M199.3 202.5a2.5 2.5 0 1 0 5.0 0a2.5 2.5 0 1 0 -5.0 0M199.5 204.0a2.5 2.5 0 1 0 5.0 0a2.5 2.5 0 1 0 -5.0 0M199.7 205.6a2.5 2.5 0 1 0 5.0 0a2.5 2.5 0 1 0 -5.0 0M199.9 206.5a2.5 2.5 0 1 0 5.0 0a2.5 2.5 0 1 0 -5.0 0M200.1 207.8a2.5 2.5 0 1 0 5.0 0a2.5 2.5 0 1 0 -5.0 0M200.3 208.8a2.5 2.5 0 1 0 5.0 0a2.5 2.5 0 1 0 -5.0 0M200.7 211.0a2.5 2.5 0 1 0 5.0 0a2.5 2.5 0 1 0 -5.0 0M201.1 212.7a2.5 2.5 0 1 0 5.0 0a2.5 2.5 0 1 0 -5.0 0M201.4 213.4a2.5 2.5 0 1 0 5.0 0a2.5 2.5 0 1 0 -5.0 0M202.0 213.7a2.5 2.5 0 1 0 5.0 0a2.5 2.5 0 1 0 -5.0 0M202.8 214.7a2.5 2.5 0 1 0 5.0 0a2.5 2.5 0 1 0 -5.0 0M203.7 215.4a2.5 2.5 0 1 0 5.0 0a2.5 2.5 0 1 0 -5.0 0M204.9 215.2a2.5 2.5 0 1 0 5.0 0a2.5 2.5 0 1 0 -5.0 0M206.0 215.9a2.5 2.5 0 1 0 5.0 0a2.5 2.5 0 1 0 -5.0 0M207.1 215.6a2.5 2.5 0 1 0 5.0 0a2.5 2.5 0 1 0 -5.0 0M208.3 215.9a2.5 2.5 0 1 0 5.0 0a2.5 2.5 0 1 0 -5.0 0M209.4 216.2a2.5 2.5 0 1 0 5.0 0a2.5 2.5 0 1 0 -5.0 0M210.6 216.3a2.5 2.5 0 1 0 5.0 0a2.5 2.5 0 1 0 -5.0 0M211.7 215.8a2.5 2.5 0 1 0 5.0 0a2.5 2.5 0 1 0 -5.0 0M212.8 216.4a2.5 2.5 0 1 0 5.0 0a2.5 2.5 0 1 0 -5.0 0M214.0 216.4a2.5 2.5 0 1 0 5.0 0a2.5 2.5 0 1 0 -5.0 0M215.1 216.4a2.5 2.5 0 1 0 5.0 0a2.5 2.5 0 1 0 -5.0 0M216.2 216.4a2.5 2.5 0 1 0 5.0 0a2.5 2.5 0 1 0 -5.0 0M217.4 216.0a2.5 2.5 0 1 0 5.0 0a2.5 2.5 0 1 0 -5.0 0M218.5 215.8a2.5 2.5 0 1 0 5.0 0a2.5 2.5 0 1 0 -5.0 0M219.7 215.3a2.5 2.5 0 1 0 5.0 0a2.5 2.5 0 1 0 -5.0 0M220.6 215.1a2.5 2.5 0 1 0 5.0 0a2.5 2.5 0 1 0 -5.0 0M221.6 214.4a2.5 2.5 0 1 0 5.0 0a2.5 2.5 0 1 0 -5.0 0M222.5 214.0a2.5 2.5 0 1 0 5.0 0a2.5 2.5 0 1 0 -5.0 0M223.5 215.0a2.5 2.5 0 1 0 5.0 0a2.5 2.5 0 1 0 -5.0 0M224.4 215.6a2.5 2.5 0 1 0 5.0 0a2.5 2.5 0 1 0 -5.0 0M225.4 216.1a2.5 2.5 0 1 0 5.0 0a2.5 2.5 0 1 0 -5.0 0M226.5 216.0a2.5 2.5 0 1 0 5.0 0a2.5 2.5 0 1 0 -5.0 0M227.7 216.0a2.5 2.5 0 1 0 5.0 0a2.5 2.5 0 1 0 -5.0 0M228.8 216.4a2.5 2.5 0 1 0 5.0 0a2.5 2.5 0 1 0 -5.0 0M229.9 216.1a2.5 2.5 0 1 0 5.0 0a2.5 2.5 0 1 0 -5.0 0M231.1 216.4a2.5 2.5 0 1 0 5.0 0a2.5 2.5 0 1 0 -5.0 0M232.2 216.7a2.5 2.5 0 1 0 5.0 0a2.5 2.5 0 1 0 -5.0 0M233.4 216.5a2.5 2.5 0 1 0 5.0 0a2.5 2.5 0 1 0 -5.0 0M234.5 216.5a2.5 2.5 0 1 0 5.0 0a2.5 2.5 0 1 0 -5.0 0M235.6 216.5a2.5 2.5 0 1 0 5.0 0a2.5 2.5 0 1 0 -5.0 0M236.8 217.0a2.5 2.5 0 1 0 5.0 0a2.5 2.5 0 1 0 -5.0 0M237.9 216.4a2.5 2.5 0 1 0 5.0 0a2.5 2.5 0 1 0 -5.0 0M239.1 217.0a2.5 2.5 0 1 0 5.0 0a2.5 2.5 0 1 0 -5.0 0M240.2 216.9a2.5 2.5 0 1 0 5.0 0a2.5 2.5 0 1 0 -5.0 0M241.3 216.8a2.5 2.5 0 1 0 5.0 0a2.5 2.5 0 1 0 -5.0 0M242.5 217.0a2.5 2.5 0 1 0 5.0 0a2.5 2.5 0 1 0 -5.0 0M243.6 216.4a2.5 2.5 0 1 0 5.0 0a2.5 2.5 0 1 0 -5.0 0M244.8 217.1a2.5 2.5 0 1 0 5.0 0a2.5 2.5 0 1 0 -5.0 0M245.9 216.6a2.5 2.5 0 1 0 5.0 0a2.5 2.5 0 1 0 -5.0 0M247.0 216.6a2.5 2.5 0 1 0 5.0 0a2.5 2.5 0 1 0 -5.0 0M248.2 216.3a2.5 2.5 0 1 0 5.0 0a2.5 2.5 0 1 0 -5.0 0M249.1 216.2a2.5 2.5 0 1 0 5.0 0a2.5 2.5 0 1 0 -5.0 0M250.3 215.4a2.5 2.5 0 1 0 5.0 0a2.5 2.5 0 1 0 -5.0 0M251.2 216.1a2.5 2.5 0 1 0 5.0 0a2.5 2.5 0 1 0 -5.0 0M252.2 216.9a2.5 2.5 0 1 0 5.0 0a2.5 2.5 0 1 0 -5.0 0M253.3 216.6a2.5 2.5 0 1 0 5.0 0a2.5 2.5 0 1 0 -5.0 0M254.4 217.1a2.5 2.5 0 1 0 5.0 0a2.5 2.5 0 1 0 -5.0 0M255.6 216.7a2.5 2.5 0 1 0 5.0 0a2.5 2.5 0 1 0 -5.0 0M256.7 217.1a2.5 2.5 0 1 0 5.0 0a2.5 2.5 0 1 0 -5.0 0M257.9 217.0a2.5 2.5 0 1 0 5.0 0a2.5 2.5 0 1 0 -5.0 0M259.0 217.1a2.5 2.5 0 1 0 5.0 0a2.5 2.5 0 1 0 -5.0 0M260.1 216.7a2.5 2.5 0 1 0 5.0 0a2.5 2.5 0 1 0 -5.0 0M261.3 216.8a2.5 2.5 0 1 0 5.0 0a2.5 2.5 0 1 0 -5.0 0M262.4 217.1a2.5 2.5 0 1 0 5.0 0a2.5 2.5 0 1 0 -5.0 0M263.4 216.2a2.5 2.5 0 1 0 5.0 0a2.5 2.5 0 1 0 -5.0 0M264.3 215.6a2.5 2.5 0 1 0 5.0 0a2.5 2.5 0 1 0 -5.0 0M265.3 215.7a2.5 2.5 0 1 0 5.0 0a2.5 2.5 0 1 0 -5.0 0M266.2 215.6a2.5 2.5 0 1 0 5.0 0a2.5 2.5 0 1 0 -5.0 0M267.2 216.5a2.5 2.5 0 1 0 5.0 0a2.5 2.5 0 1 0 -5.0 0M268.1 216.9a2.5 2.5 0 1 0 5.0 0a2.5 2.5 0 1 0 -5.0 0M269.3 216.8a2.5 2.5 0 1 0 5.0 0a2.5 2.5 0 1 0 -5.0 0M270.4 217.4a2.5 2.5 0 1 0 5.0 0a2.5 2.5 0 1 0 -5.0 0M271.5 217.3a2.5 2.5 0 1 0 5.0 0a2.5 2.5 0 1 0 -5.0 0M272.7 217.7a2.5 2.5 0 1 0 5.0 0a2.5 2.5 0 1 0 -5.0 0M273.8 217.7a2.5 2.5 0 1 0 5.0 0a2.5 2.5 0 1 0 -5.0 0M275.0 217.0a2.5 2.5 0 1 0 5.0 0a2.5 2.5 0 1 0 -5.0 0M276.1 217.3a2.5 2.5 0 1 0 5.0 0a2.5 2.5 0 1 0 -5.0 0M277.2 216.9a2.5 2.5 0 1 0 5.0 0a2.5 2.5 0 1 0 -5.0 0M278.4 216.5a2.5 2.5 0 1 0 5.0 0a2.5 2.5 0 1 0 -5.0 0M279.3 216.6a2.5 2.5 0 1 0 5.0 0a2.5 2.5 0 1 0 -5.0 0M280.3 215.3a2.5 2.5 0 1 0 5.0 0a2.5 2.5 0 1 0 -5.0 0M281.0 215.0a2.5 2.5 0 1 0 5.0 0a2.5 2.5 0 1 0 -5.0 0M281.8 214.1a2.5 2.5 0 1 0 5.0 0a2.5 2.5 0 1 0 -5.0 0M282.8 213.6a2.5 2.5 0 1 0 5.0 0a2.5 2.5 0 1 0 -5.0 0M283.9 213.4a2.5 2.5 0 1 0 5.0 0a2.5 2.5 0 1 0 -5.0 0M284.8 214.7a2.5 2.5 0 1 0 5.0 0a2.5 2.5 0 1 0 -5.0 0M285.6 215.2a2.5 2.5 0 1 0 5.0 0a2.5 2.5 0 1 0 -5.0 0M286.4 215.7a2.5 2.5 0 1 0 5.0 0a2.5 2.5 0 1 0 -5.0 0M287.3 216.9a2.5 2.5 0 1 0 5.0 0a2.5 2.5 0 1 0 -5.0 0M288.3 216.9a2.5 2.5 0 1 0 5.0 0a2.5 2.5 0 1 0 -5.0 0M289.2 217.7a2.5 2.5 0 1 0 5.0 0a2.5 2.5 0 1 0 -5.0 0M290.4 217.6a2.5 2.5 0 1 0 5.0 0a2.5 2.5 0 1 0 -5.0 0M291.5 218.2a2.5 2.5 0 1 0 5.0 0a2.5 2.5 0 1 0 -5.0 0M292.6 217.9a2.5 2.5 0 1 0 5.0 0a2.5 2.5 0 1 0 -5.0 0M293.8 218.3a2.5 2.5 0 1 0 5.0 0a2.5 2.5 0 1 0 -5.0 0M294.9 218.4a2.5 2.5 0 1 0 5.0 0a2.5 2.5 0 1 0 -5.0 0M296.1 218.4a2.5 2.5 0 1 0 5.0 0a2.5 2.5 0 1 0 -5.0 0M297.2 218.7a2.5 2.5 0 1 0 5.0 0a2.5 2.5 0 1 0 -5.0 0M298.3 218.6a2.5 2.5 0 1 0 5.0 0a2.5 2.5 0 1 0 -5.0 0M299.5 218.6a2.5 2.5 0 1 0 5.0 0a2.5 2.5 0 1 0 -5.0 0M300.6 219.1a2.5 2.5 0 1 0 5.0 0a2.5 2.5 0 1 0 -5.0 0M301.8 219.4a2.5 2.5 0 1 0 5.0 0a2.5 2.5 0 1 0 -5.0 0M302.9 219.4a2.5 2.5 0 1 0 5.0 0a2.5 2.5 0 1 0 -5.0 0M304.0 219.7a2.5 2.5 0 1 0 5.0 0a2.5 2.5 0 1 0 -5.0 0M305.2 219.6a2.5 2.5 0 1 0 5.0 0a2.5 2.5 0 1 0 -5.0 0M306.3 219.9a2.5 2.5 0 1 0 5.0 0a2.5 2.5 0 1 0 -5.0 0" fill="none" stroke="#000" stroke-width="1.1"/>
<polyline points="18.3,222.1 19.2,222.0 20.2,222.0 21.2,221.9 22.1,221.8 23.1,221.8 24.0,221.7 25.0,221.7 25.9,221.6 26.9,221.5 27.8,221.5 28.8,221.4 29.7,221.4 30.6,221.3 31.6,221.2 32.5,221.1 33.5,221.1 34.5,221.0 35.4,220.9 36.4,220.8 37.3,220.6 38.2,220.5 39.2,220.2 40.2,220.0 40.9,219.7 41.7,219.2 42.4,218.6 43.0,217.9 43.6,216.8 44.0,215.8 44.3,214.3 44.5,213.3 44.7,212.0 44.9,210.3 45.1,207.9 45.3,204.7 45.5,200.4 45.7,194.5 45.9,186.9 46.0,177.4 46.2,166.1 46.4,154.2 46.6,143.7 46.8,138.0 47.0,139.5 47.2,147.5 47.4,158.9 47.6,170.7 47.8,181.3 47.9,190.0 48.1,196.9 48.3,202.1 48.5,205.9 48.7,208.7 48.9,210.7 49.1,212.2 49.3,213.4 49.5,214.3 49.8,215.6 50.2,216.5 50.8,217.4 51.4,218.0 52.1,218.5 52.9,218.8 53.8,219.1 54.8,219.2 55.7,219.2 56.7,219.2 57.6,219.2 58.6,219.1 59.5,218.9 60.5,218.7 61.2,218.4 62.0,217.9 62.6,217.3 63.1,216.2 63.5,214.9 63.7,214.0 63.9,212.9 64.1,211.5 64.3,209.7 64.5,207.7 64.7,205.5 64.8,203.0 65.0,200.7 65.2,198.8 65.4,197.8 65.8,199.0 66.0,201.0 66.2,203.3 66.4,205.7 66.6,208.0 66.8,209.9 66.9,211.6 67.1,212.9 67.3,214.0 67.5,214.9 67.9,216.1 68.3,216.8 68.8,217.5 69.6,217.9 70.4,218.2 71.3,218.4 72.3,218.5 73.2,218.5 74.2,218.5 75.1,218.5 76.1,218.5 77.0,218.4 78.0,218.4 78.9,218.4 79.9,218.3 80.8,218.3 81.8,218.2 82.7,218.1 83.7,218.1 84.6,218.0 85.6,218.0 86.5,217.9 87.5,217.8 88.4,217.8 89.4,217.7 90.3,217.6 91.3,217.6 92.2,217.5 93.2,217.4 94.1,217.3 95.1,217.3 96.0,217.2 97.0,217.1 97.9,217.0 98.9,216.9 99.8,216.8 100.8,216.7 101.7,216.6 102.7,216.4 103.6,216.2 104.6,216.0 105.5,215.7 106.3,215.3 107.0,214.8 107.8,214.1 108.4,213.3 108.7,212.5 109.1,211.4 109.5,209.7 109.7,208.6 109.9,207.3 110.1,205.8 110.3,204.0 110.5,201.9 110.6,199.5 110.8,196.9 111.0,194.1 111.2,191.2 111.4,188.5 111.6,186.1 111.8,184.4 112.3,185.5 112.5,187.7 112.7,190.3 112.9,193.2 113.1,196.0 113.3,198.7 113.5,201.1 113.7,203.3 113.9,205.2 114.1,206.8 114.2,208.2 114.4,209.3 114.6,210.2 114.8,211.0 115.2,212.2 115.6,213.0 116.1,213.8 116.9,214.5 117.7,214.9 118.4,215.2 119.4,215.4 120.3,215.6 121.3,215.7 122.2,215.7 123.2,215.8 124.1,215.8 125.1,215.8 126.0,215.8 127.0,215.8 127.9,215.8 128.9,215.7 129.8,215.6 130.8,215.5 131.7,215.3 132.5,215.0 133.2,214.3 133.8,213.5 134.2,212.7 134.6,211.6 135.0,210.3 135.3,209.0 135.7,208.0 136.5,208.4 136.9,209.6 137.2,210.9 137.6,212.1 138.0,213.0 138.6,213.9 139.3,214.5 140.1,214.8 141.0,214.9 142.0,214.7 142.8,214.3 143.3,213.6 143.7,212.8 144.1,211.7 144.5,210.2 144.7,209.3 144.8,208.3 145.0,207.3 145.2,206.3 145.4,205.5 146.2,205.8 146.4,206.7 146.6,207.7 146.7,208.7 146.9,209.7 147.1,210.6 147.5,212.0 147.9,213.0 148.5,213.9 149.2,214.5 150.2,214.8 151.1,214.7 151.9,214.3 152.6,213.5 153.2,212.8 154.2,212.7 154.7,213.4 155.3,214.1 156.1,214.8 156.8,215.1 157.8,215.3 158.7,215.4 159.7,215.5 160.6,215.5 161.6,215.5 162.5,215.5 163.5,215.5 164.4,215.5 165.4,215.5 166.3,215.5 167.3,215.5 168.2,215.5 169.2,215.5 170.1,215.5 171.1,215.5 172.0,215.5 173.0,215.5 173.9,215.5 174.9,215.5 175.8,215.6 176.8,215.6 177.7,215.6 178.7,215.6 179.6,215.6 180.6,215.6 181.5,215.6 182.5,215.6 183.4,215.6 184.4,215.6 185.3,215.5 186.3,215.5 187.2,215.4 188.2,215.3 189.1,215.1 189.9,214.8 190.6,214.3 191.4,213.6 192.0,212.8 192.5,211.8 193.1,210.9 193.9,210.4 194.6,211.1 195.2,211.9 195.8,212.7 196.3,213.3 197.1,213.6 198.0,213.4 198.6,212.6 199.0,211.8 199.4,210.5 199.6,209.6 199.8,208.6 199.9,207.5 200.1,206.3 200.3,205.0 200.5,203.7 200.7,202.5 200.9,201.5 201.3,200.6 201.7,201.7 201.8,202.8 202.0,204.1 202.2,205.5 202.4,206.8 202.6,208.0 202.8,209.1 203.0,210.1 203.2,211.0 203.6,212.3 203.9,213.2 204.5,214.1 205.3,214.8 206.0,215.2 207.0,215.4 207.9,215.6 208.9,215.8 209.8,215.9 210.8,215.9 211.7,216.0 212.7,216.0 213.6,216.1 214.6,216.1 215.5,216.1 216.5,216.1 217.4,216.1 218.4,216.1 219.3,216.1 220.3,216.1 221.2,215.9 222.2,215.7 222.9,215.3 223.7,214.8 224.5,214.4 225.4,214.3 226.2,214.8 226.9,215.3 227.7,215.7 228.4,216.0 229.4,216.2 230.3,216.3 231.3,216.4 232.2,216.5 233.2,216.5 234.1,216.6 235.1,216.6 236.0,216.6 237.0,216.6 237.9,216.7 238.9,216.7 239.8,216.7 240.8,216.7 241.7,216.8 242.7,216.8 243.6,216.8 244.6,216.8 245.5,216.8 246.5,216.8 247.4,216.8 248.4,216.8 249.3,216.7 250.3,216.5 251.1,216.1 251.8,215.8 252.8,215.6 253.5,216.0 254.3,216.4 255.0,216.6 256.0,216.8 256.9,216.9 257.9,217.0 258.8,217.0 259.8,217.1 260.7,217.1 261.7,217.1 262.6,217.1 263.6,217.0 264.5,216.9 265.5,216.6 266.2,216.2 267.0,215.7 267.8,215.4 268.5,215.7 269.3,216.2 270.1,216.7 270.8,217.0 271.8,217.2 272.7,217.3 273.7,217.3 274.6,217.3 275.6,217.4 276.5,217.3 277.5,217.3 278.4,217.3 279.4,217.1 280.3,216.9 281.1,216.7 281.8,216.3 282.6,215.8 283.4,215.2 284.1,214.5 284.9,213.8 285.6,213.5 286.6,213.8 287.3,214.4 287.9,215.0 288.5,215.6 289.2,216.2 290.0,216.8 290.8,217.1 291.5,217.4 292.5,217.7 293.4,217.9 294.4,218.0 295.3,218.1 296.3,218.2 297.2,218.3 298.2,218.3 299.1,218.4 300.1,218.5 301.0,218.6 302.0,218.8 302.9,219.0 303.9,219.2 304.8,219.4 305.8,219.6 306.7,219.7 307.7,219.9 308.6,220.1" fill="none" stroke="#d8201f" stroke-width="1.0" stroke-linejoin="round"/>
<path d="M38.5 228.5V233.3M46.5 228.5V233.3M48.5 228.5V233.3M55.5 228.5V233.3M65.5 228.5V233.3M78.5 228.5V233.3M92.5 228.5V233.3M108.5 228.5V233.3M112.5 228.5V233.3M117.5 228.5V233.3M119.5 228.5V233.3M125.5 228.5V233.3M131.5 228.5V233.3M136.5 228.5V233.3M137.5 228.5V233.3M140.5 228.5V233.3M142.5 228.5V233.3M146.5 228.5V233.3M153.5 228.5V233.3M159.5 228.5V233.3M163.5 228.5V233.3M173.5 228.5V233.3M178.5 228.5V233.3M180.5 228.5V233.3M185.5 228.5V233.3M193.5 228.5V233.3M195.5 228.5V233.3M200.5 228.5V233.3M201.5 228.5V233.3M207.5 228.5V233.3M212.5 228.5V233.3M214.5 228.5V233.3M216.5 228.5V233.3M223.5 228.5V233.3M225.5 228.5V233.3M227.5 228.5V233.3M228.5 228.5V233.3M232.5 228.5V233.3M234.5 228.5V233.3M236.5 228.5V233.3M238.5 228.5V233.3M239.5 228.5V233.3M241.5 228.5V233.3M243.5 228.5V233.3M245.5 228.5V233.3M252.5 228.5V233.3M255.5 228.5V233.3M257.5 228.5V233.3M258.5 228.5V233.3M259.5 228.5V233.3M260.5 228.5V233.3M267.5 228.5V233.3M269.5 228.5V233.3M271.5 228.5V233.3M274.5 228.5V233.3M276.5 228.5V233.3M278.5 228.5V233.3M280.5 228.5V233.3M281.5 228.5V233.3M282.5 228.5V233.3M286.5 228.5V233.3M290.5 228.5V233.3M291.5 228.5V233.3M293.5 228.5V233.3M295.5 228.5V233.3M302.5 228.5V233.3M307.5 228.5V233.3" stroke="#3046a8" stroke-width="1.1"/>
<polyline points="19.0,240.2 19.8,240.7 20.6,240.4 21.4,240.5 22.2,240.3 23.0,240.3 23.8,240.8 24.6,241.0 25.4,240.5 26.2,240.9 27.0,240.8 27.8,241.0 28.6,240.5 29.4,240.7 30.2,241.0 31.0,240.7 31.8,240.7 32.6,240.8 33.4,241.2 34.2,241.1 35.0,240.6 35.8,240.6 36.6,240.9 37.4,241.0 38.2,241.0 39.0,241.2 39.8,240.8 40.6,241.4 41.4,240.9 42.2,241.0 43.0,240.8 43.8,241.4 44.6,241.8 45.4,242.8 46.2,242.7 47.0,240.3 47.8,239.3 48.6,240.2 49.4,241.2 50.2,241.1 51.0,240.9 51.8,241.0 52.6,241.1 53.4,240.9 54.2,241.3 55.0,241.0 55.8,240.8 56.6,241.0 57.4,240.9 58.2,241.0 59.0,240.9 59.8,241.3 60.6,240.9 61.4,240.9 62.2,241.1 63.0,240.8 63.8,240.2 64.6,239.9 65.4,240.5 66.2,242.0 67.0,241.8 67.8,241.7 68.6,241.1 69.4,241.3 70.2,240.9 71.0,240.9 71.8,241.0 72.6,240.6 73.4,241.1 74.2,241.1 75.0,240.5 75.8,240.8 76.6,240.5 77.4,240.6 78.2,241.0 79.0,240.7 79.8,241.0 80.6,240.7 81.4,240.9 82.2,240.6 83.0,240.7 83.8,240.8 84.6,240.3 85.4,240.9 86.2,240.8 87.0,240.7 87.8,240.8 88.6,240.2 89.4,240.4 90.2,240.6 91.0,240.4 91.8,240.4 92.6,240.3 93.4,240.7 94.2,240.5 95.0,240.2 95.8,240.1 96.6,240.3 97.4,240.3 98.2,240.6 99.0,240.0 99.8,240.2 100.6,240.2 101.4,240.1 102.2,240.5 103.0,240.4 103.8,240.1 104.6,239.9 105.4,239.9 106.2,240.0 107.0,240.2 107.8,240.1 108.6,239.7 109.4,239.4 110.2,238.9 111.0,238.8 111.8,240.0 112.6,241.1 113.4,241.9 114.2,242.0 115.0,241.1 115.8,240.9 116.6,240.2 117.4,240.6 118.2,240.4 119.0,240.4 119.8,240.5 120.6,240.4 121.4,240.3 122.2,240.8 123.0,240.2 123.8,240.2 124.6,240.6 125.4,240.8 126.2,240.3 127.0,240.3 127.8,240.2 128.6,240.6 129.4,240.9 130.2,240.9 131.0,240.4 131.8,240.7 132.6,240.6 133.4,240.2 134.2,240.5 135.0,240.2 135.8,240.0 136.6,239.6 137.4,239.8 138.2,240.6 139.0,240.5 139.8,240.9 140.6,240.8 141.4,241.0 142.2,240.8 143.0,240.4 143.8,240.7 144.6,240.0 145.4,240.0 146.2,240.0 147.0,240.2 147.8,240.9 148.6,240.6 149.4,241.2 150.2,241.3 151.0,241.4 151.8,240.9 152.6,240.8 153.4,241.2 154.2,241.5 155.0,240.9 155.8,241.5 156.6,241.1 157.4,241.2 158.2,241.5 159.0,241.0 159.8,241.4 160.6,240.9 161.4,241.1 162.2,240.9 163.0,241.3 163.8,241.3 164.6,241.2 165.4,241.1 166.2,241.2 167.0,240.8 167.8,241.1 168.6,241.3 169.4,241.1 170.2,240.8 171.0,241.2 171.8,241.0 172.6,241.3 173.4,241.3 174.2,241.1 175.0,240.8 175.8,241.0 176.6,240.7 177.4,240.8 178.2,240.8 179.0,241.1 179.8,241.1 180.6,240.7 181.4,241.0 182.2,241.1 183.0,240.5 183.8,240.9 184.6,240.8 185.4,240.4 186.2,240.8 187.0,240.4 187.8,240.7 188.6,240.7 189.4,240.6 190.2,240.1 191.0,239.8 191.8,239.8 192.6,239.8 193.4,240.2 194.2,240.5 195.0,241.2 195.8,241.3 196.6,241.2 197.4,240.4 198.2,240.3 199.0,239.9 199.8,239.3 200.6,239.8 201.4,240.2 202.2,241.0 203.0,241.3 203.8,241.1 204.6,240.7 205.4,240.2 206.2,240.2 207.0,240.6 207.8,240.5 208.6,240.3 209.4,240.2 210.2,240.0 211.0,240.4 211.8,240.0 212.6,240.1 213.4,240.4 214.2,240.1 215.0,240.1 215.8,240.2 216.6,240.5 217.4,240.4 218.2,240.4 219.0,240.3 219.8,240.2 220.6,240.6 221.4,240.2 222.2,240.0 223.0,240.2 223.8,240.5 224.6,240.6 225.4,240.5 226.2,240.2 227.0,240.7 227.8,240.6 228.6,240.1 229.4,240.7 230.2,240.2 231.0,240.4 231.8,240.5 232.6,240.8 233.4,240.8 234.2,240.2 235.0,240.7 235.8,240.8 236.6,240.4 237.4,240.6 238.2,240.6 239.0,240.6 239.8,241.0 240.6,240.5 241.4,240.4 242.2,240.9 243.0,240.8 243.8,241.0 244.6,241.0 245.4,240.7 246.2,241.0 247.0,240.6 247.8,240.6 248.6,241.2 249.4,241.2 250.2,241.0 251.0,240.9 251.8,240.9 252.6,241.3 253.4,241.0 254.2,241.3 255.0,241.2 255.8,241.4 256.6,241.2 257.4,241.0 258.2,241.4 259.0,241.1 259.8,241.1 260.6,241.5 261.4,241.1 262.2,241.5 263.0,241.2 263.8,240.9 264.6,241.2 265.4,240.8 266.2,241.0 267.0,241.4 267.8,240.9 268.6,241.4 269.4,241.0 270.2,241.4 271.0,241.4 271.8,240.8 272.6,241.2 273.4,241.2 274.2,241.1 275.0,240.8 275.8,241.3 276.6,240.9 277.4,241.3 278.2,241.1 279.0,241.4 279.8,241.4 280.6,241.2 281.4,241.2 282.2,241.2 283.0,241.4 283.8,241.2 284.6,240.9 285.4,241.2 286.2,240.7 287.0,240.2 287.8,240.4 288.6,240.5 289.4,240.4 290.2,240.3 291.0,240.3 291.8,240.4 292.6,240.7 293.4,240.8 294.2,240.5 295.0,240.8 295.8,240.8 296.6,240.4 297.4,240.7 298.2,240.7 299.0,240.6 299.8,240.7 300.6,240.8 301.4,240.7 302.2,240.2 303.0,240.2 303.8,240.1 304.6,240.5 305.4,240.7 306.2,240.1 307.0,240.1" fill="none" stroke="#3d803d" stroke-width="1.15" stroke-linejoin="round"/>
<path d="M15.8 340.1a2.5 2.5 0 1 0 5.0 0a2.5 2.5 0 1 0 -5.0 0M16.9 340.5a2.5 2.5 0 1 0 5.0 0a2.5 2.5 0 1 0 -5.0 0M18.1 340.1a2.5 2.5 0 1 0 5.0 0a2.5 2.5 0 1 0 -5.0 0M19.2 340.4a2.5 2.5 0 1 0 5.0 0a2.5 2.5 0 1 0 -5.0 0M20.4 340.3a2.5 2.5 0 1 0 5.0 0a2.5 2.5 0 1 0 -5.0 0M21.5 340.1a2.5 2.5 0 1 0 5.0 0a2.5 2.5 0 1 0 -5.0 0M22.6 340.0a2.5 2.5 0 1 0 5.0 0a2.5 2.5 0 1 0 -5.0 0M23.8 339.5a2.5 2.5 0 1 0 5.0 0a2.5 2.5 0 1 0 -5.0 0M24.9 340.1a2.5 2.5 0 1 0 5.0 0a2.5 2.5 0 1 0 -5.0 0M26.1 340.0a2.5 2.5 0 1 0 5.0 0a2.5 2.5 0 1 0 -5.0 0M27.2 339.5a2.5 2.5 0 1 0 5.0 0a2.5 2.5 0 1 0 -5.0 0M28.3 339.2a2.5 2.5 0 1 0 5.0 0a2.5 2.5 0 1 0 -5.0 0M29.5 339.4a2.5 2.5 0 1 0 5.0 0a2.5 2.5 0 1 0 -5.0 0M30.6 339.4a2.5 2.5 0 1 0 5.0 0a2.5 2.5 0 1 0 -5.0 0M31.8 339.3a2.5 2.5 0 1 0 5.0 0a2.5 2.5 0 1 0 -5.0 0M32.9 338.6a2.5 2.5 0 1 0 5.0 0a2.5 2.5 0 1 0 -5.0 0M33.9 338.3a2.5 2.5 0 1 0 5.0 0a2.5 2.5 0 1 0 -5.0 0M34.8 337.7a2.5 2.5 0 1 0 5.0 0a2.5 2.5 0 1 0 -5.0 0M35.8 337.1a2.5 2.5 0 1 0 5.0 0a2.5 2.5 0 1 0 -5.0 0M36.5 335.7a2.5 2.5 0 1 0 5.0 0a2.5 2.5 0 1 0 -5.0 0M37.1 334.9a2.5 2.5 0 1 0 5.0 0a2.5 2.5 0 1 0 -5.0 0M37.5 332.9a2.5 2.5 0 1 0 5.0 0a2.5 2.5 0 1 0 -5.0 0M37.7 332.1a2.5 2.5 0 1 0 5.0 0a2.5 2.5 0 1 0 -5.0 0M37.8 330.4a2.5 2.5 0 1 0 5.0 0a2.5 2.5 0 1 0 -5.0 0M38.0 329.3a2.5 2.5 0 1 0 5.0 0a2.5 2.5 0 1 0 -5.0 0M38.2 326.4a2.5 2.5 0 1 0 5.0 0a2.5 2.5 0 1 0 -5.0 0M38.4 323.2a2.5 2.5 0 1 0 5.0 0a2.5 2.5 0 1 0 -5.0 0M38.6 319.3a2.5 2.5 0 1 0 5.0 0a2.5 2.5 0 1 0 -5.0 0M38.8 313.8a2.5 2.5 0 1 0 5.0 0a2.5 2.5 0 1 0 -5.0 0M39.0 306.0a2.5 2.5 0 1 0 5.0 0a2.5 2.5 0 1 0 -5.0 0M39.2 296.6a2.5 2.5 0 1 0 5.0 0a2.5 2.5 0 1 0 -5.0 0M39.4 285.2a2.5 2.5 0 1 0 5.0 0a2.5 2.5 0 1 0 -5.0 0M39.5 273.7a2.5 2.5 0 1 0 5.0 0a2.5 2.5 0 1 0 -5.0 0M39.7 262.7a2.5 2.5 0 1 0 5.0 0a2.5 2.5 0 1 0 -5.0 0M39.9 256.9a2.5 2.5 0 1 0 5.0 0a2.5 2.5 0 1 0 -5.0 0M40.1 258.8a2.5 2.5 0 1 0 5.0 0a2.5 2.5 0 1 0 -5.0 0M40.3 266.7a2.5 2.5 0 1 0 5.0 0a2.5 2.5 0 1 0 -5.0 0M40.5 277.7a2.5 2.5 0 1 0 5.0 0a2.5 2.5 0 1 0 -5.0 0M40.7 289.4a2.5 2.5 0 1 0 5.0 0a2.5 2.5 0 1 0 -5.0 0M40.9 300.3a2.5 2.5 0 1 0 5.0 0a2.5 2.5 0 1 0 -5.0 0M41.1 308.7a2.5 2.5 0 1 0 5.0 0a2.5 2.5 0 1 0 -5.0 0M41.3 315.5a2.5 2.5 0 1 0 5.0 0a2.5 2.5 0 1 0 -5.0 0M41.5 321.3a2.5 2.5 0 1 0 5.0 0a2.5 2.5 0 1 0 -5.0 0M41.6 325.1a2.5 2.5 0 1 0 5.0 0a2.5 2.5 0 1 0 -5.0 0M41.8 327.2a2.5 2.5 0 1 0 5.0 0a2.5 2.5 0 1 0 -5.0 0M42.0 329.1a2.5 2.5 0 1 0 5.0 0a2.5 2.5 0 1 0 -5.0 0M42.2 331.2a2.5 2.5 0 1 0 5.0 0a2.5 2.5 0 1 0 -5.0 0M42.4 332.1a2.5 2.5 0 1 0 5.0 0a2.5 2.5 0 1 0 -5.0 0M42.8 333.9a2.5 2.5 0 1 0 5.0 0a2.5 2.5 0 1 0 -5.0 0M43.2 334.5a2.5 2.5 0 1 0 5.0 0a2.5 2.5 0 1 0 -5.0 0M43.7 336.2a2.5 2.5 0 1 0 5.0 0a2.5 2.5 0 1 0 -5.0 0M44.5 336.9a2.5 2.5 0 1 0 5.0 0a2.5 2.5 0 1 0 -5.0 0M45.4 337.6a2.5 2.5 0 1 0 5.0 0a2.5 2.5 0 1 0 -5.0 0M46.6 337.2a2.5 2.5 0 1 0 5.0 0a2.5 2.5 0 1 0 -5.0 0M47.7 337.8a2.5 2.5 0 1 0 5.0 0a2.5 2.5 0 1 0 -5.0 0M48.9 338.1a2.5 2.5 0 1 0 5.0 0a2.5 2.5 0 1 0 -5.0 0M50.0 337.4a2.5 2.5 0 1 0 5.0 0a2.5 2.5 0 1 0 -5.0 0M51.1 337.7a2.5 2.5 0 1 0 5.0 0a2.5 2.5 0 1 0 -5.0 0M52.3 337.4a2.5 2.5 0 1 0 5.0 0a2.5 2.5 0 1 0 -5.0 0M53.2 337.0a2.5 2.5 0 1 0 5.0 0a2.5 2.5 0 1 0 -5.0 0M54.2 336.4a2.5 2.5 0 1 0 5.0 0a2.5 2.5 0 1 0 -5.0 0M54.9 335.1a2.5 2.5 0 1 0 5.0 0a2.5 2.5 0 1 0 -5.0 0M55.3 334.4a2.5 2.5 0 1 0 5.0 0a2.5 2.5 0 1 0 -5.0 0M55.7 332.4a2.5 2.5 0 1 0 5.0 0a2.5 2.5 0 1 0 -5.0 0M55.9 331.4a2.5 2.5 0 1 0 5.0 0a2.5 2.5 0 1 0 -5.0 0M56.1 330.0a2.5 2.5 0 1 0 5.0 0a2.5 2.5 0 1 0 -5.0 0M56.3 328.1a2.5 2.5 0 1 0 5.0 0a2.5 2.5 0 1 0 -5.0 0M56.5 325.8a2.5 2.5 0 1 0 5.0 0a2.5 2.5 0 1 0 -5.0 0M56.7 323.9a2.5 2.5 0 1 0 5.0 0a2.5 2.5 0 1 0 -5.0 0M56.8 321.5a2.5 2.5 0 1 0 5.0 0a2.5 2.5 0 1 0 -5.0 0M57.0 318.4a2.5 2.5 0 1 0 5.0 0a2.5 2.5 0 1 0 -5.0 0M57.2 316.4a2.5 2.5 0 1 0 5.0 0a2.5 2.5 0 1 0 -5.0 0M57.4 315.3a2.5 2.5 0 1 0 5.0 0a2.5 2.5 0 1 0 -5.0 0M57.8 316.7a2.5 2.5 0 1 0 5.0 0a2.5 2.5 0 1 0 -5.0 0M58.0 318.7a2.5 2.5 0 1 0 5.0 0a2.5 2.5 0 1 0 -5.0 0M58.2 321.5a2.5 2.5 0 1 0 5.0 0a2.5 2.5 0 1 0 -5.0 0M58.4 323.8a2.5 2.5 0 1 0 5.0 0a2.5 2.5 0 1 0 -5.0 0M58.5 326.0a2.5 2.5 0 1 0 5.0 0a2.5 2.5 0 1 0 -5.0 0M58.7 327.8a2.5 2.5 0 1 0 5.0 0a2.5 2.5 0 1 0 -5.0 0M58.9 329.7a2.5 2.5 0 1 0 5.0 0a2.5 2.5 0 1 0 -5.0 0M59.1 331.4a2.5 2.5 0 1 0 5.0 0a2.5 2.5 0 1 0 -5.0 0M59.3 332.3a2.5 2.5 0 1 0 5.0 0a2.5 2.5 0 1 0 -5.0 0M59.7 333.5a2.5 2.5 0 1 0 5.0 0a2.5 2.5 0 1 0 -5.0 0M60.1 334.7a2.5 2.5 0 1 0 5.0 0a2.5 2.5 0 1 0 -5.0 0M60.6 335.4a2.5 2.5 0 1 0 5.0 0a2.5 2.5 0 1 0 -5.0 0M61.6 336.4a2.5 2.5 0 1 0 5.0 0a2.5 2.5 0 1 0 -5.0 0M62.7 337.1a2.5 2.5 0 1 0 5.0 0a2.5 2.5 0 1 0 -5.0 0M63.9 337.2a2.5 2.5 0 1 0 5.0 0a2.5 2.5 0 1 0 -5.0 0M65.0 336.6a2.5 2.5 0 1 0 5.0 0a2.5 2.5 0 1 0 -5.0 0M66.2 337.3a2.5 2.5 0 1 0 5.0 0a2.5 2.5 0 1 0 -5.0 0M67.3 336.7a2.5 2.5 0 1 0 5.0 0a2.5 2.5 0 1 0 -5.0 0M68.4 337.2a2.5 2.5 0 1 0 5.0 0a2.5 2.5 0 1 0 -5.0 0M69.6 336.7a2.5 2.5 0 1 0 5.0 0a2.5 2.5 0 1 0 -5.0 0M70.7 337.0a2.5 2.5 0 1 0 5.0 0a2.5 2.5 0 1 0 -5.0 0M71.8 336.7a2.5 2.5 0 1 0 5.0 0a2.5 2.5 0 1 0 -5.0 0M73.0 336.4a2.5 2.5 0 1 0 5.0 0a2.5 2.5 0 1 0 -5.0 0M74.1 336.6a2.5 2.5 0 1 0 5.0 0a2.5 2.5 0 1 0 -5.0 0M75.3 336.8a2.5 2.5 0 1 0 5.0 0a2.5 2.5 0 1 0 -5.0 0M76.4 336.3a2.5 2.5 0 1 0 5.0 0a2.5 2.5 0 1 0 -5.0 0M77.5 336.3a2.5 2.5 0 1 0 5.0 0a2.5 2.5 0 1 0 -5.0 0M78.7 336.2a2.5 2.5 0 1 0 5.0 0a2.5 2.5 0 1 0 -5.0 0M79.8 336.5a2.5 2.5 0 1 0 5.0 0a2.5 2.5 0 1 0 -5.0 0M81.0 335.9a2.5 2.5 0 1 0 5.0 0a2.5 2.5 0 1 0 -5.0 0M82.1 336.0a2.5 2.5 0 1 0 5.0 0a2.5 2.5 0 1 0 -5.0 0M83.2 336.2a2.5 2.5 0 1 0 5.0 0a2.5 2.5 0 1 0 -5.0 0M84.4 336.2a2.5 2.5 0 1 0 5.0 0a2.5 2.5 0 1 0 -5.0 0M85.5 335.7a2.5 2.5 0 1 0 5.0 0a2.5 2.5 0 1 0 -5.0 0M86.7 335.6a2.5 2.5 0 1 0 5.0 0a2.5 2.5 0 1 0 -5.0 0M87.8 335.9a2.5 2.5 0 1 0 5.0 0a2.5 2.5 0 1 0 -5.0 0M89.0 335.3a2.5 2.5 0 1 0 5.0 0a2.5 2.5 0 1 0 -5.0 0M90.1 335.7a2.5 2.5 0 1 0 5.0 0a2.5 2.5 0 1 0 -5.0 0M91.2 335.6a2.5 2.5 0 1 0 5.0 0a2.5 2.5 0 1 0 -5.0 0M92.4 334.7a2.5 2.5 0 1 0 5.0 0a2.5 2.5 0 1 0 -5.0 0M93.5 334.7a2.5 2.5 0 1 0 5.0 0a2.5 2.5 0 1 0 -5.0 0M94.6 334.4a2.5 2.5 0 1 0 5.0 0a2.5 2.5 0 1 0 -5.0 0M95.6 334.1a2.5 2.5 0 1 0 5.0 0a2.5 2.5 0 1 0 -5.0 0M96.5 333.9a2.5 2.5 0 1 0 5.0 0a2.5 2.5 0 1 0 -5.0 0M97.5 333.4a2.5 2.5 0 1 0 5.0 0a2.5 2.5 0 1 0 -5.0 0M98.3 332.3a2.5 2.5 0 1 0 5.0 0a2.5 2.5 0 1 0 -5.0 0M98.8 331.0a2.5 2.5 0 1 0 5.0 0a2.5 2.5 0 1 0 -5.0 0M99.2 330.0a2.5 2.5 0 1 0 5.0 0a2.5 2.5 0 1 0 -5.0 0M99.6 328.7a2.5 2.5 0 1 0 5.0 0a2.5 2.5 0 1 0 -5.0 0M100.0 326.7a2.5 2.5 0 1 0 5.0 0a2.5 2.5 0 1 0 -5.0 0M100.2 325.3a2.5 2.5 0 1 0 5.0 0a2.5 2.5 0 1 0 -5.0 0M100.3 323.6a2.5 2.5 0 1 0 5.0 0a2.5 2.5 0 1 0 -5.0 0M100.5 322.1a2.5 2.5 0 1 0 5.0 0a2.5 2.5 0 1 0 -5.0 0M100.7 319.7a2.5 2.5 0 1 0 5.0 0a2.5 2.5 0 1 0 -5.0 0M100.9 317.3a2.5 2.5 0 1 0 5.0 0a2.5 2.5 0 1 0 -5.0 0M101.1 314.5a2.5 2.5 0 1 0 5.0 0a2.5 2.5 0 1 0 -5.0 0M101.3 310.6a2.5 2.5 0 1 0 5.0 0a2.5 2.5 0 1 0 -5.0 0M101.5 307.1a2.5 2.5 0 1 0 5.0 0a2.5 2.5 0 1 0 -5.0 0M101.7 303.5a2.5 2.5 0 1 0 5.0 0a2.5 2.5 0 1 0 -5.0 0M101.9 300.4a2.5 2.5 0 1 0 5.0 0a2.5 2.5 0 1 0 -5.0 0M102.1 297.3a2.5 2.5 0 1 0 5.0 0a2.5 2.5 0 1 0 -5.0 0M102.2 294.4a2.5 2.5 0 1 0 5.0 0a2.5 2.5 0 1 0 -5.0 0M102.4 293.3a2.5 2.5 0 1 0 5.0 0a2.5 2.5 0 1 0 -5.0 0M102.8 295.3a2.5 2.5 0 1 0 5.0 0a2.5 2.5 0 1 0 -5.0 0M103.0 297.6a2.5 2.5 0 1 0 5.0 0a2.5 2.5 0 1 0 -5.0 0M103.2 301.2a2.5 2.5 0 1 0 5.0 0a2.5 2.5 0 1 0 -5.0 0M103.4 305.0a2.5 2.5 0 1 0 5.0 0a2.5 2.5 0 1 0 -5.0 0M103.6 308.6a2.5 2.5 0 1 0 5.0 0a2.5 2.5 0 1 0 -5.0 0M103.8 312.4a2.5 2.5 0 1 0 5.0 0a2.5 2.5 0 1 0 -5.0 0M104.0 315.4a2.5 2.5 0 1 0 5.0 0a2.5 2.5 0 1 0 -5.0 0M104.1 318.3a2.5 2.5 0 1 0 5.0 0a2.5 2.5 0 1 0 -5.0 0M104.3 320.4a2.5 2.5 0 1 0 5.0 0a2.5 2.5 0 1 0 -5.0 0M104.5 322.6a2.5 2.5 0 1 0 5.0 0a2.5 2.5 0 1 0 -5.0 0M104.7 324.5a2.5 2.5 0 1 0 5.0 0a2.5 2.5 0 1 0 -5.0 0M104.9 326.2a2.5 2.5 0 1 0 5.0 0a2.5 2.5 0 1 0 -5.0 0M105.1 327.3a2.5 2.5 0 1 0 5.0 0a2.5 2.5 0 1 0 -5.0 0M105.3 328.4a2.5 2.5 0 1 0 5.0 0a2.5 2.5 0 1 0 -5.0 0M105.7 329.4a2.5 2.5 0 1 0 5.0 0a2.5 2.5 0 1 0 -5.0 0M106.0 330.6a2.5 2.5 0 1 0 5.0 0a2.5 2.5 0 1 0 -5.0 0M106.6 331.7a2.5 2.5 0 1 0 5.0 0a2.5 2.5 0 1 0 -5.0 0M107.4 332.6a2.5 2.5 0 1 0 5.0 0a2.5 2.5 0 1 0 -5.0 0M108.3 333.4a2.5 2.5 0 1 0 5.0 0a2.5 2.5 0 1 0 -5.0 0M109.3 333.5a2.5 2.5 0 1 0 5.0 0a2.5 2.5 0 1 0 -5.0 0M110.4 334.2a2.5 2.5 0 1 0 5.0 0a2.5 2.5 0 1 0 -5.0 0M111.6 334.5a2.5 2.5 0 1 0 5.0 0a2.5 2.5 0 1 0 -5.0 0M112.7 334.5a2.5 2.5 0 1 0 5.0 0a2.5 2.5 0 1 0 -5.0 0M113.8 334.6a2.5 2.5 0 1 0 5.0 0a2.5 2.5 0 1 0 -5.0 0M115.0 334.3a2.5 2.5 0 1 0 5.0 0a2.5 2.5 0 1 0 -5.0 0M116.1 334.3a2.5 2.5 0 1 0 5.0 0a2.5 2.5 0 1 0 -5.0 0M117.3 334.1a2.5 2.5 0 1 0 5.0 0a2.5 2.5 0 1 0 -5.0 0M118.4 334.0a2.5 2.5 0 1 0 5.0 0a2.5 2.5 0 1 0 -5.0 0M119.5 334.5a2.5 2.5 0 1 0 5.0 0a2.5 2.5 0 1 0 -5.0 0M120.7 333.7a2.5 2.5 0 1 0 5.0 0a2.5 2.5 0 1 0 -5.0 0M121.6 333.3a2.5 2.5 0 1 0 5.0 0a2.5 2.5 0 1 0 -5.0 0M122.4 332.9a2.5 2.5 0 1 0 5.0 0a2.5 2.5 0 1 0 -5.0 0M123.0 332.1a2.5 2.5 0 1 0 5.0 0a2.5 2.5 0 1 0 -5.0 0M123.5 330.2a2.5 2.5 0 1 0 5.0 0a2.5 2.5 0 1 0 -5.0 0M123.9 329.6a2.5 2.5 0 1 0 5.0 0a2.5 2.5 0 1 0 -5.0 0M124.3 328.1a2.5 2.5 0 1 0 5.0 0a2.5 2.5 0 1 0 -5.0 0M124.7 327.4a2.5 2.5 0 1 0 5.0 0a2.5 2.5 0 1 0 -5.0 0M125.6 327.9a2.5 2.5 0 1 0 5.0 0a2.5 2.5 0 1 0 -5.0 0M126.0 329.4a2.5 2.5 0 1 0 5.0 0a2.5 2.5 0 1 0 -5.0 0M126.4 329.9a2.5 2.5 0 1 0 5.0 0a2.5 2.5 0 1 0 -5.0 0M126.8 331.1a2.5 2.5 0 1 0 5.0 0a2.5 2.5 0 1 0 -5.0 0M127.3 332.3a2.5 2.5 0 1 0 5.0 0a2.5 2.5 0 1 0 -5.0 0M128.1 333.3a2.5 2.5 0 1 0 5.0 0a2.5 2.5 0 1 0 -5.0 0M129.0 333.5a2.5 2.5 0 1 0 5.0 0a2.5 2.5 0 1 0 -5.0 0M130.2 333.2a2.5 2.5 0 1 0 5.0 0a2.5 2.5 0 1 0 -5.0 0M131.1 333.2a2.5 2.5 0 1 0 5.0 0a2.5 2.5 0 1 0 -5.0 0M131.9 332.2a2.5 2.5 0 1 0 5.0 0a2.5 2.5 0 1 0 -5.0 0M132.5 330.9a2.5 2.5 0 1 0 5.0 0a2.5 2.5 0 1 0 -5.0 0M132.8 329.6a2.5 2.5 0 1 0 5.0 0a2.5 2.5 0 1 0 -5.0 0M133.2 327.3a2.5 2.5 0 1 0 5.0 0a2.5 2.5 0 1 0 -5.0 0M133.4 326.1a2.5 2.5 0 1 0 5.0 0a2.5 2.5 0 1 0 -5.0 0M133.6 324.5a2.5 2.5 0 1 0 5.0 0a2.5 2.5 0 1 0 -5.0 0M133.8 323.7a2.5 2.5 0 1 0 5.0 0a2.5 2.5 0 1 0 -5.0 0M134.0 322.5a2.5 2.5 0 1 0 5.0 0a2.5 2.5 0 1 0 -5.0 0M134.2 321.0a2.5 2.5 0 1 0 5.0 0a2.5 2.5 0 1 0 -5.0 0M135.1 322.8a2.5 2.5 0 1 0 5.0 0a2.5 2.5 0 1 0 -5.0 0M135.3 323.9a2.5 2.5 0 1 0 5.0 0a2.5 2.5 0 1 0 -5.0 0M135.5 325.4a2.5 2.5 0 1 0 5.0 0a2.5 2.5 0 1 0 -5.0 0M135.7 326.6a2.5 2.5 0 1 0 5.0 0a2.5 2.5 0 1 0 -5.0 0M135.9 327.5a2.5 2.5 0 1 0 5.0 0a2.5 2.5 0 1 0 -5.0 0M136.1 328.6a2.5 2.5 0 1 0 5.0 0a2.5 2.5 0 1 0 -5.0 0M136.5 330.0a2.5 2.5 0 1 0 5.0 0a2.5 2.5 0 1 0 -5.0 0M136.8 331.4a2.5 2.5 0 1 0 5.0 0a2.5 2.5 0 1 0 -5.0 0M137.4 332.5a2.5 2.5 0 1 0 5.0 0a2.5 2.5 0 1 0 -5.0 0M138.3 333.1a2.5 2.5 0 1 0 5.0 0a2.5 2.5 0 1 0 -5.0 0M139.5 333.7a2.5 2.5 0 1 0 5.0 0a2.5 2.5 0 1 0 -5.0 0M140.6 333.1a2.5 2.5 0 1 0 5.0 0a2.5 2.5 0 1 0 -5.0 0M141.6 332.5a2.5 2.5 0 1 0 5.0 0a2.5 2.5 0 1 0 -5.0 0M142.5 332.4a2.5 2.5 0 1 0 5.0 0a2.5 2.5 0 1 0 -5.0 0M143.5 332.8a2.5 2.5 0 1 0 5.0 0a2.5 2.5 0 1 0 -5.0 0M144.4 333.5a2.5 2.5 0 1 0 5.0 0a2.5 2.5 0 1 0 -5.0 0M145.6 333.6a2.5 2.5 0 1 0 5.0 0a2.5 2.5 0 1 0 -5.0 0M146.7 333.7a2.5 2.5 0 1 0 5.0 0a2.5 2.5 0 1 0 -5.0 0M147.9 334.1a2.5 2.5 0 1 0 5.0 0a2.5 2.5 0 1 0 -5.0 0M149.0 333.3a2.5 2.5 0 1 0 5.0 0a2.5 2.5 0 1 0 -5.0 0M149.9 333.0a2.5 2.5 0 1 0 5.0 0a2.5 2.5 0 1 0 -5.0 0M151.1 332.7a2.5 2.5 0 1 0 5.0 0a2.5 2.5 0 1 0 -5.0 0M152.0 333.3a2.5 2.5 0 1 0 5.0 0a2.5 2.5 0 1 0 -5.0 0M153.0 334.2a2.5 2.5 0 1 0 5.0 0a2.5 2.5 0 1 0 -5.0 0M154.1 334.3a2.5 2.5 0 1 0 5.0 0a2.5 2.5 0 1 0 -5.0 0M155.3 333.9a2.5 2.5 0 1 0 5.0 0a2.5 2.5 0 1 0 -5.0 0M156.4 334.1a2.5 2.5 0 1 0 5.0 0a2.5 2.5 0 1 0 -5.0 0M157.5 334.4a2.5 2.5 0 1 0 5.0 0a2.5 2.5 0 1 0 -5.0 0M158.7 334.5a2.5 2.5 0 1 0 5.0 0a2.5 2.5 0 1 0 -5.0 0M159.8 334.3a2.5 2.5 0 1 0 5.0 0a2.5 2.5 0 1 0 -5.0 0M161.0 333.7a2.5 2.5 0 1 0 5.0 0a2.5 2.5 0 1 0 -5.0 0M162.1 334.2a2.5 2.5 0 1 0 5.0 0a2.5 2.5 0 1 0 -5.0 0M163.2 333.9a2.5 2.5 0 1 0 5.0 0a2.5 2.5 0 1 0 -5.0 0M164.4 334.1a2.5 2.5 0 1 0 5.0 0a2.5 2.5 0 1 0 -5.0 0M165.5 334.4a2.5 2.5 0 1 0 5.0 0a2.5 2.5 0 1 0 -5.0 0M166.7 333.8a2.5 2.5 0 1 0 5.0 0a2.5 2.5 0 1 0 -5.0 0M167.8 333.9a2.5 2.5 0 1 0 5.0 0a2.5 2.5 0 1 0 -5.0 0M168.9 334.0a2.5 2.5 0 1 0 5.0 0a2.5 2.5 0 1 0 -5.0 0M170.1 334.0a2.5 2.5 0 1 0 5.0 0a2.5 2.5 0 1 0 -5.0 0M171.2 333.9a2.5 2.5 0 1 0 5.0 0a2.5 2.5 0 1 0 -5.0 0M172.4 334.0a2.5 2.5 0 1 0 5.0 0a2.5 2.5 0 1 0 -5.0 0M173.5 333.6a2.5 2.5 0 1 0 5.0 0a2.5 2.5 0 1 0 -5.0 0M174.6 333.6a2.5 2.5 0 1 0 5.0 0a2.5 2.5 0 1 0 -5.0 0M175.8 333.0a2.5 2.5 0 1 0 5.0 0a2.5 2.5 0 1 0 -5.0 0M176.7 332.3a2.5 2.5 0 1 0 5.0 0a2.5 2.5 0 1 0 -5.0 0M177.5 331.8a2.5 2.5 0 1 0 5.0 0a2.5 2.5 0 1 0 -5.0 0M178.1 330.7a2.5 2.5 0 1 0 5.0 0a2.5 2.5 0 1 0 -5.0 0M178.6 329.6a2.5 2.5 0 1 0 5.0 0a2.5 2.5 0 1 0 -5.0 0M179.2 328.1a2.5 2.5 0 1 0 5.0 0a2.5 2.5 0 1 0 -5.0 0M180.0 327.3a2.5 2.5 0 1 0 5.0 0a2.5 2.5 0 1 0 -5.0 0M180.9 328.2a2.5 2.5 0 1 0 5.0 0a2.5 2.5 0 1 0 -5.0 0M181.5 329.0a2.5 2.5 0 1 0 5.0 0a2.5 2.5 0 1 0 -5.0 0M182.1 330.2a2.5 2.5 0 1 0 5.0 0a2.5 2.5 0 1 0 -5.0 0M182.8 331.4a2.5 2.5 0 1 0 5.0 0a2.5 2.5 0 1 0 -5.0 0M184.0 331.2a2.5 2.5 0 1 0 5.0 0a2.5 2.5 0 1 0 -5.0 0M184.7 330.0a2.5 2.5 0 1 0 5.0 0a2.5 2.5 0 1 0 -5.0 0M185.1 328.3a2.5 2.5 0 1 0 5.0 0a2.5 2.5 0 1 0 -5.0 0M185.5 327.2a2.5 2.5 0 1 0 5.0 0a2.5 2.5 0 1 0 -5.0 0M185.7 326.1a2.5 2.5 0 1 0 5.0 0a2.5 2.5 0 1 0 -5.0 0M185.9 324.4a2.5 2.5 0 1 0 5.0 0a2.5 2.5 0 1 0 -5.0 0M186.0 323.8a2.5 2.5 0 1 0 5.0 0a2.5 2.5 0 1 0 -5.0 0M186.2 322.2a2.5 2.5 0 1 0 5.0 0a2.5 2.5 0 1 0 -5.0 0M186.4 321.1a2.5 2.5 0 1 0 5.0 0a2.5 2.5 0 1 0 -5.0 0M186.6 319.6a2.5 2.5 0 1 0 5.0 0a2.5 2.5 0 1 0 -5.0 0M187.0 318.7a2.5 2.5 0 1 0 5.0 0a2.5 2.5 0 1 0 -5.0 0M187.4 320.0a2.5 2.5 0 1 0 5.0 0a2.5 2.5 0 1 0 -5.0 0M187.6 320.6a2.5 2.5 0 1 0 5.0 0a2.5 2.5 0 1 0 -5.0 0M187.8 321.9a2.5 2.5 0 1 0 5.0 0a2.5 2.5 0 1 0 -5.0 0M187.9 323.7a2.5 2.5 0 1 0 5.0 0a2.5 2.5 0 1 0 -5.0 0M188.1 325.1a2.5 2.5 0 1 0 5.0 0a2.5 2.5 0 1 0 -5.0 0M188.3 326.2a2.5 2.5 0 1 0 5.0 0a2.5 2.5 0 1 0 -5.0 0M188.5 326.8a2.5 2.5 0 1 0 5.0 0a2.5 2.5 0 1 0 -5.0 0M188.9 328.9a2.5 2.5 0 1 0 5.0 0a2.5 2.5 0 1 0 -5.0 0M189.3 330.3a2.5 2.5 0 1 0 5.0 0a2.5 2.5 0 1 0 -5.0 0M189.7 330.8a2.5 2.5 0 1 0 5.0 0a2.5 2.5 0 1 0 -5.0 0M190.2 332.1a2.5 2.5 0 1 0 5.0 0a2.5 2.5 0 1 0 -5.0 0M191.2 332.8a2.5 2.5 0 1 0 5.0 0a2.5 2.5 0 1 0 -5.0 0M192.1 333.3a2.5 2.5 0 1 0 5.0 0a2.5 2.5 0 1 0 -5.0 0M193.3 333.3a2.5 2.5 0 1 0 5.0 0a2.5 2.5 0 1 0 -5.0 0M194.4 333.1a2.5 2.5 0 1 0 5.0 0a2.5 2.5 0 1 0 -5.0 0M195.5 333.0a2.5 2.5 0 1 0 5.0 0a2.5 2.5 0 1 0 -5.0 0M196.7 333.0a2.5 2.5 0 1 0 5.0 0a2.5 2.5 0 1 0 -5.0 0M197.6 332.6a2.5 2.5 0 1 0 5.0 0a2.5 2.5 0 1 0 -5.0 0M198.6 332.1a2.5 2.5 0 1 0 5.0 0a2.5 2.5 0 1 0 -5.0 0M199.5 331.7a2.5 2.5 0 1 0 5.0 0a2.5 2.5 0 1 0 -5.0 0M200.7 331.4a2.5 2.5 0 1 0 5.0 0a2.5 2.5 0 1 0 -5.0 0M201.6 332.7a2.5 2.5 0 1 0 5.0 0a2.5 2.5 0 1 0 -5.0 0M202.6 332.8a2.5 2.5 0 1 0 5.0 0a2.5 2.5 0 1 0 -5.0 0M203.5 333.6a2.5 2.5 0 1 0 5.0 0a2.5 2.5 0 1 0 -5.0 0M204.7 333.6a2.5 2.5 0 1 0 5.0 0a2.5 2.5 0 1 0 -5.0 0M205.8 333.2a2.5 2.5 0 1 0 5.0 0a2.5 2.5 0 1 0 -5.0 0M206.9 333.3a2.5 2.5 0 1 0 5.0 0a2.5 2.5 0 1 0 -5.0 0M207.9 332.5a2.5 2.5 0 1 0 5.0 0a2.5 2.5 0 1 0 -5.0 0M208.8 331.7a2.5 2.5 0 1 0 5.0 0a2.5 2.5 0 1 0 -5.0 0M209.6 331.1a2.5 2.5 0 1 0 5.0 0a2.5 2.5 0 1 0 -5.0 0M210.6 330.7a2.5 2.5 0 1 0 5.0 0a2.5 2.5 0 1 0 -5.0 0M211.5 331.3a2.5 2.5 0 1 0 5.0 0a2.5 2.5 0 1 0 -5.0 0M212.3 332.5a2.5 2.5 0 1 0 5.0 0a2.5 2.5 0 1 0 -5.0 0M213.0 332.5a2.5 2.5 0 1 0 5.0 0a2.5 2.5 0 1 0 -5.0 0M214.0 333.1a2.5 2.5 0 1 0 5.0 0a2.5 2.5 0 1 0 -5.0 0M215.1 333.8a2.5 2.5 0 1 0 5.0 0a2.5 2.5 0 1 0 -5.0 0M216.2 333.5a2.5 2.5 0 1 0 5.0 0a2.5 2.5 0 1 0 -5.0 0M217.4 333.6a2.5 2.5 0 1 0 5.0 0a2.5 2.5 0 1 0 -5.0 0M218.5 334.2a2.5 2.5 0 1 0 5.0 0a2.5 2.5 0 1 0 -5.0 0M219.7 334.2a2.5 2.5 0 1 0 5.0 0a2.5 2.5 0 1 0 -5.0 0M220.8 334.3a2.5 2.5 0 1 0 5.0 0a2.5 2.5 0 1 0 -5.0 0M222.0 334.0a2.5 2.5 0 1 0 5.0 0a2.5 2.5 0 1 0 -5.0 0M223.1 334.4a2.5 2.5 0 1 0 5.0 0a2.5 2.5 0 1 0 -5.0 0M224.2 334.1a2.5 2.5 0 1 0 5.0 0a2.5 2.5 0 1 0 -5.0 0M225.4 333.9a2.5 2.5 0 1 0 5.0 0a2.5 2.5 0 1 0 -5.0 0M226.5 334.1a2.5 2.5 0 1 0 5.0 0a2.5 2.5 0 1 0 -5.0 0M227.7 334.1a2.5 2.5 0 1 0 5.0 0a2.5 2.5 0 1 0 -5.0 0M228.8 334.4a2.5 2.5 0 1 0 5.0 0a2.5 2.5 0 1 0 -5.0 0M229.9 333.8a2.5 2.5 0 1 0 5.0 0a2.5 2.5 0 1 0 -5.0 0M231.1 334.5a2.5 2.5 0 1 0 5.0 0a2.5 2.5 0 1 0 -5.0 0M232.2 333.8a2.5 2.5 0 1 0 5.0 0a2.5 2.5 0 1 0 -5.0 0M233.4 333.8a2.5 2.5 0 1 0 5.0 0a2.5 2.5 0 1 0 -5.0 0M234.5 334.2a2.5 2.5 0 1 0 5.0 0a2.5 2.5 0 1 0 -5.0 0M235.6 333.9a2.5 2.5 0 1 0 5.0 0a2.5 2.5 0 1 0 -5.0 0M236.8 334.5a2.5 2.5 0 1 0 5.0 0a2.5 2.5 0 1 0 -5.0 0M237.9 334.5a2.5 2.5 0 1 0 5.0 0a2.5 2.5 0 1 0 -5.0 0M239.1 333.9a2.5 2.5 0 1 0 5.0 0a2.5 2.5 0 1 0 -5.0 0M240.2 333.8a2.5 2.5 0 1 0 5.0 0a2.5 2.5 0 1 0 -5.0 0M241.3 334.2a2.5 2.5 0 1 0 5.0 0a2.5 2.5 0 1 0 -5.0 0M242.5 334.4a2.5 2.5 0 1 0 5.0 0a2.5 2.5 0 1 0 -5.0 0M243.6 333.9a2.5 2.5 0 1 0 5.0 0a2.5 2.5 0 1 0 -5.0 0M244.8 334.4a2.5 2.5 0 1 0 5.0 0a2.5 2.5 0 1 0 -5.0 0M245.9 334.3a2.5 2.5 0 1 0 5.0 0a2.5 2.5 0 1 0 -5.0 0M247.0 334.3a2.5 2.5 0 1 0 5.0 0a2.5 2.5 0 1 0 -5.0 0M248.2 333.9a2.5 2.5 0 1 0 5.0 0a2.5 2.5 0 1 0 -5.0 0M249.3 333.8a2.5 2.5 0 1 0 5.0 0a2.5 2.5 0 1 0 -5.0 0M250.5 333.7a2.5 2.5 0 1 0 5.0 0a2.5 2.5 0 1 0 -5.0 0M251.6 333.4a2.5 2.5 0 1 0 5.0 0a2.5 2.5 0 1 0 -5.0 0M252.7 333.9a2.5 2.5 0 1 0 5.0 0a2.5 2.5 0 1 0 -5.0 0M253.9 333.8a2.5 2.5 0 1 0 5.0 0a2.5 2.5 0 1 0 -5.0 0M255.0 333.8a2.5 2.5 0 1 0 5.0 0a2.5 2.5 0 1 0 -5.0 0M256.1 334.3a2.5 2.5 0 1 0 5.0 0a2.5 2.5 0 1 0 -5.0 0M257.3 334.0a2.5 2.5 0 1 0 5.0 0a2.5 2.5 0 1 0 -5.0 0M258.4 334.3a2.5 2.5 0 1 0 5.0 0a2.5 2.5 0 1 0 -5.0 0M259.6 334.3a2.5 2.5 0 1 0 5.0 0a2.5 2.5 0 1 0 -5.0 0M260.7 333.7a2.5 2.5 0 1 0 5.0 0a2.5 2.5 0 1 0 -5.0 0M261.9 333.7a2.5 2.5 0 1 0 5.0 0a2.5 2.5 0 1 0 -5.0 0M263.0 333.8a2.5 2.5 0 1 0 5.0 0a2.5 2.5 0 1 0 -5.0 0M264.1 333.3a2.5 2.5 0 1 0 5.0 0a2.5 2.5 0 1 0 -5.0 0M265.1 332.5a2.5 2.5 0 1 0 5.0 0a2.5 2.5 0 1 0 -5.0 0M265.8 332.1a2.5 2.5 0 1 0 5.0 0a2.5 2.5 0 1 0 -5.0 0M266.4 331.1a2.5 2.5 0 1 0 5.0 0a2.5 2.5 0 1 0 -5.0 0M267.0 329.6a2.5 2.5 0 1 0 5.0 0a2.5 2.5 0 1 0 -5.0 0M267.6 329.0a2.5 2.5 0 1 0 5.0 0a2.5 2.5 0 1 0 -5.0 0M268.5 329.3a2.5 2.5 0 1 0 5.0 0a2.5 2.5 0 1 0 -5.0 0M269.1 330.4a2.5 2.5 0 1 0 5.0 0a2.5 2.5 0 1 0 -5.0 0M269.6 331.6a2.5 2.5 0 1 0 5.0 0a2.5 2.5 0 1 0 -5.0 0M270.2 332.5a2.5 2.5 0 1 0 5.0 0a2.5 2.5 0 1 0 -5.0 0M271.0 333.0a2.5 2.5 0 1 0 5.0 0a2.5 2.5 0 1 0 -5.0 0M271.9 333.8a2.5 2.5 0 1 0 5.0 0a2.5 2.5 0 1 0 -5.0 0M273.1 334.0a2.5 2.5 0 1 0 5.0 0a2.5 2.5 0 1 0 -5.0 0M274.2 333.8a2.5 2.5 0 1 0 5.0 0a2.5 2.5 0 1 0 -5.0 0M275.3 334.4a2.5 2.5 0 1 0 5.0 0a2.5 2.5 0 1 0 -5.0 0M276.5 333.9a2.5 2.5 0 1 0 5.0 0a2.5 2.5 0 1 0 -5.0 0M277.6 334.5a2.5 2.5 0 1 0 5.0 0a2.5 2.5 0 1 0 -5.0 0M278.8 334.7a2.5 2.5 0 1 0 5.0 0a2.5 2.5 0 1 0 -5.0 0M279.9 335.0a2.5 2.5 0 1 0 5.0 0a2.5 2.5 0 1 0 -5.0 0M281.0 335.1a2.5 2.5 0 1 0 5.0 0a2.5 2.5 0 1 0 -5.0 0M282.2 334.7a2.5 2.5 0 1 0 5.0 0a2.5 2.5 0 1 0 -5.0 0M283.3 335.5a2.5 2.5 0 1 0 5.0 0a2.5 2.5 0 1 0 -5.0 0M284.5 335.4a2.5 2.5 0 1 0 5.0 0a2.5 2.5 0 1 0 -5.0 0M285.6 335.4a2.5 2.5 0 1 0 5.0 0a2.5 2.5 0 1 0 -5.0 0M286.7 335.7a2.5 2.5 0 1 0 5.0 0a2.5 2.5 0 1 0 -5.0 0M287.9 335.7a2.5 2.5 0 1 0 5.0 0a2.5 2.5 0 1 0 -5.0 0M289.0 336.2a2.5 2.5 0 1 0 5.0 0a2.5 2.5 0 1 0 -5.0 0M290.2 335.7a2.5 2.5 0 1 0 5.0 0a2.5 2.5 0 1 0 -5.0 0M291.3 335.9a2.5 2.5 0 1 0 5.0 0a2.5 2.5 0 1 0 -5.0 0M292.4 336.1a2.5 2.5 0 1 0 5.0 0a2.5 2.5 0 1 0 -5.0 0M293.6 336.1a2.5 2.5 0 1 0 5.0 0a2.5 2.5 0 1 0 -5.0 0M294.7 336.3a2.5 2.5 0 1 0 5.0 0a2.5 2.5 0 1 0 -5.0 0M295.9 336.4a2.5 2.5 0 1 0 5.0 0a2.5 2.5 0 1 0 -5.0 0M297.0 336.4a2.5 2.5 0 1 0 5.0 0a2.5 2.5 0 1 0 -5.0 0M298.1 336.5a2.5 2.5 0 1 0 5.0 0a2.5 2.5 0 1 0 -5.0 0M299.3 336.2a2.5 2.5 0 1 0 5.0 0a2.5 2.5 0 1 0 -5.0 0M300.2 335.7a2.5 2.5 0 1 0 5.0 0a2.5 2.5 0 1 0 -5.0 0M301.4 335.4a2.5 2.5 0 1 0 5.0 0a2.5 2.5 0 1 0 -5.0 0M302.3 336.1a2.5 2.5 0 1 0 5.0 0a2.5 2.5 0 1 0 -5.0 0M303.3 336.4a2.5 2.5 0 1 0 5.0 0a2.5 2.5 0 1 0 -5.0 0M304.2 337.5a2.5 2.5 0 1 0 5.0 0a2.5 2.5 0 1 0 -5.0 0M305.2 337.2a2.5 2.5 0 1 0 5.0 0a2.5 2.5 0 1 0 -5.0 0M306.3 337.5a2.5 2.5 0 1 0 5.0 0a2.5 2.5 0 1 0 -5.0 0" fill="none" stroke="#000" stroke-width="1.1"/>
<polyline points="18.3,340.3 19.2,340.3 20.2,340.2 21.2,340.2 22.1,340.1 23.1,340.1 24.0,340.0 25.0,340.0 25.9,339.9 26.9,339.9 27.8,339.8 28.8,339.7 29.7,339.6 30.6,339.5 31.6,339.4 32.5,339.3 33.5,339.2 34.5,339.0 35.4,338.8 36.2,338.5 36.9,338.2 37.7,337.7 38.4,336.9 39.0,336.0 39.4,335.1 39.8,333.9 40.0,333.1 40.2,332.1 40.3,330.8 40.5,329.1 40.7,326.7 40.9,323.6 41.1,319.2 41.3,313.4 41.5,305.9 41.7,296.4 41.9,285.2 42.0,273.3 42.2,263.0 42.4,257.3 42.6,258.8 42.8,266.7 43.0,278.0 43.2,289.7 43.4,300.3 43.6,308.9 43.8,315.7 44.0,320.9 44.1,324.7 44.3,327.5 44.5,329.5 44.7,331.0 44.9,332.1 45.1,333.0 45.5,334.3 45.9,335.2 46.4,336.1 47.0,336.7 47.8,337.2 48.5,337.5 49.5,337.7 50.4,337.8 51.4,337.8 52.3,337.7 53.3,337.7 54.2,337.5 55.2,337.2 55.9,336.9 56.7,336.3 57.2,335.6 57.6,334.7 58.0,333.4 58.2,332.5 58.4,331.3 58.6,329.8 58.8,328.0 59.0,325.9 59.2,323.6 59.3,321.1 59.5,318.6 59.7,316.6 59.9,315.5 60.3,316.7 60.5,318.7 60.7,321.1 60.9,323.6 61.0,325.9 61.2,328.0 61.4,329.7 61.6,331.1 61.8,332.3 62.0,333.2 62.4,334.5 62.8,335.3 63.3,335.9 64.1,336.4 64.8,336.7 65.8,336.8 66.8,336.9 67.7,337.0 68.7,337.0 69.6,336.9 70.5,336.9 71.5,336.9 72.5,336.8 73.4,336.8 74.3,336.7 75.3,336.6 76.2,336.6 77.2,336.5 78.2,336.4 79.1,336.4 80.0,336.3 81.0,336.2 82.0,336.2 82.9,336.1 83.8,336.1 84.8,336.0 85.8,336.0 86.7,335.9 87.6,335.8 88.6,335.8 89.5,335.7 90.5,335.6 91.5,335.5 92.4,335.4 93.3,335.3 94.3,335.2 95.2,335.0 96.2,334.9 97.1,334.6 98.1,334.3 98.9,333.9 99.6,333.5 100.4,332.8 101.0,332.0 101.3,331.3 101.7,330.3 102.1,328.9 102.3,328.0 102.5,326.9 102.7,325.5 102.8,323.9 103.0,322.0 103.2,319.8 103.4,317.2 103.6,314.2 103.8,310.9 104.0,307.4 104.2,303.7 104.4,300.1 104.6,297.0 104.8,294.7 104.9,293.5 105.3,295.4 105.5,298.0 105.7,301.3 105.9,305.0 106.1,308.6 106.3,312.0 106.5,315.2 106.6,318.0 106.8,320.5 107.0,322.6 107.2,324.3 107.4,325.8 107.6,327.0 107.8,328.1 108.0,328.9 108.4,330.2 108.7,331.1 109.3,331.9 109.9,332.5 110.6,333.1 111.4,333.4 112.2,333.7 113.1,333.9 114.1,334.1 115.0,334.2 116.0,334.3 116.9,334.3 117.9,334.3 118.8,334.3 119.8,334.3 120.7,334.2 121.7,334.2 122.6,334.0 123.6,333.8 124.3,333.4 125.1,332.6 125.6,331.6 126.0,330.6 126.4,329.4 126.8,328.2 127.2,327.2 128.1,327.8 128.5,329.0 128.9,330.2 129.3,331.2 129.6,331.9 130.2,332.7 131.0,333.2 131.9,333.3 132.9,333.2 133.6,332.8 134.2,332.3 134.8,331.2 135.2,330.0 135.3,329.2 135.5,328.2 135.7,327.2 135.9,326.0 136.1,324.7 136.3,323.3 136.5,322.1 136.7,321.1 137.1,320.3 137.4,321.6 137.6,322.7 137.8,324.1 138.0,325.4 138.2,326.6 138.4,327.8 138.6,328.8 138.8,329.6 139.1,331.0 139.5,331.9 140.1,332.7 140.8,333.2 141.8,333.5 142.8,333.5 143.7,333.1 144.5,332.7 145.4,332.7 146.2,333.2 146.9,333.6 147.9,333.9 148.8,334.0 149.8,333.9 150.7,333.8 151.5,333.5 152.2,333.0 153.0,332.7 153.8,333.0 154.5,333.5 155.3,333.8 156.2,334.0 157.2,334.1 158.1,334.1 159.1,334.1 160.0,334.1 161.0,334.1 161.9,334.1 162.9,334.1 163.8,334.1 164.8,334.1 165.7,334.1 166.7,334.0 167.6,334.0 168.6,334.0 169.5,334.0 170.5,333.9 171.4,333.9 172.4,333.9 173.3,333.8 174.3,333.8 175.2,333.7 176.2,333.6 177.1,333.4 178.1,333.1 178.9,332.7 179.6,332.1 180.2,331.3 180.8,330.3 181.1,329.6 181.5,328.8 182.1,327.8 183.0,327.8 183.6,328.7 184.2,329.7 184.7,330.5 185.5,331.1 186.5,331.0 187.0,330.2 187.4,329.2 187.8,327.8 188.0,326.9 188.2,325.8 188.4,324.7 188.5,323.4 188.7,322.2 188.9,320.9 189.1,319.9 189.5,319.0 189.9,319.9 190.1,320.9 190.2,322.2 190.4,323.5 190.6,324.8 190.8,326.0 191.0,327.1 191.2,328.0 191.4,328.9 191.8,330.2 192.2,331.2 192.7,332.0 193.5,332.7 194.2,333.0 195.2,333.3 196.1,333.4 197.1,333.5 198.0,333.4 199.0,333.3 199.8,333.0 200.5,332.6 201.3,332.1 202.0,331.5 203.0,331.5 203.7,332.1 204.5,332.7 205.3,333.1 206.0,333.3 207.0,333.5 207.9,333.5 208.9,333.4 209.8,333.1 210.6,332.7 211.3,332.0 211.9,331.5 212.7,330.8 213.6,331.0 214.2,331.6 214.8,332.2 215.5,332.9 216.3,333.3 217.0,333.6 218.0,333.8 218.9,333.9 219.9,333.9 220.8,334.0 221.8,334.0 222.7,334.0 223.7,334.1 224.6,334.1 225.6,334.1 226.5,334.1 227.5,334.1 228.4,334.1 229.4,334.1 230.3,334.1 231.3,334.1 232.2,334.1 233.2,334.1 234.1,334.1 235.1,334.1 236.0,334.1 237.0,334.1 237.9,334.1 238.9,334.1 239.8,334.1 240.8,334.1 241.7,334.1 242.7,334.1 243.6,334.1 244.6,334.1 245.5,334.1 246.5,334.1 247.4,334.1 248.4,334.1 249.3,334.0 250.3,334.0 251.2,333.9 252.2,333.7 253.1,333.5 254.1,333.6 255.0,333.7 256.0,333.9 256.9,334.0 257.9,334.0 258.8,334.0 259.8,334.0 260.7,334.0 261.7,334.0 262.6,334.0 263.6,333.9 264.5,333.8 265.5,333.7 266.4,333.4 267.2,333.0 268.0,332.3 268.5,331.5 268.9,330.7 269.3,330.0 269.7,329.2 270.2,328.6 271.0,329.4 271.4,330.1 271.8,330.9 272.3,331.9 272.9,332.6 273.7,333.2 274.4,333.6 275.4,333.8 276.3,333.9 277.3,334.0 278.2,334.1 279.2,334.3 280.1,334.4 281.1,334.6 282.0,334.7 283.0,334.9 283.9,335.0 284.9,335.1 285.8,335.3 286.8,335.4 287.7,335.5 288.7,335.6 289.6,335.8 290.6,335.9 291.5,336.0 292.5,336.0 293.4,336.1 294.4,336.2 295.3,336.3 296.3,336.3 297.2,336.4 298.2,336.4 299.1,336.4 300.1,336.4 301.0,336.2 301.8,335.9 302.5,335.6 303.3,335.3 304.2,335.6 305.0,336.1 305.8,336.7 306.5,337.1 307.3,337.4 308.2,337.7" fill="none" stroke="#d8201f" stroke-width="1.0" stroke-linejoin="round"/>
<path d="M34.5 347V352.2M42.5 347V352.2M44.5 347V352.2M51.5 347V352.2M60.5 347V352.2M72.5 347V352.2M85.5 347V352.2M100.5 347V352.2M104.5 347V352.2M108.5 347V352.2M110.5 347V352.2M116.5 347V352.2M123.5 347V352.2M125.5 347V352.2M127.5 347V352.2M129.5 347V352.2M132.5 347V352.2M135.5 347V352.2M144.5 347V352.2M148.5 347V352.2M153.5 347V352.2M162.5 347V352.2M166.5 347V352.2M171.5 347V352.2M174.5 347V352.2M182.5 347V352.2M184.5 347V352.2M186.5 347V352.2M188.5 347V352.2M190.5 347V352.2M195.5 347V352.2M198.5 347V352.2M200.5 347V352.2M203.5 347V352.2M210.5 347V352.2M213.5 347V352.2M215.5 347V352.2M217.5 347V352.2M219.5 347V352.2M221.5 347V352.2M224.5 347V352.2M226.5 347V352.2M228.5 347V352.2M230.5 347V352.2M232.5 347V352.2M237.5 347V352.2M239.5 347V352.2M241.5 347V352.2M243.5 347V352.2M246.5 347V352.2M252.5 347V352.2M254.5 347V352.2M255.5 347V352.2M256.5 347V352.2M257.5 347V352.2M258.5 347V352.2M259.5 347V352.2M260.5 347V352.2M262.5 347V352.2M264.5 347V352.2M266.5 347V352.2M268.5 347V352.2M270.5 347V352.2M274.5 347V352.2M276.5 347V352.2M278.5 347V352.2M280.5 347V352.2M286.5 347V352.2M289.5 347V352.2M290.5 347V352.2M292.5 347V352.2M293.5 347V352.2M297.5 347V352.2M299.5 347V352.2M301.5 347V352.2M303.5 347V352.2M304.5 347V352.2M307.5 347V352.2M308.5 347V352.2" stroke="#3046a8" stroke-width="1.1"/>
<polyline points="19.0,358.7 19.8,358.5 20.6,358.7 21.4,358.1 22.2,358.2 23.0,358.0 23.8,358.3 24.6,358.3 25.4,358.2 26.2,358.3 27.0,358.2 27.8,358.1 28.6,358.1 29.4,358.3 30.2,357.9 31.0,358.2 31.8,358.3 32.6,358.0 33.4,358.2 34.2,358.1 35.0,358.1 35.8,358.1 36.6,358.0 37.4,358.3 38.2,358.1 39.0,358.0 39.8,358.4 40.6,359.3 41.4,360.4 42.2,359.2 43.0,356.6 43.8,356.5 44.6,357.8 45.4,358.1 46.2,358.2 47.0,358.5 47.8,358.2 48.6,358.1 49.4,358.6 50.2,358.5 51.0,358.3 51.8,358.4 52.6,358.5 53.4,358.8 54.2,358.6 55.0,358.9 55.8,358.4 56.6,358.8 57.4,358.6 58.2,358.1 59.0,357.7 59.8,356.9 60.6,357.3 61.4,358.1 62.2,358.6 63.0,358.6 63.8,359.1 64.6,358.7 65.4,358.9 66.2,359.2 67.0,358.8 67.8,359.0 68.6,358.9 69.4,359.0 70.2,359.1 71.0,359.1 71.8,359.0 72.6,359.4 73.4,358.7 74.2,358.8 75.0,359.2 75.8,359.0 76.6,358.9 77.4,359.2 78.2,359.0 79.0,359.3 79.8,359.1 80.6,359.4 81.4,359.3 82.2,359.2 83.0,358.9 83.8,359.5 84.6,359.1 85.4,359.1 86.2,359.2 87.0,358.9 87.8,359.2 88.6,358.8 89.4,359.1 90.2,359.4 91.0,359.0 91.8,359.2 92.6,359.3 93.4,358.9 94.2,359.2 95.0,359.2 95.8,359.3 96.6,359.3 97.4,359.2 98.2,359.0 99.0,359.0 99.8,359.3 100.6,358.8 101.4,358.8 102.2,358.1 103.0,357.9 103.8,356.8 104.6,356.6 105.4,356.3 106.2,357.2 107.0,357.9 107.8,358.0 108.6,358.8 109.4,358.8 110.2,358.4 111.0,358.6 111.8,358.5 112.6,358.9 113.4,359.0 114.2,358.6 115.0,358.9 115.8,358.3 116.6,358.9 117.4,358.9 118.2,358.6 119.0,358.4 119.8,358.4 120.6,358.4 121.4,358.4 122.2,358.3 123.0,358.5 123.8,358.5 124.6,358.2 125.4,358.1 126.2,357.4 127.0,358.1 127.8,358.6 128.6,358.7 129.4,359.0 130.2,359.0 131.0,358.8 131.8,358.6 132.6,358.2 133.4,358.2 134.2,358.3 135.0,358.0 135.8,357.1 136.6,357.0 137.4,357.3 138.2,357.6 139.0,357.8 139.8,357.9 140.6,358.0 141.4,358.3 142.2,358.3 143.0,358.4 143.8,358.3 144.6,358.3 145.4,358.2 146.2,358.0 147.0,358.0 147.8,358.6 148.6,358.6 149.4,358.6 150.2,358.7 151.0,358.3 151.8,358.3 152.6,358.5 153.4,358.6 154.2,358.5 155.0,358.3 155.8,358.5 156.6,358.7 157.4,358.8 158.2,358.4 159.0,358.7 159.8,358.4 160.6,358.2 161.4,358.4 162.2,358.4 163.0,358.4 163.8,358.5 164.6,358.8 165.4,358.7 166.2,358.7 167.0,358.5 167.8,359.1 168.6,358.4 169.4,358.9 170.2,358.9 171.0,359.0 171.8,359.1 172.6,359.1 173.4,358.6 174.2,359.0 175.0,358.8 175.8,358.6 176.6,358.8 177.4,359.2 178.2,358.5 179.0,358.4 179.8,358.4 180.6,358.1 181.4,358.1 182.2,358.3 183.0,358.3 183.8,358.2 184.6,358.8 185.4,359.0 186.2,359.1 187.0,359.6 187.8,359.7 188.6,359.7 189.4,359.5 190.2,358.7 191.0,358.4 191.8,358.3 192.6,358.9 193.4,358.9 194.2,359.1 195.0,359.4 195.8,359.4 196.6,359.1 197.4,359.0 198.2,358.8 199.0,359.1 199.8,359.3 200.6,359.0 201.4,359.1 202.2,359.4 203.0,358.9 203.8,359.1 204.6,359.3 205.4,359.0 206.2,359.0 207.0,359.1 207.8,359.1 208.6,359.0 209.4,359.1 210.2,359.3 211.0,358.9 211.8,358.7 212.6,359.2 213.4,358.6 214.2,358.7 215.0,358.7 215.8,358.7 216.6,359.0 217.4,359.1 218.2,359.0 219.0,359.0 219.8,358.8 220.6,358.4 221.4,358.8 222.2,359.0 223.0,358.5 223.8,358.8 224.6,358.4 225.4,358.5 226.2,358.9 227.0,358.7 227.8,358.3 228.6,358.5 229.4,358.4 230.2,358.2 231.0,358.1 231.8,358.1 232.6,358.7 233.4,358.4 234.2,358.5 235.0,358.3 235.8,358.6 236.6,358.4 237.4,358.5 238.2,358.2 239.0,358.0 239.8,358.0 240.6,358.1 241.4,358.0 242.2,358.4 243.0,358.5 243.8,358.3 244.6,358.5 245.4,358.3 246.2,358.1 247.0,358.1 247.8,357.9 248.6,358.3 249.4,358.0 250.2,358.5 251.0,358.5 251.8,357.9 252.6,358.0 253.4,358.4 254.2,358.2 255.0,358.2 255.8,358.2 256.6,358.3 257.4,358.1 258.2,358.1 259.0,358.4 259.8,358.4 260.6,358.1 261.4,358.2 262.2,358.4 263.0,358.3 263.8,358.5 264.6,358.4 265.4,358.1 266.2,358.1 267.0,358.0 267.8,358.2 268.6,358.0 269.4,358.5 270.2,358.3 271.0,358.7 271.8,358.9 272.6,359.0 273.4,358.8 274.2,359.1 275.0,358.7 275.8,359.2 276.6,358.8 277.4,358.5 278.2,358.5 279.0,359.0 279.8,358.6 280.6,358.8 281.4,359.0 282.2,359.0 283.0,359.0 283.8,358.7 284.6,359.2 285.4,359.1 286.2,359.1 287.0,358.7 287.8,359.0 288.6,359.1 289.4,359.0 290.2,359.2 291.0,359.1 291.8,359.1 292.6,358.8 293.4,358.8 294.2,359.4 295.0,359.5 295.8,358.8 296.6,358.9 297.4,358.9 298.2,359.5 299.0,359.2 299.8,359.1 300.6,359.2 301.4,358.9 302.2,359.0 303.0,359.2 303.8,359.4 304.6,358.9 305.4,359.3 306.2,358.8 307.0,359.4" fill="none" stroke="#3d803d" stroke-width="1.15" stroke-linejoin="round"/>
<path d="M15.8 8V367.3H310.2V8Z M15.8 127.7H310.2 M15.8 247.7H310.2" fill="none" stroke="#111" stroke-width="1.8"/>
<path d="M18.8 8V11.6M18.8 124.2V131.2M18.8 244.2V251.2M18.8 367.3V363.7M49.1 8V11.6M49.1 124.2V131.2M49.1 244.2V251.2M49.1 367.3V363.7M79.5 8V11.6M79.5 124.2V131.2M79.5 244.2V251.2M79.5 367.3V363.7M109.8 8V11.6M109.8 124.2V131.2M109.8 244.2V251.2M109.8 367.3V363.7M140.2 8V11.6M140.2 124.2V131.2M140.2 244.2V251.2M140.2 367.3V363.7M170.5 8V11.6M170.5 124.2V131.2M170.5 244.2V251.2M170.5 367.3V363.7M200.8 8V11.6M200.8 124.2V131.2M200.8 244.2V251.2M200.8 367.3V363.7M231.2 8V11.6M231.2 124.2V131.2M231.2 244.2V251.2M231.2 367.3V363.7M261.5 8V11.6M261.5 124.2V131.2M261.5 244.2V251.2M261.5 367.3V363.7M291.9 8V11.6M291.9 124.2V131.2M291.9 244.2V251.2M291.9 367.3V363.7" stroke="#111" stroke-width="1.5"/>
<g font-weight="bold" fill="#000" stroke="#000" stroke-width="0.12">
<text x="155.8" y="24.9" font-size="9.8">R<tspan font-size="6.4" dx="0.5" dy="3.6">wp</tspan><tspan dx="0.5" dy="-3.6" font-size="9.4">=1.02%</tspan></text>
<text x="155.8" y="146.2" font-size="9.8">R<tspan font-size="6.4" dx="0.5" dy="3.6">wp</tspan><tspan dx="0.5" dy="-3.6" font-size="9.4">=1.01%</tspan></text>
<text x="155.8" y="264.2" font-size="9.8">R<tspan font-size="6.4" dx="0.5" dy="3.6">wp</tspan><tspan dx="0.5" dy="-3.6" font-size="9.4">=1.00%</tspan></text>
</g>
<g font-weight="bold" font-size="10" fill="#7a0d35">
<text x="231.6" y="60.1">P = 45.9 GPa</text>
<text x="231.6" y="179.3">P = 26.1 GPa</text>
<text x="231.6" y="295.1">P = 6.9 GPa</text>
</g>
<g font-size="14" fill="#000" letter-spacing="0.5">
<text x="252.2" y="41.5">(e)</text>
<text x="254.2" y="195.6">(c)</text>
<text x="248.4" y="313.8">(a)</text>
</g>
<g font-weight="bold" font-size="11" fill="#000" text-anchor="middle">
<text x="18.8" y="382.7">4</text>
<text x="49.1" y="382.7">6</text>
<text x="79.5" y="382.7">8</text>
<text x="109.8" y="382.7">10</text>
<text x="140.2" y="382.7">12</text>
<text x="170.5" y="382.7">14</text>
<text x="200.8" y="382.7">16</text>
<text x="231.2" y="382.7">18</text>
<text x="261.5" y="382.7">20</text>
<text x="291.9" y="382.7">22</text>
</g>
<text x="131" y="398" font-weight="bold" font-size="11.7">2<tspan font-style="italic">θ</tspan> (Degree)</text>
<text transform="translate(8.9,181.5) rotate(-90) scale(1.07,1)" text-anchor="middle" font-weight="bold" font-size="11.2">Intenisty (a.u.)</text>
<defs><radialGradient id="g1" gradientUnits="userSpaceOnUse" cx="379.7" cy="58.2" r="90"><stop offset="0" stop-color="#474747"/><stop offset="0.3" stop-color="#424242"/><stop offset="0.55" stop-color="#383838"/><stop offset="0.65" stop-color="#2e2e2e"/><stop offset="0.73" stop-color="#222"/><stop offset="0.81" stop-color="#161616"/><stop offset="1" stop-color="#0c0c0c"/></radialGradient><clipPath id="c1"><rect x="314" y="0" width="125" height="121"/></clipPath><filter id="b1" x="-5%" y="-5%" width="110%" height="110%"><feGaussianBlur stdDeviation="0.45"/></filter></defs><g clip-path="url(#c1)"><g filter="url(#b1)"><rect x="314" y="0" width="125" height="121" fill="url(#g1)"/><linearGradient id="hb1" gradientUnits="userSpaceOnUse" x1="314" y1="0" x2="379.7" y2="0"><stop offset="0" stop-color="#000" stop-opacity="0.3"/><stop offset="0.75" stop-color="#000" stop-opacity="0.25"/><stop offset="1" stop-color="#000" stop-opacity="0"/></linearGradient><rect x="314" y="55.800000000000004" width="63.69999999999999" height="4.8" fill="url(#hb1)"/><rect x="314" y="0" width="14.300000000000011" height="55.800000000000004" fill="#000" opacity="0.12"/><circle cx="379.7" cy="58.2" r="12.1" fill="none" stroke="#b8b8b8" stroke-width="0.9"/><circle cx="379.7" cy="58.2" r="15.0" fill="none" stroke="#5c5c5c" stroke-width="0.7"/><circle cx="379.7" cy="58.2" r="20.0" fill="none" stroke="#8a8a8a" stroke-width="0.8"/><circle cx="379.7" cy="58.2" r="20.0" fill="none" stroke="#d8d8d8" stroke-width="1.0" stroke-dasharray="1.7 2.7 2.4 2.4 1.8 2.8 1.3 2.5 1.9 3.4 1.1 1.9 1.1 3.4 2.0 1.1 2.5 3.9 2.0 2.8 1.2 1.0 1.8 1.2 1.3 1.7 1.0 2.4 1.7 3.5 1.8 2.9 1.7 3.0 1.7 1.8 2.5 4.0 2.3 3.1 1.5 1.7 1.4 1.2 2.1 2.2 2.3 2.2 2.4 3.5 1.0 1.6 2.4 2.4 2.5 2.2 1.1 2.9 2.2 0.4" stroke-linecap="round"/><circle cx="379.7" cy="58.2" r="24.5" fill="none" stroke="#555" stroke-width="0.7"/><circle cx="379.7" cy="58.2" r="24.5" fill="none" stroke="#8c8c8c" stroke-width="1.28" stroke-dasharray="1.1 9.2 1.1 21.5 1.6 9.7 1.0 9.4 0.9 19.2 1.0 15.8 1.2 10.7 1.5 9.8 1.4 9.6 1.2 11.0 1.1 14.9" stroke-linecap="round"/><circle cx="379.7" cy="58.2" r="29.5" fill="none" stroke="#525252" stroke-width="0.7"/><circle cx="379.7" cy="58.2" r="33.0" fill="none" stroke="#5a5a5a" stroke-width="0.8"/><circle cx="379.7" cy="58.2" r="33.0" fill="none" stroke="#b0b0b0" stroke-width="1.2" stroke-dasharray="2.5 10.2 1.4 11.0 1.2 6.5 2.3 8.8 1.1 11.9 1.2 5.3 2.1 6.0 1.4 3.7 1.0 8.2 1.3 8.4 1.5 7.1 2.4 7.4 1.8 10.8 1.2 4.4 2.4 10.4 1.3 4.7 2.1 11.5 1.2 11.6 2.3 8.4 1.6 3.9 1.0 13.0" stroke-linecap="round"/><circle cx="379.7" cy="58.2" r="37.0" fill="none" stroke="#4e4e4e" stroke-width="0.6"/><circle cx="379.7" cy="58.2" r="37.0" fill="none" stroke="#888" stroke-width="1.28" stroke-dasharray="1.8 14.3 1.5 14.6 1.6 20.7 1.1 13.2 1.5 11.2 1.0 20.1 1.7 21.1 1.1 26.5 1.0 10.3 1.1 18.0 0.9 13.2 1.2 20.3 0.9 12.7" stroke-linecap="round"/><circle cx="379.7" cy="58.2" r="40.5" fill="none" stroke="#484848" stroke-width="0.6"/><circle cx="379.7" cy="58.2" r="44.0" fill="none" stroke="#525252" stroke-width="0.7"/><circle cx="379.7" cy="58.2" r="44.0" fill="none" stroke="#a0a0a0" stroke-width="1.36" stroke-dasharray="1.2 20.4 2.0 16.9 1.6 15.8 1.0 7.5 0.8 20.7 1.6 21.4 0.8 16.5 1.4 18.0 1.2 22.0 0.9 15.2 1.7 20.5 1.7 17.6 1.8 20.7 1.2 17.3 1.9 5.3" stroke-linecap="round"/><circle cx="379.7" cy="58.2" r="47.5" fill="none" stroke="#464646" stroke-width="0.6"/><circle cx="379.7" cy="58.2" r="51.0" fill="none" stroke="#4c4c4c" stroke-width="0.7"/><circle cx="379.7" cy="58.2" r="51.0" fill="none" stroke="#959595" stroke-width="1.36" stroke-dasharray="1.8 16.1 1.7 23.7 1.4 19.6 1.2 18.9 1.5 10.4 1.5 25.9 1.8 21.4 1.2 21.5 1.4 16.5 1.7 10.4 1.6 9.5 1.5 17.2 1.1 20.9 1.3 19.4 1.8 13.3 0.8 14.1 1.5 16.8" stroke-linecap="round"/><circle cx="379.7" cy="58.2" r="55.0" fill="none" stroke="#444" stroke-width="0.6"/><circle cx="379.7" cy="58.2" r="58.0" fill="none" stroke="#474747" stroke-width="0.6"/><circle cx="379.7" cy="58.2" r="58.0" fill="none" stroke="#888" stroke-width="1.28" stroke-dasharray="1.0 13.4 1.7 23.2 1.2 27.8 1.1 23.3 1.0 18.6 1.6 28.3 1.7 17.7 1.4 16.3 0.9 19.9 1.6 27.0 1.5 29.0 1.1 13.4 1.3 15.5 1.0 18.3 1.4 19.9 1.1 26.8 1.8 3.5" stroke-linecap="round"/><circle cx="379.7" cy="58.2" r="62.0" fill="none" stroke="#3c3c3c" stroke-width="0.6"/><circle cx="379.7" cy="58.2" r="65.0" fill="none" stroke="#777" stroke-width="1.2" stroke-dasharray="1.2 13.6 0.8 31.2 0.8 27.6 1.3 18.8 1.5 12.4 0.9 22.0 0.8 30.3 1.0 15.1 0.8 25.8 1.2 25.9 1.4 29.8 1.7 27.1 1.0 22.5 1.0 12.2 1.2 27.7 1.0 18.0 1.1 29.7" stroke-linecap="round"/><circle cx="379.7" cy="58.2" r="1.7" fill="#000"/><path d="M328.3 0V56" stroke="#383838" stroke-width="0.8"/><path d="M341.8 0V58" stroke="#444" stroke-width="0.8"/><path d="M385.3 61V121" stroke="#c8c8c8" stroke-width="0.9"/><ellipse cx="341.7" cy="39.3" rx="3.0" ry="2.5999999999999996" fill="#aaa" opacity="0.55"/><ellipse cx="341.7" cy="39.3" rx="1.4" ry="1.2" fill="#fff"/></g><rect x="436.5" y="0" width="2.5" height="121" fill="#050505"/><rect x="314" y="0" width="1.5" height="121" fill="#050505"/><rect x="314" y="0.8" width="125" height="1.2" fill="#050505"/></g><text x="435.2" y="114.9" text-anchor="end" font-weight="bold" font-size="15" fill="#c22c36">(f)</text>
<defs><radialGradient id="g2" gradientUnits="userSpaceOnUse" cx="379.95" cy="181.9" r="90"><stop offset="0" stop-color="#474747"/><stop offset="0.3" stop-color="#424242"/><stop offset="0.55" stop-color="#383838"/><stop offset="0.65" stop-color="#2e2e2e"/><stop offset="0.73" stop-color="#222"/><stop offset="0.81" stop-color="#161616"/><stop offset="1" stop-color="#0c0c0c"/></radialGradient><clipPath id="c2"><rect x="314" y="124" width="125" height="122.5"/></clipPath><filter id="b2" x="-5%" y="-5%" width="110%" height="110%"><feGaussianBlur stdDeviation="0.45"/></filter></defs><g clip-path="url(#c2)"><g filter="url(#b2)"><rect x="314" y="124" width="125" height="122.5" fill="url(#g2)"/><linearGradient id="hb2" gradientUnits="userSpaceOnUse" x1="314" y1="0" x2="379.95" y2="0"><stop offset="0" stop-color="#000" stop-opacity="0.3"/><stop offset="0.75" stop-color="#000" stop-opacity="0.25"/><stop offset="1" stop-color="#000" stop-opacity="0"/></linearGradient><rect x="314" y="179.5" width="63.94999999999999" height="4.8" fill="url(#hb2)"/><rect x="314" y="124" width="15.300000000000011" height="55.5" fill="#000" opacity="0.12"/><circle cx="379.95" cy="181.9" r="12.1" fill="none" stroke="#b8b8b8" stroke-width="0.9"/><circle cx="379.95" cy="181.9" r="15.0" fill="none" stroke="#5c5c5c" stroke-width="0.7"/><circle cx="379.95" cy="181.9" r="20.0" fill="none" stroke="#8a8a8a" stroke-width="0.8"/><circle cx="379.95" cy="181.9" r="20.0" fill="none" stroke="#d8d8d8" stroke-width="1.0" stroke-dasharray="2.4 1.4 1.0 4.0 1.3 1.4 2.0 2.0 2.3 1.7 2.4 2.0 1.9 3.8 2.0 3.8 2.1 1.1 2.3 2.8 1.5 1.6 2.3 2.7 2.4 3.3 2.4 2.7 2.0 2.8 1.4 3.9 1.5 3.3 2.4 3.0 1.2 3.5 2.0 1.6 1.1 2.6 1.0 3.8 1.8 2.6 1.6 3.0 2.4 1.9 1.6 2.7 1.4 2.8 1.8 2.3" stroke-linecap="round"/><circle cx="379.95" cy="181.9" r="24.5" fill="none" stroke="#555" stroke-width="0.7"/><circle cx="379.95" cy="181.9" r="24.5" fill="none" stroke="#8c8c8c" stroke-width="1.28" stroke-dasharray="1.2 17.4 1.3 9.2 1.8 13.0 1.2 13.6 1.7 21.3 1.3 13.6 0.9 20.5 1.0 15.7 1.1 17.9" stroke-linecap="round"/><circle cx="379.95" cy="181.9" r="29.5" fill="none" stroke="#525252" stroke-width="0.7"/><circle cx="379.95" cy="181.9" r="33.0" fill="none" stroke="#5a5a5a" stroke-width="0.8"/><circle cx="379.95" cy="181.9" r="33.0" fill="none" stroke="#b0b0b0" stroke-width="1.2" stroke-dasharray="1.4 6.2 1.2 3.3 1.8 10.2 1.9 4.8 2.0 3.5 1.6 10.5 2.4 7.1 2.3 7.5 1.7 8.3 2.5 9.7 1.7 9.5 1.9 6.2 2.2 10.4 1.9 11.5 0.9 7.5 1.9 6.1 1.2 9.2 1.6 5.4 1.0 11.7 1.5 4.1 1.2 5.3 2.3 11.5" stroke-linecap="round"/><circle cx="379.95" cy="181.9" r="37.0" fill="none" stroke="#4e4e4e" stroke-width="0.6"/><circle cx="379.95" cy="181.9" r="37.0" fill="none" stroke="#888" stroke-width="1.28" stroke-dasharray="1.0 15.0 0.9 18.5 1.0 16.2 1.5 26.7 1.6 10.7 1.2 25.3 0.8 13.7 1.3 16.9 1.6 22.9 1.3 14.5 1.0 14.8 0.9 23.4" stroke-linecap="round"/><circle cx="379.95" cy="181.9" r="40.5" fill="none" stroke="#484848" stroke-width="0.6"/><circle cx="379.95" cy="181.9" r="44.0" fill="none" stroke="#525252" stroke-width="0.7"/><circle cx="379.95" cy="181.9" r="44.0" fill="none" stroke="#a0a0a0" stroke-width="1.36" stroke-dasharray="1.6 9.4 1.9 16.7 0.9 14.5 1.5 7.6 1.4 7.4 1.7 7.1 1.6 21.8 1.8 10.5 1.4 9.1 1.2 20.0 1.8 7.1 1.3 16.6 1.0 19.0 1.9 15.3 1.2 19.7 1.4 9.8 1.1 9.4 1.8 14.6 1.6 12.7" stroke-linecap="round"/><circle cx="379.95" cy="181.9" r="47.5" fill="none" stroke="#464646" stroke-width="0.6"/><circle cx="379.95" cy="181.9" r="51.0" fill="none" stroke="#4c4c4c" stroke-width="0.7"/><circle cx="379.95" cy="181.9" r="51.0" fill="none" stroke="#959595" stroke-width="1.36" stroke-dasharray="1.7 25.6 1.0 15.9 1.8 21.9 1.2 20.1 1.0 11.7 0.9 15.5 1.1 17.8 1.9 11.6 1.4 23.7 1.5 18.0 1.6 9.4 1.8 20.7 1.7 23.0 0.9 10.1 1.0 17.6 1.8 24.5 1.3 9.9" stroke-linecap="round"/><circle cx="379.95" cy="181.9" r="55.0" fill="none" stroke="#444" stroke-width="0.6"/><circle cx="379.95" cy="181.9" r="58.0" fill="none" stroke="#474747" stroke-width="0.6"/><circle cx="379.95" cy="181.9" r="58.0" fill="none" stroke="#888" stroke-width="1.28" stroke-dasharray="1.4 24.8 1.1 29.4 1.7 24.5 1.7 26.0 1.5 16.4 1.1 14.8 0.9 28.5 1.1 10.5 1.1 12.1 1.2 16.6 1.0 19.5 1.2 17.1 1.6 16.1 1.3 27.6 1.8 17.5 0.8 29.0 1.3 12.0" stroke-linecap="round"/><circle cx="379.95" cy="181.9" r="62.0" fill="none" stroke="#3c3c3c" stroke-width="0.6"/><circle cx="379.95" cy="181.9" r="65.0" fill="none" stroke="#777" stroke-width="1.2" stroke-dasharray="1.0 14.8 1.0 18.8 0.9 13.1 1.7 30.0 0.9 22.6 1.5 23.1 0.9 19.5 1.1 32.1 1.3 22.1 1.4 13.1 1.4 29.8 1.4 19.9 1.1 12.2 0.9 15.4 1.2 29.1 1.0 22.4 1.4 25.8 0.8 23.6" stroke-linecap="round"/><circle cx="379.95" cy="181.9" r="1.7" fill="#000"/><path d="M329.3 124V180" stroke="#3c3c3c" stroke-width="0.8"/><path d="M341.9 124V184" stroke="#7c7c7c" stroke-width="0.9"/><ellipse cx="342.2" cy="163" rx="4.2" ry="3.3" fill="#aaa" opacity="0.55"/><ellipse cx="342.2" cy="163" rx="2.6" ry="1.9" fill="#fff"/></g><rect x="436.5" y="124" width="2.5" height="122.5" fill="#050505"/><rect x="314" y="124" width="1.5" height="122.5" fill="#050505"/><rect x="314" y="124.8" width="125" height="1.2" fill="#050505"/></g><text x="436.6" y="240.0" text-anchor="end" font-weight="bold" font-size="15" fill="#c22c36">(d)</text>
<defs><radialGradient id="g3" gradientUnits="userSpaceOnUse" cx="379.8" cy="307.85" r="90"><stop offset="0" stop-color="#474747"/><stop offset="0.3" stop-color="#424242"/><stop offset="0.55" stop-color="#383838"/><stop offset="0.65" stop-color="#2e2e2e"/><stop offset="0.73" stop-color="#222"/><stop offset="0.81" stop-color="#161616"/><stop offset="1" stop-color="#0c0c0c"/></radialGradient><clipPath id="c3"><rect x="313" y="249.5" width="126" height="123.3"/></clipPath><filter id="b3" x="-5%" y="-5%" width="110%" height="110%"><feGaussianBlur stdDeviation="0.45"/></filter></defs><g clip-path="url(#c3)"><g filter="url(#b3)"><rect x="313" y="249.5" width="126" height="123.3" fill="url(#g3)"/><linearGradient id="hb3" gradientUnits="userSpaceOnUse" x1="313" y1="0" x2="379.8" y2="0"><stop offset="0" stop-color="#000" stop-opacity="0.3"/><stop offset="0.75" stop-color="#000" stop-opacity="0.25"/><stop offset="1" stop-color="#000" stop-opacity="0"/></linearGradient><rect x="313" y="305.45000000000005" width="64.80000000000001" height="4.8" fill="url(#hb3)"/><rect x="313" y="249.5" width="16.69999999999999" height="55.950000000000045" fill="#000" opacity="0.12"/><circle cx="379.8" cy="307.85" r="12.1" fill="none" stroke="#b8b8b8" stroke-width="0.9"/><circle cx="379.8" cy="307.85" r="15.0" fill="none" stroke="#5c5c5c" stroke-width="0.7"/><circle cx="379.8" cy="307.85" r="20.0" fill="none" stroke="#8a8a8a" stroke-width="0.8"/><circle cx="379.8" cy="307.85" r="20.0" fill="none" stroke="#d8d8d8" stroke-width="1.0" stroke-dasharray="1.9 2.9 2.2 1.8 2.0 3.7 2.4 1.6 2.0 2.9 1.8 3.9 1.8 2.3 2.4 2.9 1.5 1.9 1.7 1.2 1.9 3.2 1.6 3.5 2.4 2.7 2.0 1.4 1.1 3.9 1.4 1.6 2.3 3.2 1.2 2.0 1.4 1.8 1.0 2.6 1.5 2.2 1.3 1.3 1.0 3.6 2.1 2.7 1.2 1.4 1.2 1.9 1.1 1.8 1.3 1.6 2.0 2.4 1.7 2.1 1.8 1.5" stroke-linecap="round"/><circle cx="379.8" cy="307.85" r="24.5" fill="none" stroke="#555" stroke-width="0.7"/><circle cx="379.8" cy="307.85" r="24.5" fill="none" stroke="#8c8c8c" stroke-width="1.28" stroke-dasharray="1.6 12.3 0.9 14.7 1.2 18.9 0.9 20.2 0.8 15.6 1.2 12.4 1.7 17.8 1.0 14.9 1.4 16.3" stroke-linecap="round"/><circle cx="379.8" cy="307.85" r="29.5" fill="none" stroke="#525252" stroke-width="0.7"/><circle cx="379.8" cy="307.85" r="33.0" fill="none" stroke="#5a5a5a" stroke-width="0.8"/><circle cx="379.8" cy="307.85" r="33.0" fill="none" stroke="#b0b0b0" stroke-width="1.2" stroke-dasharray="1.0 3.8 1.9 9.6 1.6 6.8 1.7 5.3 2.3 11.7 1.7 3.2 1.5 10.2 1.4 4.0 1.2 9.4 1.9 5.6 1.9 9.8 2.4 10.5 1.6 10.3 2.4 10.8 2.1 8.3 1.7 10.7 1.9 9.5 1.3 3.8 1.3 8.3 1.8 4.8 1.2 11.6 1.0 2.7" stroke-linecap="round"/><circle cx="379.8" cy="307.85" r="37.0" fill="none" stroke="#4e4e4e" stroke-width="0.6"/><circle cx="379.8" cy="307.85" r="37.0" fill="none" stroke="#888" stroke-width="1.28" stroke-dasharray="1.7 23.9 1.4 27.9 1.5 10.1 1.7 17.4 1.7 24.6 0.9 10.7 0.8 24.1 1.6 14.1 0.9 16.6 1.6 23.3 1.7 24.1" stroke-linecap="round"/><circle cx="379.8" cy="307.85" r="40.5" fill="none" stroke="#484848" stroke-width="0.6"/><circle cx="379.8" cy="307.85" r="44.0" fill="none" stroke="#525252" stroke-width="0.7"/><circle cx="379.8" cy="307.85" r="44.0" fill="none" stroke="#a0a0a0" stroke-width="1.36" stroke-dasharray="2.0 18.3 1.8 7.2 0.8 19.9 1.5 11.9 1.0 12.0 1.2 14.4 1.3 10.0 0.9 10.0 1.0 8.5 1.3 9.0 1.8 15.2 1.4 16.6 1.1 7.4 0.9 12.1 1.2 10.8 1.2 19.5 0.8 13.7 1.3 11.2 1.7 10.4 0.9 13.5" stroke-linecap="round"/><circle cx="379.8" cy="307.85" r="47.5" fill="none" stroke="#464646" stroke-width="0.6"/><circle cx="379.8" cy="307.85" r="51.0" fill="none" stroke="#4c4c4c" stroke-width="0.7"/><circle cx="379.8" cy="307.85" r="51.0" fill="none" stroke="#959595" stroke-width="1.36" stroke-dasharray="1.0 25.6 1.2 11.0 1.9 20.0 1.9 14.6 1.7 9.7 1.1 22.5 1.4 22.4 1.2 23.9 0.9 19.6 1.0 12.4 1.8 16.3 1.7 13.8 1.6 24.4 1.5 13.0 1.5 25.2 1.7 23.1" stroke-linecap="round"/><circle cx="379.8" cy="307.85" r="55.0" fill="none" stroke="#444" stroke-width="0.6"/><circle cx="379.8" cy="307.85" r="58.0" fill="none" stroke="#474747" stroke-width="0.6"/><circle cx="379.8" cy="307.85" r="58.0" fill="none" stroke="#888" stroke-width="1.28" stroke-dasharray="1.2 18.0 0.9 25.4 1.0 14.4 0.8 13.3 1.2 19.5 1.0 18.5 1.6 11.9 0.9 20.4 1.7 28.4 1.4 11.8 1.7 29.9 1.7 20.6 1.2 21.7 1.6 29.9 1.3 20.1 1.1 20.8 1.3 18.2" stroke-linecap="round"/><circle cx="379.8" cy="307.85" r="62.0" fill="none" stroke="#3c3c3c" stroke-width="0.6"/><circle cx="379.8" cy="307.85" r="65.0" fill="none" stroke="#777" stroke-width="1.2" stroke-dasharray="1.1 22.1 1.6 17.2 1.0 18.7 1.6 18.7 1.5 32.4 1.6 29.7 1.0 21.9 1.5 17.4 1.3 31.2 1.6 19.7 0.9 12.7 1.1 24.0 1.1 30.1 1.4 25.7 1.5 19.2 1.4 19.7 1.1 25.7" stroke-linecap="round"/><circle cx="379.8" cy="307.85" r="1.7" fill="#000"/><path d="M329.7 249.5V306" stroke="#3c3c3c" stroke-width="0.8"/><path d="M341.6 249.5V310" stroke="#7a7a7a" stroke-width="0.9"/><ellipse cx="341.8" cy="288.6" rx="4.6" ry="3.8" fill="#aaa" opacity="0.55"/><ellipse cx="341.8" cy="288.6" rx="3.0" ry="2.4" fill="#fff"/></g><rect x="436.5" y="249.5" width="2.5" height="123.3" fill="#050505"/><rect x="313" y="249.5" width="1.5" height="123.3" fill="#050505"/><rect x="313" y="250.3" width="126" height="1.2" fill="#050505"/></g><text x="436.5" y="366.7" text-anchor="end" font-weight="bold" font-size="15" fill="#c22c36">(b)</text>
<ellipse cx="385.6" cy="109" rx="4.2" ry="3.4" fill="#aaa" opacity="0.5"/><ellipse cx="385.6" cy="109" rx="3.2" ry="2.4" fill="#fff"/>
</svg></body></html>
